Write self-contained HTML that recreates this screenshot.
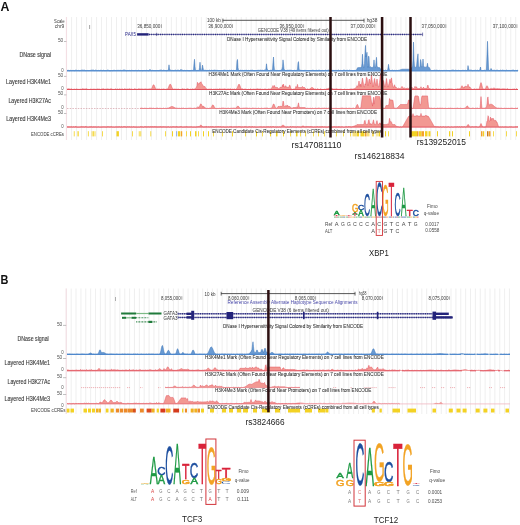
<!DOCTYPE html>
<html><head><meta charset="utf-8"><style>
html,body{margin:0;padding:0;background:#fff;}
svg{display:block;will-change:transform;}
text{font-family:"Liberation Sans", sans-serif;}
</style></head><body>
<svg width="520" height="525" viewBox="0 0 520 525">
<rect width="520" height="525" fill="#fff"/>
<text x="0.50" y="10.80" font-size="12.8" fill="#111" font-weight="bold" textLength="8.90" lengthAdjust="spacingAndGlyphs">A</text>
<line x1="66.60" y1="17.00" x2="66.60" y2="140.00" stroke="#ebebeb" stroke-width="0.8"/>
<line x1="71.59" y1="17.00" x2="71.59" y2="140.00" stroke="#ebebeb" stroke-width="0.8"/>
<line x1="76.58" y1="17.00" x2="76.58" y2="140.00" stroke="#ebebeb" stroke-width="0.8"/>
<line x1="81.57" y1="17.00" x2="81.57" y2="140.00" stroke="#ebebeb" stroke-width="0.8"/>
<line x1="86.56" y1="17.00" x2="86.56" y2="140.00" stroke="#ebebeb" stroke-width="0.8"/>
<line x1="91.55" y1="17.00" x2="91.55" y2="140.00" stroke="#ebebeb" stroke-width="0.8"/>
<line x1="96.54" y1="17.00" x2="96.54" y2="140.00" stroke="#ebebeb" stroke-width="0.8"/>
<line x1="101.53" y1="17.00" x2="101.53" y2="140.00" stroke="#ebebeb" stroke-width="0.8"/>
<line x1="106.52" y1="17.00" x2="106.52" y2="140.00" stroke="#ebebeb" stroke-width="0.8"/>
<line x1="111.51" y1="17.00" x2="111.51" y2="140.00" stroke="#ebebeb" stroke-width="0.8"/>
<line x1="116.50" y1="17.00" x2="116.50" y2="140.00" stroke="#ebebeb" stroke-width="0.8"/>
<line x1="121.49" y1="17.00" x2="121.49" y2="140.00" stroke="#ebebeb" stroke-width="0.8"/>
<line x1="126.48" y1="17.00" x2="126.48" y2="140.00" stroke="#ebebeb" stroke-width="0.8"/>
<line x1="131.47" y1="17.00" x2="131.47" y2="140.00" stroke="#ebebeb" stroke-width="0.8"/>
<line x1="136.46" y1="17.00" x2="136.46" y2="140.00" stroke="#ebebeb" stroke-width="0.8"/>
<line x1="141.45" y1="17.00" x2="141.45" y2="140.00" stroke="#ebebeb" stroke-width="0.8"/>
<line x1="146.44" y1="17.00" x2="146.44" y2="140.00" stroke="#ebebeb" stroke-width="0.8"/>
<line x1="151.43" y1="17.00" x2="151.43" y2="140.00" stroke="#ebebeb" stroke-width="0.8"/>
<line x1="156.42" y1="17.00" x2="156.42" y2="140.00" stroke="#ebebeb" stroke-width="0.8"/>
<line x1="161.41" y1="17.00" x2="161.41" y2="140.00" stroke="#ebebeb" stroke-width="0.8"/>
<line x1="166.40" y1="17.00" x2="166.40" y2="140.00" stroke="#ebebeb" stroke-width="0.8"/>
<line x1="171.39" y1="17.00" x2="171.39" y2="140.00" stroke="#ebebeb" stroke-width="0.8"/>
<line x1="176.38" y1="17.00" x2="176.38" y2="140.00" stroke="#ebebeb" stroke-width="0.8"/>
<line x1="181.37" y1="17.00" x2="181.37" y2="140.00" stroke="#ebebeb" stroke-width="0.8"/>
<line x1="186.36" y1="17.00" x2="186.36" y2="140.00" stroke="#ebebeb" stroke-width="0.8"/>
<line x1="191.35" y1="17.00" x2="191.35" y2="140.00" stroke="#ebebeb" stroke-width="0.8"/>
<line x1="196.34" y1="17.00" x2="196.34" y2="140.00" stroke="#ebebeb" stroke-width="0.8"/>
<line x1="201.33" y1="17.00" x2="201.33" y2="140.00" stroke="#ebebeb" stroke-width="0.8"/>
<line x1="206.32" y1="17.00" x2="206.32" y2="140.00" stroke="#ebebeb" stroke-width="0.8"/>
<line x1="211.31" y1="17.00" x2="211.31" y2="140.00" stroke="#ebebeb" stroke-width="0.8"/>
<line x1="216.30" y1="17.00" x2="216.30" y2="140.00" stroke="#ebebeb" stroke-width="0.8"/>
<line x1="221.29" y1="17.00" x2="221.29" y2="140.00" stroke="#ebebeb" stroke-width="0.8"/>
<line x1="226.28" y1="17.00" x2="226.28" y2="140.00" stroke="#ebebeb" stroke-width="0.8"/>
<line x1="231.27" y1="17.00" x2="231.27" y2="140.00" stroke="#ebebeb" stroke-width="0.8"/>
<line x1="236.26" y1="17.00" x2="236.26" y2="140.00" stroke="#ebebeb" stroke-width="0.8"/>
<line x1="241.25" y1="17.00" x2="241.25" y2="140.00" stroke="#ebebeb" stroke-width="0.8"/>
<line x1="246.24" y1="17.00" x2="246.24" y2="140.00" stroke="#ebebeb" stroke-width="0.8"/>
<line x1="251.23" y1="17.00" x2="251.23" y2="140.00" stroke="#ebebeb" stroke-width="0.8"/>
<line x1="256.22" y1="17.00" x2="256.22" y2="140.00" stroke="#ebebeb" stroke-width="0.8"/>
<line x1="261.21" y1="17.00" x2="261.21" y2="140.00" stroke="#ebebeb" stroke-width="0.8"/>
<line x1="266.20" y1="17.00" x2="266.20" y2="140.00" stroke="#ebebeb" stroke-width="0.8"/>
<line x1="271.19" y1="17.00" x2="271.19" y2="140.00" stroke="#ebebeb" stroke-width="0.8"/>
<line x1="276.18" y1="17.00" x2="276.18" y2="140.00" stroke="#ebebeb" stroke-width="0.8"/>
<line x1="281.17" y1="17.00" x2="281.17" y2="140.00" stroke="#ebebeb" stroke-width="0.8"/>
<line x1="286.16" y1="17.00" x2="286.16" y2="140.00" stroke="#ebebeb" stroke-width="0.8"/>
<line x1="291.15" y1="17.00" x2="291.15" y2="140.00" stroke="#ebebeb" stroke-width="0.8"/>
<line x1="296.14" y1="17.00" x2="296.14" y2="140.00" stroke="#ebebeb" stroke-width="0.8"/>
<line x1="301.13" y1="17.00" x2="301.13" y2="140.00" stroke="#ebebeb" stroke-width="0.8"/>
<line x1="306.12" y1="17.00" x2="306.12" y2="140.00" stroke="#ebebeb" stroke-width="0.8"/>
<line x1="311.11" y1="17.00" x2="311.11" y2="140.00" stroke="#ebebeb" stroke-width="0.8"/>
<line x1="316.10" y1="17.00" x2="316.10" y2="140.00" stroke="#ebebeb" stroke-width="0.8"/>
<line x1="321.09" y1="17.00" x2="321.09" y2="140.00" stroke="#ebebeb" stroke-width="0.8"/>
<line x1="326.08" y1="17.00" x2="326.08" y2="140.00" stroke="#ebebeb" stroke-width="0.8"/>
<line x1="331.07" y1="17.00" x2="331.07" y2="140.00" stroke="#ebebeb" stroke-width="0.8"/>
<line x1="336.06" y1="17.00" x2="336.06" y2="140.00" stroke="#ebebeb" stroke-width="0.8"/>
<line x1="341.05" y1="17.00" x2="341.05" y2="140.00" stroke="#ebebeb" stroke-width="0.8"/>
<line x1="346.04" y1="17.00" x2="346.04" y2="140.00" stroke="#ebebeb" stroke-width="0.8"/>
<line x1="351.03" y1="17.00" x2="351.03" y2="140.00" stroke="#ebebeb" stroke-width="0.8"/>
<line x1="356.02" y1="17.00" x2="356.02" y2="140.00" stroke="#ebebeb" stroke-width="0.8"/>
<line x1="361.01" y1="17.00" x2="361.01" y2="140.00" stroke="#ebebeb" stroke-width="0.8"/>
<line x1="366.00" y1="17.00" x2="366.00" y2="140.00" stroke="#ebebeb" stroke-width="0.8"/>
<line x1="370.99" y1="17.00" x2="370.99" y2="140.00" stroke="#ebebeb" stroke-width="0.8"/>
<line x1="375.98" y1="17.00" x2="375.98" y2="140.00" stroke="#ebebeb" stroke-width="0.8"/>
<line x1="380.97" y1="17.00" x2="380.97" y2="140.00" stroke="#ebebeb" stroke-width="0.8"/>
<line x1="385.96" y1="17.00" x2="385.96" y2="140.00" stroke="#ebebeb" stroke-width="0.8"/>
<line x1="390.95" y1="17.00" x2="390.95" y2="140.00" stroke="#ebebeb" stroke-width="0.8"/>
<line x1="395.94" y1="17.00" x2="395.94" y2="140.00" stroke="#ebebeb" stroke-width="0.8"/>
<line x1="400.93" y1="17.00" x2="400.93" y2="140.00" stroke="#ebebeb" stroke-width="0.8"/>
<line x1="405.92" y1="17.00" x2="405.92" y2="140.00" stroke="#ebebeb" stroke-width="0.8"/>
<line x1="410.91" y1="17.00" x2="410.91" y2="140.00" stroke="#ebebeb" stroke-width="0.8"/>
<line x1="415.90" y1="17.00" x2="415.90" y2="140.00" stroke="#ebebeb" stroke-width="0.8"/>
<line x1="420.89" y1="17.00" x2="420.89" y2="140.00" stroke="#ebebeb" stroke-width="0.8"/>
<line x1="425.88" y1="17.00" x2="425.88" y2="140.00" stroke="#ebebeb" stroke-width="0.8"/>
<line x1="430.87" y1="17.00" x2="430.87" y2="140.00" stroke="#ebebeb" stroke-width="0.8"/>
<line x1="435.86" y1="17.00" x2="435.86" y2="140.00" stroke="#ebebeb" stroke-width="0.8"/>
<line x1="440.85" y1="17.00" x2="440.85" y2="140.00" stroke="#ebebeb" stroke-width="0.8"/>
<line x1="445.84" y1="17.00" x2="445.84" y2="140.00" stroke="#ebebeb" stroke-width="0.8"/>
<line x1="450.83" y1="17.00" x2="450.83" y2="140.00" stroke="#ebebeb" stroke-width="0.8"/>
<line x1="455.82" y1="17.00" x2="455.82" y2="140.00" stroke="#ebebeb" stroke-width="0.8"/>
<line x1="460.81" y1="17.00" x2="460.81" y2="140.00" stroke="#ebebeb" stroke-width="0.8"/>
<line x1="465.80" y1="17.00" x2="465.80" y2="140.00" stroke="#ebebeb" stroke-width="0.8"/>
<line x1="470.79" y1="17.00" x2="470.79" y2="140.00" stroke="#ebebeb" stroke-width="0.8"/>
<line x1="475.78" y1="17.00" x2="475.78" y2="140.00" stroke="#ebebeb" stroke-width="0.8"/>
<line x1="480.77" y1="17.00" x2="480.77" y2="140.00" stroke="#ebebeb" stroke-width="0.8"/>
<line x1="485.76" y1="17.00" x2="485.76" y2="140.00" stroke="#ebebeb" stroke-width="0.8"/>
<line x1="490.75" y1="17.00" x2="490.75" y2="140.00" stroke="#ebebeb" stroke-width="0.8"/>
<line x1="495.74" y1="17.00" x2="495.74" y2="140.00" stroke="#ebebeb" stroke-width="0.8"/>
<line x1="500.73" y1="17.00" x2="500.73" y2="140.00" stroke="#ebebeb" stroke-width="0.8"/>
<line x1="505.72" y1="17.00" x2="505.72" y2="140.00" stroke="#ebebeb" stroke-width="0.8"/>
<line x1="510.71" y1="17.00" x2="510.71" y2="140.00" stroke="#ebebeb" stroke-width="0.8"/>
<line x1="515.70" y1="17.00" x2="515.70" y2="140.00" stroke="#ebebeb" stroke-width="0.8"/>
<line x1="66.40" y1="17.00" x2="66.40" y2="140.00" stroke="#f5d8de" stroke-width="0.8"/>
<text x="54.10" y="22.90" font-size="4.6" fill="#3a3a3a" textLength="10.50" lengthAdjust="spacingAndGlyphs">Scale</text>
<text x="54.80" y="28.30" font-size="4.6" fill="#3a3a3a" textLength="9.40" lengthAdjust="spacingAndGlyphs">chr9</text>
<text x="57.90" y="41.80" font-size="4.6" fill="#555555" textLength="5.40" lengthAdjust="spacingAndGlyphs">50</text>
<line x1="64.00" y1="41.50" x2="66.40" y2="41.50" stroke="#999" stroke-width="0.6"/>
<text x="19.50" y="56.90" font-size="6.7" fill="#3a3a3a" textLength="31.60" lengthAdjust="spacingAndGlyphs" stroke="#3a3a3a" stroke-width="0.12">DNase signal</text>
<text x="61.20" y="71.50" font-size="4.6" fill="#555555" textLength="2.40" lengthAdjust="spacingAndGlyphs">0</text>
<text x="57.90" y="76.70" font-size="4.6" fill="#555555" textLength="5.40" lengthAdjust="spacingAndGlyphs">50</text>
<line x1="64.00" y1="76.40" x2="66.40" y2="76.40" stroke="#999" stroke-width="0.6"/>
<text x="6.00" y="84.00" font-size="6.7" fill="#3a3a3a" textLength="45.00" lengthAdjust="spacingAndGlyphs" stroke="#3a3a3a" stroke-width="0.12">Layered H3K4Me1</text>
<text x="61.20" y="90.00" font-size="4.6" fill="#555555" textLength="2.40" lengthAdjust="spacingAndGlyphs">0</text>
<text x="57.90" y="95.20" font-size="4.6" fill="#555555" textLength="5.40" lengthAdjust="spacingAndGlyphs">50</text>
<line x1="64.00" y1="94.90" x2="66.40" y2="94.90" stroke="#999" stroke-width="0.6"/>
<text x="8.40" y="102.70" font-size="6.7" fill="#3a3a3a" textLength="42.60" lengthAdjust="spacingAndGlyphs" stroke="#3a3a3a" stroke-width="0.12">Layered H3K27Ac</text>
<text x="61.20" y="108.70" font-size="4.6" fill="#555555" textLength="2.40" lengthAdjust="spacingAndGlyphs">0</text>
<text x="57.90" y="113.80" font-size="4.6" fill="#555555" textLength="5.40" lengthAdjust="spacingAndGlyphs">50</text>
<line x1="64.00" y1="113.50" x2="66.40" y2="113.50" stroke="#999" stroke-width="0.6"/>
<text x="6.20" y="121.40" font-size="6.7" fill="#3a3a3a" textLength="44.80" lengthAdjust="spacingAndGlyphs" stroke="#3a3a3a" stroke-width="0.12">Layered H3K4Me3</text>
<text x="61.20" y="127.60" font-size="4.6" fill="#555555" textLength="2.40" lengthAdjust="spacingAndGlyphs">0</text>
<text x="31.00" y="136.40" font-size="4.6" fill="#3a3a3a" textLength="33.00" lengthAdjust="spacingAndGlyphs">ENCODE cCREs</text>
<text x="88.90" y="27.50" font-size="4.4" fill="#555" textLength="1.60" lengthAdjust="spacingAndGlyphs">|</text>
<text x="206.90" y="22.00" font-size="5.0" fill="#3a3a3a" textLength="13.90" lengthAdjust="spacingAndGlyphs">100 kb</text>
<line x1="222.70" y1="20.30" x2="364.20" y2="20.30" stroke="#444" stroke-width="0.9"/>
<line x1="222.90" y1="18.60" x2="222.90" y2="22.60" stroke="#444" stroke-width="0.8"/>
<line x1="364.00" y1="18.60" x2="364.00" y2="22.60" stroke="#444" stroke-width="0.8"/>
<text x="366.70" y="21.80" font-size="5.0" fill="#3a3a3a" textLength="10.70" lengthAdjust="spacingAndGlyphs">hg38</text>
<text x="137.20" y="28.10" font-size="5.2" fill="#3a3a3a" textLength="23.20" lengthAdjust="spacingAndGlyphs">36,850,000</text>
<line x1="161.40" y1="24.20" x2="161.40" y2="28.00" stroke="#555" stroke-width="0.5"/>
<text x="208.30" y="28.10" font-size="5.2" fill="#3a3a3a" textLength="23.20" lengthAdjust="spacingAndGlyphs">36,900,000</text>
<line x1="232.50" y1="24.20" x2="232.50" y2="28.00" stroke="#555" stroke-width="0.5"/>
<text x="279.40" y="28.10" font-size="5.2" fill="#3a3a3a" textLength="23.20" lengthAdjust="spacingAndGlyphs">36,950,000</text>
<line x1="303.60" y1="24.20" x2="303.60" y2="28.00" stroke="#555" stroke-width="0.5"/>
<text x="350.50" y="28.10" font-size="5.2" fill="#3a3a3a" textLength="23.20" lengthAdjust="spacingAndGlyphs">37,000,000</text>
<line x1="374.70" y1="24.20" x2="374.70" y2="28.00" stroke="#555" stroke-width="0.5"/>
<text x="421.60" y="28.10" font-size="5.2" fill="#3a3a3a" textLength="23.20" lengthAdjust="spacingAndGlyphs">37,050,000</text>
<line x1="445.80" y1="24.20" x2="445.80" y2="28.00" stroke="#555" stroke-width="0.5"/>
<text x="492.70" y="28.10" font-size="5.2" fill="#3a3a3a" textLength="23.20" lengthAdjust="spacingAndGlyphs">37,100,000</text>
<line x1="516.90" y1="24.20" x2="516.90" y2="28.00" stroke="#555" stroke-width="0.5"/>
<text x="257.80" y="32.20" font-size="4.8" fill="#3a3a3a" textLength="70.90" lengthAdjust="spacingAndGlyphs">GENCODE V38 (49 items filtered out)</text>
<text x="125.00" y="36.00" font-size="4.6" fill="#2a2a8a" textLength="11.00" lengthAdjust="spacingAndGlyphs">PAX5</text>
<rect x="137.10" y="33.20" width="11.50" height="2.40" fill="#23237a"/>
<line x1="148.60" y1="34.40" x2="422.50" y2="34.40" stroke="#23237a" stroke-width="0.6"/>
<line x1="149" y1="34.4" x2="422" y2="34.4" stroke="#23237a" stroke-width="1.5" stroke-dasharray="0.9 1.3"/>
<line x1="422.60" y1="32.60" x2="422.60" y2="36.20" stroke="#23237a" stroke-width="0.6"/>
<line x1="156.70" y1="32.80" x2="156.70" y2="36.00" stroke="#23237a" stroke-width="0.6"/>
<text x="227.00" y="41.30" font-size="4.9" fill="#303030" textLength="140.20" lengthAdjust="spacingAndGlyphs" stroke="#303030" stroke-width="0.06">DNase I Hypersensitivity Signal Colored by Similarity from ENCODE</text>
<path d="M67.0,70.8L67.0,70.61L67.5,70.36L68.0,70.50L68.5,70.32L69.0,70.30L69.5,70.75L70.0,70.79L70.5,70.13L71.0,70.59L71.5,70.61L72.0,70.00L72.5,70.42L73.0,70.13L73.5,70.42L74.0,70.29L74.5,70.68L75.0,70.29L75.5,70.11L76.0,70.38L76.5,70.21L77.0,70.26L77.5,70.75L78.0,70.19L78.5,70.33L79.0,70.56L79.5,70.78L80.0,70.11L80.5,70.42L81.0,70.22L81.5,70.10L82.0,70.23L82.5,70.06L83.0,70.48L83.5,70.16L84.0,70.44L84.5,70.05L85.0,70.10L85.5,70.72L86.0,70.69L86.5,70.63L87.0,70.03L87.5,70.45L88.0,70.30L88.5,70.56L89.0,70.39L89.5,70.49L90.0,70.52L90.5,70.33L91.0,70.33L91.5,70.08L92.0,70.25L92.5,70.06L93.0,70.11L93.5,70.01L94.0,70.26L94.5,70.67L95.0,70.11L95.5,70.03L96.0,70.08L96.5,70.34L97.0,70.23L97.5,70.63L98.0,70.13L98.5,70.34L99.0,70.57L99.5,70.75L100.0,70.12L100.5,70.01L101.0,70.73L101.5,70.16L102.0,70.47L102.5,70.68L103.0,70.56L103.5,70.18L104.0,70.10L104.5,70.76L105.0,70.31L105.5,70.76L106.0,70.23L106.5,70.54L107.0,70.10L107.5,70.02L108.0,70.40L108.5,70.00L109.0,70.55L109.5,70.74L110.0,70.32L110.5,70.77L111.0,70.64L111.5,70.47L112.0,70.31L112.5,70.68L113.0,70.77L113.5,70.11L114.0,70.55L114.5,70.03L115.0,70.08L115.5,70.50L116.0,70.43L116.5,70.38L117.0,70.28L117.5,70.32L118.0,70.35L118.5,70.30L119.0,70.05L119.5,70.39L120.0,70.46L120.5,70.22L121.0,70.61L121.5,70.56L122.0,70.02L122.5,70.38L123.0,70.36L123.5,70.35L124.0,69.60L124.5,70.34L125.0,70.78L125.5,70.31L126.0,70.29L126.5,70.75L127.0,70.30L127.5,70.43L128.0,70.26L128.5,70.52L129.0,70.23L129.5,70.21L130.0,70.78L130.5,70.75L131.0,70.26L131.5,70.03L132.0,70.60L132.5,70.43L133.0,70.33L133.5,70.54L134.0,70.51L134.5,70.55L135.0,70.50L135.5,70.32L136.0,70.56L136.5,70.50L137.0,70.18L137.5,70.78L138.0,70.34L138.5,70.21L139.0,70.55L139.5,70.62L140.0,70.16L140.5,70.61L141.0,70.65L141.5,70.45L142.0,70.24L142.5,70.72L143.0,70.54L143.5,70.53L144.0,70.13L144.5,70.45L145.0,70.12L145.5,70.66L146.0,70.53L146.5,70.28L147.0,70.09L147.5,70.44L148.0,70.62L148.5,70.70L149.0,70.38L149.5,70.24L150.0,69.30L150.5,70.13L151.0,70.65L151.5,70.58L152.0,70.15L152.5,70.29L153.0,70.15L153.5,70.52L154.0,70.70L154.5,70.57L155.0,70.16L155.5,70.58L156.0,70.52L156.5,70.47L157.0,70.46L157.5,70.47L158.0,70.06L158.5,70.68L159.0,70.80L159.5,70.05L160.0,70.10L160.5,70.01L161.0,70.45L161.5,70.04L162.0,70.06L162.5,70.62L163.0,70.20L163.5,70.13L164.0,70.27L164.5,70.38L165.0,70.57L165.5,70.53L166.0,70.62L166.5,70.75L167.0,70.33L167.5,70.57L168.0,70.15L168.5,69.09L169.0,64.80L169.5,69.09L170.0,70.06L170.5,70.08L171.0,70.08L171.5,70.34L172.0,70.79L172.5,70.20L173.0,70.66L173.5,70.56L174.0,70.27L174.5,70.38L175.0,70.47L175.5,70.05L176.0,70.31L176.5,70.53L177.0,70.60L177.5,70.11L178.0,70.42L178.5,70.17L179.0,70.52L179.5,70.64L180.0,70.37L180.5,70.15L181.0,69.30L181.5,70.17L182.0,70.06L182.5,70.16L183.0,70.14L183.5,70.79L184.0,70.30L184.5,70.11L185.0,70.76L185.5,70.58L186.0,70.59L186.5,70.38L187.0,70.46L187.5,70.42L188.0,70.18L188.5,70.80L189.0,70.76L189.5,70.70L190.0,70.70L190.5,70.75L191.0,70.02L191.5,70.12L192.0,70.73L192.5,70.40L193.0,70.55L193.5,70.55L194.0,63.58L194.5,59.24L195.0,66.47L195.5,70.51L196.0,70.65L196.5,70.54L197.0,70.70L197.5,70.36L198.0,70.23L198.5,70.50L199.0,70.74L199.5,67.58L200.0,62.20L200.5,67.58L201.0,70.17L201.5,70.50L202.0,69.17L202.5,65.11L203.0,67.55L203.5,70.50L204.0,70.40L204.5,70.24L205.0,70.46L205.5,70.24L206.0,70.43L206.5,70.60L207.0,70.37L207.5,70.24L208.0,70.74L208.5,70.46L209.0,70.46L209.5,70.10L210.0,70.05L210.5,70.50L211.0,70.08L211.5,70.17L212.0,70.59L212.5,70.43L213.0,70.70L213.5,70.15L214.0,70.27L214.5,70.09L215.0,70.17L215.5,70.27L216.0,70.21L216.5,70.35L217.0,70.72L217.5,70.33L218.0,70.80L218.5,70.69L219.0,70.18L219.5,70.76L220.0,70.73L220.5,70.72L221.0,70.10L221.5,70.66L222.0,70.78L222.5,70.13L223.0,70.70L223.5,70.12L224.0,70.26L224.5,70.13L225.0,70.04L225.5,70.34L226.0,70.16L226.5,70.77L227.0,70.19L227.5,70.39L228.0,70.23L228.5,70.71L229.0,70.20L229.5,70.05L230.0,70.75L230.5,70.54L231.0,70.35L231.5,70.14L232.0,70.61L232.5,70.66L233.0,70.60L233.5,70.31L234.0,70.20L234.5,70.49L235.0,70.51L235.5,70.48L236.0,70.52L236.5,69.18L237.0,61.07L237.5,59.44L238.0,67.56L238.5,70.47L239.0,70.20L239.5,70.67L240.0,70.25L240.5,70.20L241.0,70.26L241.5,70.39L242.0,70.41L242.5,70.29L243.0,70.08L243.5,70.68L244.0,70.72L244.5,70.20L245.0,70.07L245.5,70.39L246.0,70.45L246.5,70.22L247.0,70.65L247.5,70.59L248.0,70.64L248.5,70.33L249.0,70.55L249.5,70.61L250.0,70.25L250.5,70.04L251.0,70.56L251.5,70.24L252.0,70.47L252.5,70.12L253.0,70.33L253.5,70.59L254.0,70.63L254.5,70.78L255.0,70.42L255.5,70.49L256.0,70.66L256.5,70.51L257.0,70.54L257.5,70.18L258.0,70.69L258.5,70.01L259.0,70.42L259.5,70.32L260.0,70.43L260.5,70.13L261.0,70.14L261.5,70.35L262.0,70.41L262.5,70.22L263.0,70.11L263.5,70.48L264.0,70.21L264.5,70.03L265.0,70.43L265.5,70.62L266.0,68.17L266.5,63.80L267.0,68.17L267.5,70.03L268.0,70.12L268.5,70.61L269.0,70.65L269.5,70.59L270.0,70.65L270.5,70.24L271.0,70.11L271.5,70.08L272.0,70.60L272.5,70.11L273.0,62.19L273.5,57.02L274.0,65.63L274.5,70.73L275.0,70.73L275.5,70.13L276.0,70.57L276.5,70.51L277.0,70.34L277.5,70.26L278.0,70.79L278.5,70.53L279.0,70.45L279.5,70.41L280.0,70.63L280.5,70.33L281.0,70.04L281.5,69.92L282.0,69.05L282.5,66.70L283.0,59.87L283.5,63.97L284.0,69.05L284.5,69.92L285.0,70.07L285.5,70.72L286.0,70.05L286.5,70.50L287.0,70.18L287.5,70.19L288.0,70.56L288.5,70.26L289.0,70.28L289.5,70.16L290.0,70.59L290.5,70.20L291.0,70.03L291.5,70.26L292.0,70.37L292.5,70.71L293.0,70.40L293.5,70.52L294.0,70.23L294.5,70.26L295.0,70.35L295.5,70.65L296.0,70.28L296.5,70.30L297.0,70.66L297.5,69.49L298.0,62.93L298.5,61.62L299.0,68.18L299.5,70.69L300.0,70.53L300.5,70.22L301.0,70.32L301.5,70.36L302.0,70.28L302.5,70.43L303.0,70.55L303.5,70.66L304.0,70.75L304.5,70.23L305.0,70.20L305.5,70.37L306.0,70.21L306.5,70.51L307.0,70.59L307.5,70.49L308.0,70.10L308.5,70.77L309.0,70.40L309.5,70.60L310.0,70.18L310.5,70.52L311.0,70.53L311.5,70.48L312.0,70.37L312.5,70.18L313.0,70.52L313.5,70.12L314.0,70.71L314.5,70.58L315.0,70.72L315.5,70.71L316.0,70.18L316.5,70.22L317.0,70.65L317.5,70.65L318.0,70.47L318.5,70.21L319.0,70.15L319.5,70.20L320.0,70.33L320.5,70.68L321.0,70.48L321.5,70.65L322.0,70.38L322.5,70.35L323.0,70.64L323.5,70.60L324.0,70.17L324.5,70.78L325.0,70.16L325.5,70.09L326.0,70.04L326.5,70.49L327.0,70.36L327.5,70.33L328.0,70.29L328.5,70.02L329.0,70.25L329.5,70.56L330.0,70.11L330.5,70.41L331.0,70.32L331.5,70.22L332.0,70.80L332.5,70.18L333.0,70.27L333.5,70.41L334.0,70.38L334.5,70.43L335.0,70.65L335.5,70.38L336.0,70.77L336.5,70.40L337.0,70.28L337.5,70.44L338.0,70.35L338.5,70.03L339.0,70.09L339.5,70.69L340.0,70.17L340.5,70.30L341.0,70.76L341.5,70.51L342.0,70.61L342.5,70.74L343.0,70.37L343.5,70.06L344.0,70.54L344.5,70.10L345.0,70.24L345.5,70.69L346.0,70.11L346.5,70.32L347.0,70.06L347.5,70.23L348.0,70.21L348.5,70.53L349.0,70.15L349.5,70.05L350.0,70.11L350.5,70.45L351.0,70.19L351.5,70.41L352.0,70.71L352.5,70.77L353.0,70.74L353.5,70.64L354.0,70.67L354.5,70.40L355.0,70.24L355.5,70.37L356.0,70.46L356.5,70.10L357.0,68.93L357.5,67.77L358.0,67.80L358.5,67.60L359.0,67.60L359.5,67.60L360.0,67.60L360.5,67.60L361.0,67.60L361.5,67.60L362.0,63.42L362.5,54.20L363.0,63.42L363.5,67.60L364.0,67.60L364.5,63.87L365.0,52.33L365.5,45.41L366.0,56.95L366.5,54.93L367.0,52.29L367.5,65.51L368.0,67.47L368.5,56.36L369.0,56.36L369.5,67.47L370.0,67.60L370.5,66.60L371.0,67.30L371.5,67.60L372.0,67.60L372.5,67.60L373.0,67.60L373.5,65.96L374.0,59.90L374.5,65.96L375.0,67.60L375.5,67.60L376.0,62.36L376.5,57.29L377.0,65.73L377.5,67.60L378.0,67.60L378.5,67.60L379.0,67.35L379.5,67.60L380.0,68.24L380.5,68.88L381.0,69.52L381.5,70.16L382.0,70.60L382.5,70.59L383.0,70.15L383.5,70.30L384.0,70.52L384.5,70.73L385.0,70.25L385.5,70.02L386.0,70.33L386.5,70.80L387.0,70.78L387.5,70.73L388.0,67.91L388.5,64.30L389.0,67.91L389.5,70.28L390.0,70.08L390.5,70.64L391.0,70.02L391.5,70.42L392.0,70.16L392.5,70.07L393.0,70.05L393.5,70.77L394.0,70.56L394.5,70.31L395.0,70.04L395.5,70.73L396.0,70.57L396.5,70.12L397.0,70.71L397.5,70.49L398.0,70.53L398.5,70.26L399.0,70.06L399.5,70.09L400.0,69.91L400.5,69.73L401.0,69.56L401.5,69.38L402.0,69.20L402.5,69.20L403.0,69.20L403.5,69.20L404.0,69.20L404.5,69.20L405.0,69.20L405.5,69.20L406.0,69.20L406.5,69.20L407.0,69.20L407.5,69.20L408.0,69.20L408.5,69.20L409.0,69.20L409.5,69.38L410.0,69.56L410.5,69.73L411.0,68.88L411.5,67.68L412.0,67.20L412.5,67.20L413.0,60.04L413.5,42.10L414.0,60.04L414.5,67.20L415.0,67.20L415.5,67.20L416.0,67.20L416.5,67.20L417.0,61.49L417.5,57.20L418.0,53.80L418.5,67.20L419.0,67.20L419.5,67.20L420.0,67.20L420.5,59.55L421.0,61.43L421.5,67.20L422.0,67.20L422.5,65.56L423.0,59.00L423.5,65.56L424.0,67.20L424.5,67.20L425.0,67.20L425.5,67.20L426.0,67.20L426.5,67.20L427.0,66.08L427.5,63.24L428.0,67.20L428.5,67.20L429.0,67.20L429.5,67.68L430.0,68.88L430.5,70.08L431.0,70.78L431.5,70.03L432.0,70.64L432.5,70.09L433.0,70.73L433.5,70.43L434.0,70.62L434.5,70.14L435.0,70.31L435.5,70.29L436.0,70.19L436.5,70.10L437.0,70.52L437.5,70.32L438.0,70.44L438.5,70.71L439.0,70.13L439.5,70.32L440.0,70.15L440.5,70.64L441.0,70.37L441.5,70.43L442.0,70.22L442.5,70.74L443.0,70.52L443.5,70.41L444.0,70.74L444.5,70.36L445.0,70.21L445.5,70.46L446.0,70.28L446.5,70.32L447.0,70.63L447.5,70.52L448.0,70.00L448.5,70.53L449.0,70.46L449.5,70.73L450.0,70.63L450.5,70.67L451.0,70.06L451.5,70.22L452.0,70.10L452.5,70.01L453.0,70.31L453.5,70.05L454.0,70.37L454.5,70.47L455.0,70.04L455.5,70.08L456.0,70.04L456.5,70.41L457.0,70.18L457.5,70.47L458.0,70.00L458.5,70.06L459.0,70.57L459.5,70.05L460.0,70.65L460.5,70.72L461.0,70.22L461.5,70.56L462.0,70.38L462.5,70.29L463.0,70.77L463.5,70.20L464.0,70.58L464.5,70.45L465.0,70.52L465.5,70.21L466.0,70.20L466.5,70.57L467.0,70.72L467.5,69.93L468.0,65.57L468.5,68.19L469.0,70.68L469.5,70.19L470.0,70.24L470.5,70.02L471.0,70.02L471.5,70.10L472.0,70.50L472.5,70.67L473.0,70.55L473.5,70.43L474.0,70.38L474.5,70.37L475.0,70.51L475.5,70.12L476.0,70.57L476.5,70.43L477.0,70.09L477.5,70.15L478.0,70.56L478.5,70.61L479.0,70.15L479.5,70.79L480.0,68.91L480.5,67.03L481.0,70.17L481.5,70.67L482.0,70.76L482.5,70.64L483.0,70.18L483.5,70.43L484.0,70.02L484.5,70.17L485.0,70.02L485.5,70.77L486.0,70.65L486.5,68.12L487.0,54.71L487.5,41.30L488.0,54.71L488.5,68.12L489.0,70.72L489.5,70.55L490.0,70.60L490.5,70.16L491.0,68.47L491.5,69.05L492.0,70.76L492.5,70.46L493.0,70.30L493.5,70.26L494.0,70.07L494.5,70.15L495.0,70.60L495.5,70.69L496.0,70.19L496.5,70.17L497.0,70.39L497.5,70.14L498.0,70.36L498.5,70.58L499.0,70.67L499.5,70.79L500.0,70.29L500.5,70.08L501.0,70.08L501.5,70.43L502.0,70.27L502.5,70.06L503.0,70.15L503.5,70.32L504.0,70.47L504.5,70.39L505.0,70.66L505.5,70.65L506.0,70.25L506.5,70.01L507.0,70.36L507.5,70.47L508.0,70.52L508.5,70.44L509.0,70.16L509.5,70.44L510.0,70.03L510.5,70.68L511.0,70.55L511.5,70.38L512.0,70.47L512.5,70.12L513.0,70.14L513.5,70.05L514.0,70.31L514.5,70.78L515.0,70.34L515.5,70.36L516.0,70.41L516.5,70.58L517.0,70.23L517.5,70.07L518.0,70.72L518.0,70.8Z" fill="#6a9bd3" stroke="none"/>
<path d="M67.0,70.61L67.5,70.36L68.0,70.50L68.5,70.32L69.0,70.30L69.5,70.75L70.0,70.79L70.5,70.13L71.0,70.59L71.5,70.61L72.0,70.00L72.5,70.42L73.0,70.13L73.5,70.42L74.0,70.29L74.5,70.68L75.0,70.29L75.5,70.11L76.0,70.38L76.5,70.21L77.0,70.26L77.5,70.75L78.0,70.19L78.5,70.33L79.0,70.56L79.5,70.78L80.0,70.11L80.5,70.42L81.0,70.22L81.5,70.10L82.0,70.23L82.5,70.06L83.0,70.48L83.5,70.16L84.0,70.44L84.5,70.05L85.0,70.10L85.5,70.72L86.0,70.69L86.5,70.63L87.0,70.03L87.5,70.45L88.0,70.30L88.5,70.56L89.0,70.39L89.5,70.49L90.0,70.52L90.5,70.33L91.0,70.33L91.5,70.08L92.0,70.25L92.5,70.06L93.0,70.11L93.5,70.01L94.0,70.26L94.5,70.67L95.0,70.11L95.5,70.03L96.0,70.08L96.5,70.34L97.0,70.23L97.5,70.63L98.0,70.13L98.5,70.34L99.0,70.57L99.5,70.75L100.0,70.12L100.5,70.01L101.0,70.73L101.5,70.16L102.0,70.47L102.5,70.68L103.0,70.56L103.5,70.18L104.0,70.10L104.5,70.76L105.0,70.31L105.5,70.76L106.0,70.23L106.5,70.54L107.0,70.10L107.5,70.02L108.0,70.40L108.5,70.00L109.0,70.55L109.5,70.74L110.0,70.32L110.5,70.77L111.0,70.64L111.5,70.47L112.0,70.31L112.5,70.68L113.0,70.77L113.5,70.11L114.0,70.55L114.5,70.03L115.0,70.08L115.5,70.50L116.0,70.43L116.5,70.38L117.0,70.28L117.5,70.32L118.0,70.35L118.5,70.30L119.0,70.05L119.5,70.39L120.0,70.46L120.5,70.22L121.0,70.61L121.5,70.56L122.0,70.02L122.5,70.38L123.0,70.36L123.5,70.35L124.0,69.60L124.5,70.34L125.0,70.78L125.5,70.31L126.0,70.29L126.5,70.75L127.0,70.30L127.5,70.43L128.0,70.26L128.5,70.52L129.0,70.23L129.5,70.21L130.0,70.78L130.5,70.75L131.0,70.26L131.5,70.03L132.0,70.60L132.5,70.43L133.0,70.33L133.5,70.54L134.0,70.51L134.5,70.55L135.0,70.50L135.5,70.32L136.0,70.56L136.5,70.50L137.0,70.18L137.5,70.78L138.0,70.34L138.5,70.21L139.0,70.55L139.5,70.62L140.0,70.16L140.5,70.61L141.0,70.65L141.5,70.45L142.0,70.24L142.5,70.72L143.0,70.54L143.5,70.53L144.0,70.13L144.5,70.45L145.0,70.12L145.5,70.66L146.0,70.53L146.5,70.28L147.0,70.09L147.5,70.44L148.0,70.62L148.5,70.70L149.0,70.38L149.5,70.24L150.0,69.30L150.5,70.13L151.0,70.65L151.5,70.58L152.0,70.15L152.5,70.29L153.0,70.15L153.5,70.52L154.0,70.70L154.5,70.57L155.0,70.16L155.5,70.58L156.0,70.52L156.5,70.47L157.0,70.46L157.5,70.47L158.0,70.06L158.5,70.68L159.0,70.80L159.5,70.05L160.0,70.10L160.5,70.01L161.0,70.45L161.5,70.04L162.0,70.06L162.5,70.62L163.0,70.20L163.5,70.13L164.0,70.27L164.5,70.38L165.0,70.57L165.5,70.53L166.0,70.62L166.5,70.75L167.0,70.33L167.5,70.57L168.0,70.15L168.5,69.09L169.0,64.80L169.5,69.09L170.0,70.06L170.5,70.08L171.0,70.08L171.5,70.34L172.0,70.79L172.5,70.20L173.0,70.66L173.5,70.56L174.0,70.27L174.5,70.38L175.0,70.47L175.5,70.05L176.0,70.31L176.5,70.53L177.0,70.60L177.5,70.11L178.0,70.42L178.5,70.17L179.0,70.52L179.5,70.64L180.0,70.37L180.5,70.15L181.0,69.30L181.5,70.17L182.0,70.06L182.5,70.16L183.0,70.14L183.5,70.79L184.0,70.30L184.5,70.11L185.0,70.76L185.5,70.58L186.0,70.59L186.5,70.38L187.0,70.46L187.5,70.42L188.0,70.18L188.5,70.80L189.0,70.76L189.5,70.70L190.0,70.70L190.5,70.75L191.0,70.02L191.5,70.12L192.0,70.73L192.5,70.40L193.0,70.55L193.5,70.55L194.0,63.58L194.5,59.24L195.0,66.47L195.5,70.51L196.0,70.65L196.5,70.54L197.0,70.70L197.5,70.36L198.0,70.23L198.5,70.50L199.0,70.74L199.5,67.58L200.0,62.20L200.5,67.58L201.0,70.17L201.5,70.50L202.0,69.17L202.5,65.11L203.0,67.55L203.5,70.50L204.0,70.40L204.5,70.24L205.0,70.46L205.5,70.24L206.0,70.43L206.5,70.60L207.0,70.37L207.5,70.24L208.0,70.74L208.5,70.46L209.0,70.46L209.5,70.10L210.0,70.05L210.5,70.50L211.0,70.08L211.5,70.17L212.0,70.59L212.5,70.43L213.0,70.70L213.5,70.15L214.0,70.27L214.5,70.09L215.0,70.17L215.5,70.27L216.0,70.21L216.5,70.35L217.0,70.72L217.5,70.33L218.0,70.80L218.5,70.69L219.0,70.18L219.5,70.76L220.0,70.73L220.5,70.72L221.0,70.10L221.5,70.66L222.0,70.78L222.5,70.13L223.0,70.70L223.5,70.12L224.0,70.26L224.5,70.13L225.0,70.04L225.5,70.34L226.0,70.16L226.5,70.77L227.0,70.19L227.5,70.39L228.0,70.23L228.5,70.71L229.0,70.20L229.5,70.05L230.0,70.75L230.5,70.54L231.0,70.35L231.5,70.14L232.0,70.61L232.5,70.66L233.0,70.60L233.5,70.31L234.0,70.20L234.5,70.49L235.0,70.51L235.5,70.48L236.0,70.52L236.5,69.18L237.0,61.07L237.5,59.44L238.0,67.56L238.5,70.47L239.0,70.20L239.5,70.67L240.0,70.25L240.5,70.20L241.0,70.26L241.5,70.39L242.0,70.41L242.5,70.29L243.0,70.08L243.5,70.68L244.0,70.72L244.5,70.20L245.0,70.07L245.5,70.39L246.0,70.45L246.5,70.22L247.0,70.65L247.5,70.59L248.0,70.64L248.5,70.33L249.0,70.55L249.5,70.61L250.0,70.25L250.5,70.04L251.0,70.56L251.5,70.24L252.0,70.47L252.5,70.12L253.0,70.33L253.5,70.59L254.0,70.63L254.5,70.78L255.0,70.42L255.5,70.49L256.0,70.66L256.5,70.51L257.0,70.54L257.5,70.18L258.0,70.69L258.5,70.01L259.0,70.42L259.5,70.32L260.0,70.43L260.5,70.13L261.0,70.14L261.5,70.35L262.0,70.41L262.5,70.22L263.0,70.11L263.5,70.48L264.0,70.21L264.5,70.03L265.0,70.43L265.5,70.62L266.0,68.17L266.5,63.80L267.0,68.17L267.5,70.03L268.0,70.12L268.5,70.61L269.0,70.65L269.5,70.59L270.0,70.65L270.5,70.24L271.0,70.11L271.5,70.08L272.0,70.60L272.5,70.11L273.0,62.19L273.5,57.02L274.0,65.63L274.5,70.73L275.0,70.73L275.5,70.13L276.0,70.57L276.5,70.51L277.0,70.34L277.5,70.26L278.0,70.79L278.5,70.53L279.0,70.45L279.5,70.41L280.0,70.63L280.5,70.33L281.0,70.04L281.5,69.92L282.0,69.05L282.5,66.70L283.0,59.87L283.5,63.97L284.0,69.05L284.5,69.92L285.0,70.07L285.5,70.72L286.0,70.05L286.5,70.50L287.0,70.18L287.5,70.19L288.0,70.56L288.5,70.26L289.0,70.28L289.5,70.16L290.0,70.59L290.5,70.20L291.0,70.03L291.5,70.26L292.0,70.37L292.5,70.71L293.0,70.40L293.5,70.52L294.0,70.23L294.5,70.26L295.0,70.35L295.5,70.65L296.0,70.28L296.5,70.30L297.0,70.66L297.5,69.49L298.0,62.93L298.5,61.62L299.0,68.18L299.5,70.69L300.0,70.53L300.5,70.22L301.0,70.32L301.5,70.36L302.0,70.28L302.5,70.43L303.0,70.55L303.5,70.66L304.0,70.75L304.5,70.23L305.0,70.20L305.5,70.37L306.0,70.21L306.5,70.51L307.0,70.59L307.5,70.49L308.0,70.10L308.5,70.77L309.0,70.40L309.5,70.60L310.0,70.18L310.5,70.52L311.0,70.53L311.5,70.48L312.0,70.37L312.5,70.18L313.0,70.52L313.5,70.12L314.0,70.71L314.5,70.58L315.0,70.72L315.5,70.71L316.0,70.18L316.5,70.22L317.0,70.65L317.5,70.65L318.0,70.47L318.5,70.21L319.0,70.15L319.5,70.20L320.0,70.33L320.5,70.68L321.0,70.48L321.5,70.65L322.0,70.38L322.5,70.35L323.0,70.64L323.5,70.60L324.0,70.17L324.5,70.78L325.0,70.16L325.5,70.09L326.0,70.04L326.5,70.49L327.0,70.36L327.5,70.33L328.0,70.29L328.5,70.02L329.0,70.25L329.5,70.56L330.0,70.11L330.5,70.41L331.0,70.32L331.5,70.22L332.0,70.80L332.5,70.18L333.0,70.27L333.5,70.41L334.0,70.38L334.5,70.43L335.0,70.65L335.5,70.38L336.0,70.77L336.5,70.40L337.0,70.28L337.5,70.44L338.0,70.35L338.5,70.03L339.0,70.09L339.5,70.69L340.0,70.17L340.5,70.30L341.0,70.76L341.5,70.51L342.0,70.61L342.5,70.74L343.0,70.37L343.5,70.06L344.0,70.54L344.5,70.10L345.0,70.24L345.5,70.69L346.0,70.11L346.5,70.32L347.0,70.06L347.5,70.23L348.0,70.21L348.5,70.53L349.0,70.15L349.5,70.05L350.0,70.11L350.5,70.45L351.0,70.19L351.5,70.41L352.0,70.71L352.5,70.77L353.0,70.74L353.5,70.64L354.0,70.67L354.5,70.40L355.0,70.24L355.5,70.37L356.0,70.46L356.5,70.10L357.0,68.93L357.5,67.77L358.0,67.80L358.5,67.60L359.0,67.60L359.5,67.60L360.0,67.60L360.5,67.60L361.0,67.60L361.5,67.60L362.0,63.42L362.5,54.20L363.0,63.42L363.5,67.60L364.0,67.60L364.5,63.87L365.0,52.33L365.5,45.41L366.0,56.95L366.5,54.93L367.0,52.29L367.5,65.51L368.0,67.47L368.5,56.36L369.0,56.36L369.5,67.47L370.0,67.60L370.5,66.60L371.0,67.30L371.5,67.60L372.0,67.60L372.5,67.60L373.0,67.60L373.5,65.96L374.0,59.90L374.5,65.96L375.0,67.60L375.5,67.60L376.0,62.36L376.5,57.29L377.0,65.73L377.5,67.60L378.0,67.60L378.5,67.60L379.0,67.35L379.5,67.60L380.0,68.24L380.5,68.88L381.0,69.52L381.5,70.16L382.0,70.60L382.5,70.59L383.0,70.15L383.5,70.30L384.0,70.52L384.5,70.73L385.0,70.25L385.5,70.02L386.0,70.33L386.5,70.80L387.0,70.78L387.5,70.73L388.0,67.91L388.5,64.30L389.0,67.91L389.5,70.28L390.0,70.08L390.5,70.64L391.0,70.02L391.5,70.42L392.0,70.16L392.5,70.07L393.0,70.05L393.5,70.77L394.0,70.56L394.5,70.31L395.0,70.04L395.5,70.73L396.0,70.57L396.5,70.12L397.0,70.71L397.5,70.49L398.0,70.53L398.5,70.26L399.0,70.06L399.5,70.09L400.0,69.91L400.5,69.73L401.0,69.56L401.5,69.38L402.0,69.20L402.5,69.20L403.0,69.20L403.5,69.20L404.0,69.20L404.5,69.20L405.0,69.20L405.5,69.20L406.0,69.20L406.5,69.20L407.0,69.20L407.5,69.20L408.0,69.20L408.5,69.20L409.0,69.20L409.5,69.38L410.0,69.56L410.5,69.73L411.0,68.88L411.5,67.68L412.0,67.20L412.5,67.20L413.0,60.04L413.5,42.10L414.0,60.04L414.5,67.20L415.0,67.20L415.5,67.20L416.0,67.20L416.5,67.20L417.0,61.49L417.5,57.20L418.0,53.80L418.5,67.20L419.0,67.20L419.5,67.20L420.0,67.20L420.5,59.55L421.0,61.43L421.5,67.20L422.0,67.20L422.5,65.56L423.0,59.00L423.5,65.56L424.0,67.20L424.5,67.20L425.0,67.20L425.5,67.20L426.0,67.20L426.5,67.20L427.0,66.08L427.5,63.24L428.0,67.20L428.5,67.20L429.0,67.20L429.5,67.68L430.0,68.88L430.5,70.08L431.0,70.78L431.5,70.03L432.0,70.64L432.5,70.09L433.0,70.73L433.5,70.43L434.0,70.62L434.5,70.14L435.0,70.31L435.5,70.29L436.0,70.19L436.5,70.10L437.0,70.52L437.5,70.32L438.0,70.44L438.5,70.71L439.0,70.13L439.5,70.32L440.0,70.15L440.5,70.64L441.0,70.37L441.5,70.43L442.0,70.22L442.5,70.74L443.0,70.52L443.5,70.41L444.0,70.74L444.5,70.36L445.0,70.21L445.5,70.46L446.0,70.28L446.5,70.32L447.0,70.63L447.5,70.52L448.0,70.00L448.5,70.53L449.0,70.46L449.5,70.73L450.0,70.63L450.5,70.67L451.0,70.06L451.5,70.22L452.0,70.10L452.5,70.01L453.0,70.31L453.5,70.05L454.0,70.37L454.5,70.47L455.0,70.04L455.5,70.08L456.0,70.04L456.5,70.41L457.0,70.18L457.5,70.47L458.0,70.00L458.5,70.06L459.0,70.57L459.5,70.05L460.0,70.65L460.5,70.72L461.0,70.22L461.5,70.56L462.0,70.38L462.5,70.29L463.0,70.77L463.5,70.20L464.0,70.58L464.5,70.45L465.0,70.52L465.5,70.21L466.0,70.20L466.5,70.57L467.0,70.72L467.5,69.93L468.0,65.57L468.5,68.19L469.0,70.68L469.5,70.19L470.0,70.24L470.5,70.02L471.0,70.02L471.5,70.10L472.0,70.50L472.5,70.67L473.0,70.55L473.5,70.43L474.0,70.38L474.5,70.37L475.0,70.51L475.5,70.12L476.0,70.57L476.5,70.43L477.0,70.09L477.5,70.15L478.0,70.56L478.5,70.61L479.0,70.15L479.5,70.79L480.0,68.91L480.5,67.03L481.0,70.17L481.5,70.67L482.0,70.76L482.5,70.64L483.0,70.18L483.5,70.43L484.0,70.02L484.5,70.17L485.0,70.02L485.5,70.77L486.0,70.65L486.5,68.12L487.0,54.71L487.5,41.30L488.0,54.71L488.5,68.12L489.0,70.72L489.5,70.55L490.0,70.60L490.5,70.16L491.0,68.47L491.5,69.05L492.0,70.76L492.5,70.46L493.0,70.30L493.5,70.26L494.0,70.07L494.5,70.15L495.0,70.60L495.5,70.69L496.0,70.19L496.5,70.17L497.0,70.39L497.5,70.14L498.0,70.36L498.5,70.58L499.0,70.67L499.5,70.79L500.0,70.29L500.5,70.08L501.0,70.08L501.5,70.43L502.0,70.27L502.5,70.06L503.0,70.15L503.5,70.32L504.0,70.47L504.5,70.39L505.0,70.66L505.5,70.65L506.0,70.25L506.5,70.01L507.0,70.36L507.5,70.47L508.0,70.52L508.5,70.44L509.0,70.16L509.5,70.44L510.0,70.03L510.5,70.68L511.0,70.55L511.5,70.38L512.0,70.47L512.5,70.12L513.0,70.14L513.5,70.05L514.0,70.31L514.5,70.78L515.0,70.34L515.5,70.36L516.0,70.41L516.5,70.58L517.0,70.23L517.5,70.07L518.0,70.72" fill="none" stroke="#3670b4" stroke-width="0.5"/>
<line x1="67.00" y1="70.80" x2="518.00" y2="70.80" stroke="#5a90d0" stroke-width="1.4"/>
<path d="M67.0,89.5L67.0,89.00L67.5,88.91L68.0,88.86L68.5,88.75L69.0,88.91L69.5,88.76L70.0,89.48L70.5,89.13L71.0,88.75L71.5,88.98L72.0,88.78L72.5,89.41L73.0,89.12L73.5,89.30L74.0,89.06L74.5,89.04L75.0,89.49L75.5,89.33L76.0,89.28L76.5,88.77L77.0,88.89L77.5,89.37L78.0,88.86L78.5,89.39L79.0,89.01L79.5,89.40L80.0,89.50L80.5,88.80L81.0,89.33L81.5,89.33L82.0,88.71L82.5,88.80L83.0,89.27L83.5,88.73L84.0,89.07L84.5,88.96L85.0,89.34L85.5,88.75L86.0,88.95L86.5,88.73L87.0,88.79L87.5,89.26L88.0,89.21L88.5,89.37L89.0,89.38L89.5,89.45L90.0,89.26L90.5,89.02L91.0,89.50L91.5,88.96L92.0,89.23L92.5,89.25L93.0,88.85L93.5,89.12L94.0,89.25L94.5,89.12L95.0,88.94L95.5,89.45L96.0,88.72L96.5,89.48L97.0,88.90L97.5,88.82L98.0,89.49L98.5,88.87L99.0,89.21L99.5,89.04L100.0,89.49L100.5,89.46L101.0,89.36L101.5,88.74L102.0,89.34L102.5,88.90L103.0,88.76L103.5,88.75L104.0,89.22L104.5,89.22L105.0,89.08L105.5,88.88L106.0,89.41L106.5,88.90L107.0,88.86L107.5,88.81L108.0,89.47L108.5,88.74L109.0,89.43L109.5,89.23L110.0,89.01L110.5,88.77L111.0,89.23L111.5,88.76L112.0,89.06L112.5,89.25L113.0,89.25L113.5,89.36L114.0,89.44L114.5,89.38L115.0,88.95L115.5,88.70L116.0,89.37L116.5,89.46L117.0,88.71L117.5,89.07L118.0,89.18L118.5,89.31L119.0,89.02L119.5,88.84L120.0,89.14L120.5,89.16L121.0,89.46L121.5,88.77L122.0,89.47L122.5,89.11L123.0,88.83L123.5,89.40L124.0,88.91L124.5,88.74L125.0,89.00L125.5,88.87L126.0,89.41L126.5,89.15L127.0,89.38L127.5,88.82L128.0,89.26L128.5,89.14L129.0,88.70L129.5,88.82L130.0,88.72L130.5,89.14L131.0,89.11L131.5,88.92L132.0,89.12L132.5,89.27L133.0,89.18L133.5,89.38L134.0,89.20L134.5,88.71L135.0,88.73L135.5,89.00L136.0,89.10L136.5,89.23L137.0,89.43L137.5,89.28L138.0,88.87L138.5,88.81L139.0,89.21L139.5,88.87L140.0,88.88L140.5,88.94L141.0,88.97L141.5,88.89L142.0,89.21L142.5,88.94L143.0,89.28L143.5,89.11L144.0,88.88L144.5,88.95L145.0,89.26L145.5,88.74L146.0,88.98L146.5,89.04L147.0,89.49L147.5,89.06L148.0,89.30L148.5,88.96L149.0,89.13L149.5,88.85L150.0,88.98L150.5,88.86L151.0,89.16L151.5,88.64L152.0,87.73L152.5,86.51L153.0,85.33L153.5,84.72L154.0,84.99L154.5,86.00L155.0,87.27L155.5,88.33L156.0,88.99L156.5,89.08L157.0,89.37L157.5,88.83L158.0,88.75L158.5,89.12L159.0,88.95L159.5,88.92L160.0,88.92L160.5,89.36L161.0,88.88L161.5,89.04L162.0,88.97L162.5,89.16L163.0,89.00L163.5,88.88L164.0,88.99L164.5,88.92L165.0,89.48L165.5,89.37L166.0,89.15L166.5,88.98L167.0,89.27L167.5,88.93L168.0,88.29L168.5,87.29L169.0,86.04L169.5,84.86L170.0,84.17L170.5,84.25L171.0,85.07L171.5,86.29L172.0,87.51L172.5,88.44L173.0,89.02L173.5,89.20L174.0,89.01L174.5,89.03L175.0,89.31L175.5,88.78L176.0,89.50L176.5,89.18L177.0,89.28L177.5,89.17L178.0,89.41L178.5,88.83L179.0,89.20L179.5,89.47L180.0,89.01L180.5,89.42L181.0,89.06L181.5,89.23L182.0,89.04L182.5,88.73L183.0,88.85L183.5,89.16L184.0,88.85L184.5,88.99L185.0,89.20L185.5,89.39L186.0,89.02L186.5,89.05L187.0,88.73L187.5,88.73L188.0,89.01L188.5,89.22L189.0,88.79L189.5,89.50L190.0,89.41L190.5,89.05L191.0,89.01L191.5,89.39L192.0,89.00L192.5,88.79L193.0,89.20L193.5,89.15L194.0,89.17L194.5,88.98L195.0,88.70L195.5,88.32L196.0,87.82L196.5,87.20L197.0,85.58L197.5,82.24L198.0,84.36L198.5,84.05L199.0,83.36L199.5,82.84L200.0,82.55L200.5,82.52L201.0,81.71L201.5,83.24L202.0,83.90L202.5,84.68L203.0,85.51L203.5,86.32L204.0,86.50L204.5,86.50L205.0,86.50L205.5,87.75L206.0,88.93L206.5,88.75L207.0,88.87L207.5,89.30L208.0,89.29L208.5,89.38L209.0,88.71L209.5,89.27L210.0,89.01L210.5,89.12L211.0,88.98L211.5,89.02L212.0,88.91L212.5,89.41L213.0,88.89L213.5,89.26L214.0,89.07L214.5,89.23L215.0,89.26L215.5,89.08L216.0,89.13L216.5,89.21L217.0,88.90L217.5,89.03L218.0,89.47L218.5,89.30L219.0,89.14L219.5,88.77L220.0,88.79L220.5,89.06L221.0,89.49L221.5,88.88L222.0,89.16L222.5,89.04L223.0,88.93L223.5,88.99L224.0,89.11L224.5,88.77L225.0,89.19L225.5,89.19L226.0,88.82L226.5,89.34L227.0,89.26L227.5,88.84L228.0,89.45L228.5,88.83L229.0,88.94L229.5,89.15L230.0,89.27L230.5,88.88L231.0,88.77L231.5,89.39L232.0,89.12L232.5,89.06L233.0,89.10L233.5,89.24L234.0,89.38L234.5,89.03L235.0,88.85L235.5,89.45L236.0,89.32L236.5,88.84L237.0,88.37L237.5,87.26L238.0,85.85L238.5,84.60L239.0,84.10L239.5,84.60L240.0,85.85L240.5,87.26L241.0,88.37L241.5,89.03L242.0,88.98L242.5,88.74L243.0,88.93L243.5,89.39L244.0,89.27L244.5,88.77L245.0,89.38L245.5,89.01L246.0,89.17L246.5,89.37L247.0,89.00L247.5,89.47L248.0,89.41L248.5,89.20L249.0,89.44L249.5,89.45L250.0,89.04L250.5,88.91L251.0,88.80L251.5,89.39L252.0,89.15L252.5,89.25L253.0,89.02L253.5,89.11L254.0,88.75L254.5,89.20L255.0,89.46L255.5,88.94L256.0,89.38L256.5,88.99L257.0,89.10L257.5,88.77L258.0,89.06L258.5,89.00L259.0,89.29L259.5,89.06L260.0,89.30L260.5,88.90L261.0,89.09L261.5,89.39L262.0,89.31L262.5,89.20L263.0,88.91L263.5,89.36L264.0,88.93L264.5,88.98L265.0,89.43L265.5,88.97L266.0,89.43L266.5,89.40L267.0,89.02L267.5,89.31L268.0,88.80L268.5,89.12L269.0,89.24L269.5,88.86L270.0,89.48L270.5,88.92L271.0,89.00L271.5,88.17L272.0,87.50L272.5,86.83L273.0,85.51L273.5,87.28L274.0,87.23L274.5,85.43L275.0,87.12L275.5,87.50L276.0,87.50L276.5,87.50L277.0,87.50L277.5,87.50L278.0,88.00L278.5,88.83L279.0,89.13L279.5,88.22L280.0,87.30L280.5,87.30L281.0,87.22L281.5,87.30L282.0,87.30L282.5,84.72L283.0,86.80L283.5,84.10L284.0,86.80L284.5,86.78L285.0,87.30L285.5,85.78L286.0,86.25L286.5,87.30L287.0,87.30L287.5,87.30L288.0,87.30L288.5,87.30L289.0,87.30L289.5,85.21L290.0,85.31L290.5,87.48L291.0,88.40L291.5,89.32L292.0,89.38L292.5,89.37L293.0,89.20L293.5,89.19L294.0,88.80L294.5,89.33L295.0,88.50L295.5,87.67L296.0,86.43L296.5,87.50L297.0,87.50L297.5,84.39L298.0,87.50L298.5,87.50L299.0,87.38L299.5,87.50L300.0,87.47L300.5,87.50L301.0,87.50L301.5,87.50L302.0,87.50L302.5,86.39L303.0,87.50L303.5,87.50L304.0,87.50L304.5,87.50L305.0,87.83L305.5,88.67L306.0,89.32L306.5,89.44L307.0,89.18L307.5,88.72L308.0,89.21L308.5,89.25L309.0,89.13L309.5,89.08L310.0,88.76L310.5,88.36L311.0,87.94L311.5,87.62L312.0,87.50L312.5,87.62L313.0,87.94L313.5,88.36L314.0,88.72L314.5,89.08L315.0,89.29L315.5,88.88L316.0,89.17L316.5,89.46L317.0,89.06L317.5,88.71L318.0,89.08L318.5,89.22L319.0,89.42L319.5,89.44L320.0,88.78L320.5,89.11L321.0,88.75L321.5,89.46L322.0,89.31L322.5,89.46L323.0,89.18L323.5,89.45L324.0,89.30L324.5,89.17L325.0,89.26L325.5,89.34L326.0,89.25L326.5,88.72L327.0,88.95L327.5,88.75L328.0,88.54L328.5,88.33L329.0,88.16L329.5,88.04L330.0,88.00L330.5,88.04L331.0,88.16L331.5,88.33L332.0,88.54L332.5,88.75L333.0,88.95L333.5,89.07L334.0,89.11L334.5,89.04L335.0,89.20L335.5,89.00L336.0,88.92L336.5,88.77L337.0,89.25L337.5,89.14L338.0,88.84L338.5,89.32L339.0,89.41L339.5,89.25L340.0,89.43L340.5,88.88L341.0,88.84L341.5,89.25L342.0,89.40L342.5,89.43L343.0,89.30L343.5,89.43L344.0,89.16L344.5,89.04L345.0,89.30L345.5,89.45L346.0,88.94L346.5,89.46L347.0,89.34L347.5,89.27L348.0,89.20L348.5,89.42L349.0,89.16L349.5,89.25L350.0,88.90L350.5,89.06L351.0,88.78L351.5,88.98L352.0,88.89L352.5,89.04L353.0,89.15L353.5,88.85L354.0,88.88L354.5,88.56L355.0,88.25L355.5,87.94L356.0,87.62L356.5,87.31L357.0,85.65L357.5,86.79L358.0,86.31L358.5,83.66L359.0,81.00L359.5,83.66L360.0,86.31L360.5,83.95L361.0,86.74L361.5,84.43L362.0,81.27L362.5,78.10L363.0,81.27L363.5,84.43L364.0,87.00L364.5,87.00L365.0,83.81L365.5,84.93L366.0,81.13L366.5,77.32L367.0,78.08L367.5,81.89L368.0,85.69L368.5,83.50L369.0,79.75L369.5,79.00L370.0,82.75L370.5,83.96L371.0,79.53L371.5,75.00L372.0,79.53L372.5,84.06L373.0,87.00L373.5,84.61L374.0,81.56L374.5,78.50L375.0,81.56L375.5,84.61L376.0,85.56L376.5,82.28L377.0,79.00L377.5,82.28L378.0,85.20L378.5,87.00L379.0,86.93L379.5,82.66L380.0,78.38L380.5,74.10L381.0,78.38L381.5,82.66L382.0,86.93L382.5,86.12L383.0,83.31L383.5,80.50L384.0,83.31L384.5,86.12L385.0,87.00L385.5,85.38L386.0,81.94L386.5,78.50L387.0,81.94L387.5,85.38L388.0,87.00L388.5,85.47L389.0,83.71L389.5,81.25L390.0,79.19L390.5,82.63L391.0,80.57L391.5,77.89L392.0,82.36L392.5,84.33L393.0,86.78L393.5,87.00L394.0,87.00L394.5,84.75L395.0,86.82L395.5,87.00L396.0,87.00L396.5,87.94L397.0,88.25L397.5,88.50L398.0,88.50L398.5,88.10L399.0,88.45L399.5,88.50L400.0,88.50L400.5,88.20L401.0,88.48L401.5,88.02L402.0,86.37L402.5,87.47L403.0,88.50L403.5,88.50L404.0,87.57L404.5,88.14L405.0,88.50L405.5,87.98L406.0,88.50L406.5,88.50L407.0,87.92L407.5,88.26L408.0,88.50L408.5,88.50L409.0,87.93L409.5,87.61L410.0,88.50L410.5,88.50L411.0,88.16L411.5,86.98L412.0,87.62L412.5,88.01L413.0,88.20L413.5,88.50L414.0,88.50L414.5,87.91L415.0,86.33L415.5,87.70L416.0,88.31L416.5,86.74L417.0,87.82L417.5,88.50L418.0,88.50L418.5,88.50L419.0,88.50L419.5,88.50L420.0,88.50L420.5,88.01L421.0,86.73L421.5,88.39L422.0,88.31L422.5,88.50L423.0,88.50L423.5,87.04L424.0,88.31L424.5,88.50L425.0,88.50L425.5,88.50L426.0,88.08L426.5,88.50L427.0,88.03L427.5,85.57L428.0,85.08L428.5,87.54L429.0,88.50L429.5,88.41L430.0,88.50L430.5,88.92L431.0,89.26L431.5,89.29L432.0,89.00L432.5,88.78L433.0,89.37L433.5,88.99L434.0,88.89L434.5,89.32L435.0,89.45L435.5,89.05L436.0,88.84L436.5,88.80L437.0,88.92L437.5,89.17L438.0,89.16L438.5,89.08L439.0,88.78L439.5,89.26L440.0,89.28L440.5,89.02L441.0,88.73L441.5,89.35L442.0,89.48L442.5,89.41L443.0,89.05L443.5,89.02L444.0,89.35L444.5,89.35L445.0,89.02L445.5,88.98L446.0,88.95L446.5,88.92L447.0,89.45L447.5,89.11L448.0,88.83L448.5,88.73L449.0,89.25L449.5,88.82L450.0,88.98L450.5,88.76L451.0,89.32L451.5,88.94L452.0,88.83L452.5,89.12L453.0,89.42L453.5,89.35L454.0,89.37L454.5,89.43L455.0,89.38L455.5,89.01L456.0,89.42L456.5,88.89L457.0,88.91L457.5,88.85L458.0,88.86L458.5,88.93L459.0,88.76L459.5,88.73L460.0,89.00L460.5,88.70L461.0,87.60L461.5,86.31L462.0,85.70L462.5,86.31L463.0,87.60L463.5,88.04L464.0,87.00L464.5,87.00L465.0,86.52L465.5,85.91L466.0,87.00L466.5,86.48L467.0,87.00L467.5,86.52L468.0,84.26L468.5,86.23L469.0,87.00L469.5,87.00L470.0,87.00L470.5,88.04L471.0,88.89L471.5,88.92L472.0,89.26L472.5,89.41L473.0,89.12L473.5,89.22L474.0,88.91L474.5,88.77L475.0,89.19L475.5,89.27L476.0,89.10L476.5,88.94L477.0,88.87L477.5,89.04L478.0,89.26L478.5,89.23L479.0,88.82L479.5,87.68L480.0,85.68L480.5,83.55L481.0,82.60L481.5,83.55L482.0,85.68L482.5,87.68L483.0,88.85L483.5,89.12L484.0,88.71L484.5,89.07L485.0,89.14L485.5,88.50L486.0,87.40L486.5,86.22L487.0,85.70L487.5,86.22L488.0,87.40L488.5,88.50L489.0,89.14L489.5,89.03L490.0,88.70L490.5,88.70L491.0,88.70L491.5,88.16L492.0,88.62L492.5,88.70L493.0,88.70L493.5,88.33L494.0,87.71L494.5,88.61L495.0,88.54L495.5,88.70L496.0,88.70L496.5,88.70L497.0,88.70L497.5,88.55L498.0,88.70L498.5,88.70L499.0,88.64L499.5,88.70L500.0,88.70L500.5,89.03L501.0,89.37L501.5,88.88L502.0,89.17L502.5,88.80L503.0,88.84L503.5,88.77L504.0,89.20L504.5,88.70L505.0,88.90L505.5,88.79L506.0,89.38L506.5,88.88L507.0,89.16L507.5,88.72L508.0,88.70L508.5,89.33L509.0,89.16L509.5,89.28L510.0,89.12L510.5,89.27L511.0,88.97L511.5,89.40L512.0,89.36L512.5,89.13L513.0,89.44L513.5,89.20L514.0,88.78L514.5,88.79L515.0,89.34L515.5,89.49L516.0,88.84L516.5,88.73L517.0,89.02L517.5,89.39L518.0,89.31L518.0,89.5Z" fill="#f29892" stroke="none"/>
<path d="M67.0,89.00L67.5,88.91L68.0,88.86L68.5,88.75L69.0,88.91L69.5,88.76L70.0,89.48L70.5,89.13L71.0,88.75L71.5,88.98L72.0,88.78L72.5,89.41L73.0,89.12L73.5,89.30L74.0,89.06L74.5,89.04L75.0,89.49L75.5,89.33L76.0,89.28L76.5,88.77L77.0,88.89L77.5,89.37L78.0,88.86L78.5,89.39L79.0,89.01L79.5,89.40L80.0,89.50L80.5,88.80L81.0,89.33L81.5,89.33L82.0,88.71L82.5,88.80L83.0,89.27L83.5,88.73L84.0,89.07L84.5,88.96L85.0,89.34L85.5,88.75L86.0,88.95L86.5,88.73L87.0,88.79L87.5,89.26L88.0,89.21L88.5,89.37L89.0,89.38L89.5,89.45L90.0,89.26L90.5,89.02L91.0,89.50L91.5,88.96L92.0,89.23L92.5,89.25L93.0,88.85L93.5,89.12L94.0,89.25L94.5,89.12L95.0,88.94L95.5,89.45L96.0,88.72L96.5,89.48L97.0,88.90L97.5,88.82L98.0,89.49L98.5,88.87L99.0,89.21L99.5,89.04L100.0,89.49L100.5,89.46L101.0,89.36L101.5,88.74L102.0,89.34L102.5,88.90L103.0,88.76L103.5,88.75L104.0,89.22L104.5,89.22L105.0,89.08L105.5,88.88L106.0,89.41L106.5,88.90L107.0,88.86L107.5,88.81L108.0,89.47L108.5,88.74L109.0,89.43L109.5,89.23L110.0,89.01L110.5,88.77L111.0,89.23L111.5,88.76L112.0,89.06L112.5,89.25L113.0,89.25L113.5,89.36L114.0,89.44L114.5,89.38L115.0,88.95L115.5,88.70L116.0,89.37L116.5,89.46L117.0,88.71L117.5,89.07L118.0,89.18L118.5,89.31L119.0,89.02L119.5,88.84L120.0,89.14L120.5,89.16L121.0,89.46L121.5,88.77L122.0,89.47L122.5,89.11L123.0,88.83L123.5,89.40L124.0,88.91L124.5,88.74L125.0,89.00L125.5,88.87L126.0,89.41L126.5,89.15L127.0,89.38L127.5,88.82L128.0,89.26L128.5,89.14L129.0,88.70L129.5,88.82L130.0,88.72L130.5,89.14L131.0,89.11L131.5,88.92L132.0,89.12L132.5,89.27L133.0,89.18L133.5,89.38L134.0,89.20L134.5,88.71L135.0,88.73L135.5,89.00L136.0,89.10L136.5,89.23L137.0,89.43L137.5,89.28L138.0,88.87L138.5,88.81L139.0,89.21L139.5,88.87L140.0,88.88L140.5,88.94L141.0,88.97L141.5,88.89L142.0,89.21L142.5,88.94L143.0,89.28L143.5,89.11L144.0,88.88L144.5,88.95L145.0,89.26L145.5,88.74L146.0,88.98L146.5,89.04L147.0,89.49L147.5,89.06L148.0,89.30L148.5,88.96L149.0,89.13L149.5,88.85L150.0,88.98L150.5,88.86L151.0,89.16L151.5,88.64L152.0,87.73L152.5,86.51L153.0,85.33L153.5,84.72L154.0,84.99L154.5,86.00L155.0,87.27L155.5,88.33L156.0,88.99L156.5,89.08L157.0,89.37L157.5,88.83L158.0,88.75L158.5,89.12L159.0,88.95L159.5,88.92L160.0,88.92L160.5,89.36L161.0,88.88L161.5,89.04L162.0,88.97L162.5,89.16L163.0,89.00L163.5,88.88L164.0,88.99L164.5,88.92L165.0,89.48L165.5,89.37L166.0,89.15L166.5,88.98L167.0,89.27L167.5,88.93L168.0,88.29L168.5,87.29L169.0,86.04L169.5,84.86L170.0,84.17L170.5,84.25L171.0,85.07L171.5,86.29L172.0,87.51L172.5,88.44L173.0,89.02L173.5,89.20L174.0,89.01L174.5,89.03L175.0,89.31L175.5,88.78L176.0,89.50L176.5,89.18L177.0,89.28L177.5,89.17L178.0,89.41L178.5,88.83L179.0,89.20L179.5,89.47L180.0,89.01L180.5,89.42L181.0,89.06L181.5,89.23L182.0,89.04L182.5,88.73L183.0,88.85L183.5,89.16L184.0,88.85L184.5,88.99L185.0,89.20L185.5,89.39L186.0,89.02L186.5,89.05L187.0,88.73L187.5,88.73L188.0,89.01L188.5,89.22L189.0,88.79L189.5,89.50L190.0,89.41L190.5,89.05L191.0,89.01L191.5,89.39L192.0,89.00L192.5,88.79L193.0,89.20L193.5,89.15L194.0,89.17L194.5,88.98L195.0,88.70L195.5,88.32L196.0,87.82L196.5,87.20L197.0,85.58L197.5,82.24L198.0,84.36L198.5,84.05L199.0,83.36L199.5,82.84L200.0,82.55L200.5,82.52L201.0,81.71L201.5,83.24L202.0,83.90L202.5,84.68L203.0,85.51L203.5,86.32L204.0,86.50L204.5,86.50L205.0,86.50L205.5,87.75L206.0,88.93L206.5,88.75L207.0,88.87L207.5,89.30L208.0,89.29L208.5,89.38L209.0,88.71L209.5,89.27L210.0,89.01L210.5,89.12L211.0,88.98L211.5,89.02L212.0,88.91L212.5,89.41L213.0,88.89L213.5,89.26L214.0,89.07L214.5,89.23L215.0,89.26L215.5,89.08L216.0,89.13L216.5,89.21L217.0,88.90L217.5,89.03L218.0,89.47L218.5,89.30L219.0,89.14L219.5,88.77L220.0,88.79L220.5,89.06L221.0,89.49L221.5,88.88L222.0,89.16L222.5,89.04L223.0,88.93L223.5,88.99L224.0,89.11L224.5,88.77L225.0,89.19L225.5,89.19L226.0,88.82L226.5,89.34L227.0,89.26L227.5,88.84L228.0,89.45L228.5,88.83L229.0,88.94L229.5,89.15L230.0,89.27L230.5,88.88L231.0,88.77L231.5,89.39L232.0,89.12L232.5,89.06L233.0,89.10L233.5,89.24L234.0,89.38L234.5,89.03L235.0,88.85L235.5,89.45L236.0,89.32L236.5,88.84L237.0,88.37L237.5,87.26L238.0,85.85L238.5,84.60L239.0,84.10L239.5,84.60L240.0,85.85L240.5,87.26L241.0,88.37L241.5,89.03L242.0,88.98L242.5,88.74L243.0,88.93L243.5,89.39L244.0,89.27L244.5,88.77L245.0,89.38L245.5,89.01L246.0,89.17L246.5,89.37L247.0,89.00L247.5,89.47L248.0,89.41L248.5,89.20L249.0,89.44L249.5,89.45L250.0,89.04L250.5,88.91L251.0,88.80L251.5,89.39L252.0,89.15L252.5,89.25L253.0,89.02L253.5,89.11L254.0,88.75L254.5,89.20L255.0,89.46L255.5,88.94L256.0,89.38L256.5,88.99L257.0,89.10L257.5,88.77L258.0,89.06L258.5,89.00L259.0,89.29L259.5,89.06L260.0,89.30L260.5,88.90L261.0,89.09L261.5,89.39L262.0,89.31L262.5,89.20L263.0,88.91L263.5,89.36L264.0,88.93L264.5,88.98L265.0,89.43L265.5,88.97L266.0,89.43L266.5,89.40L267.0,89.02L267.5,89.31L268.0,88.80L268.5,89.12L269.0,89.24L269.5,88.86L270.0,89.48L270.5,88.92L271.0,89.00L271.5,88.17L272.0,87.50L272.5,86.83L273.0,85.51L273.5,87.28L274.0,87.23L274.5,85.43L275.0,87.12L275.5,87.50L276.0,87.50L276.5,87.50L277.0,87.50L277.5,87.50L278.0,88.00L278.5,88.83L279.0,89.13L279.5,88.22L280.0,87.30L280.5,87.30L281.0,87.22L281.5,87.30L282.0,87.30L282.5,84.72L283.0,86.80L283.5,84.10L284.0,86.80L284.5,86.78L285.0,87.30L285.5,85.78L286.0,86.25L286.5,87.30L287.0,87.30L287.5,87.30L288.0,87.30L288.5,87.30L289.0,87.30L289.5,85.21L290.0,85.31L290.5,87.48L291.0,88.40L291.5,89.32L292.0,89.38L292.5,89.37L293.0,89.20L293.5,89.19L294.0,88.80L294.5,89.33L295.0,88.50L295.5,87.67L296.0,86.43L296.5,87.50L297.0,87.50L297.5,84.39L298.0,87.50L298.5,87.50L299.0,87.38L299.5,87.50L300.0,87.47L300.5,87.50L301.0,87.50L301.5,87.50L302.0,87.50L302.5,86.39L303.0,87.50L303.5,87.50L304.0,87.50L304.5,87.50L305.0,87.83L305.5,88.67L306.0,89.32L306.5,89.44L307.0,89.18L307.5,88.72L308.0,89.21L308.5,89.25L309.0,89.13L309.5,89.08L310.0,88.76L310.5,88.36L311.0,87.94L311.5,87.62L312.0,87.50L312.5,87.62L313.0,87.94L313.5,88.36L314.0,88.72L314.5,89.08L315.0,89.29L315.5,88.88L316.0,89.17L316.5,89.46L317.0,89.06L317.5,88.71L318.0,89.08L318.5,89.22L319.0,89.42L319.5,89.44L320.0,88.78L320.5,89.11L321.0,88.75L321.5,89.46L322.0,89.31L322.5,89.46L323.0,89.18L323.5,89.45L324.0,89.30L324.5,89.17L325.0,89.26L325.5,89.34L326.0,89.25L326.5,88.72L327.0,88.95L327.5,88.75L328.0,88.54L328.5,88.33L329.0,88.16L329.5,88.04L330.0,88.00L330.5,88.04L331.0,88.16L331.5,88.33L332.0,88.54L332.5,88.75L333.0,88.95L333.5,89.07L334.0,89.11L334.5,89.04L335.0,89.20L335.5,89.00L336.0,88.92L336.5,88.77L337.0,89.25L337.5,89.14L338.0,88.84L338.5,89.32L339.0,89.41L339.5,89.25L340.0,89.43L340.5,88.88L341.0,88.84L341.5,89.25L342.0,89.40L342.5,89.43L343.0,89.30L343.5,89.43L344.0,89.16L344.5,89.04L345.0,89.30L345.5,89.45L346.0,88.94L346.5,89.46L347.0,89.34L347.5,89.27L348.0,89.20L348.5,89.42L349.0,89.16L349.5,89.25L350.0,88.90L350.5,89.06L351.0,88.78L351.5,88.98L352.0,88.89L352.5,89.04L353.0,89.15L353.5,88.85L354.0,88.88L354.5,88.56L355.0,88.25L355.5,87.94L356.0,87.62L356.5,87.31L357.0,85.65L357.5,86.79L358.0,86.31L358.5,83.66L359.0,81.00L359.5,83.66L360.0,86.31L360.5,83.95L361.0,86.74L361.5,84.43L362.0,81.27L362.5,78.10L363.0,81.27L363.5,84.43L364.0,87.00L364.5,87.00L365.0,83.81L365.5,84.93L366.0,81.13L366.5,77.32L367.0,78.08L367.5,81.89L368.0,85.69L368.5,83.50L369.0,79.75L369.5,79.00L370.0,82.75L370.5,83.96L371.0,79.53L371.5,75.00L372.0,79.53L372.5,84.06L373.0,87.00L373.5,84.61L374.0,81.56L374.5,78.50L375.0,81.56L375.5,84.61L376.0,85.56L376.5,82.28L377.0,79.00L377.5,82.28L378.0,85.20L378.5,87.00L379.0,86.93L379.5,82.66L380.0,78.38L380.5,74.10L381.0,78.38L381.5,82.66L382.0,86.93L382.5,86.12L383.0,83.31L383.5,80.50L384.0,83.31L384.5,86.12L385.0,87.00L385.5,85.38L386.0,81.94L386.5,78.50L387.0,81.94L387.5,85.38L388.0,87.00L388.5,85.47L389.0,83.71L389.5,81.25L390.0,79.19L390.5,82.63L391.0,80.57L391.5,77.89L392.0,82.36L392.5,84.33L393.0,86.78L393.5,87.00L394.0,87.00L394.5,84.75L395.0,86.82L395.5,87.00L396.0,87.00L396.5,87.94L397.0,88.25L397.5,88.50L398.0,88.50L398.5,88.10L399.0,88.45L399.5,88.50L400.0,88.50L400.5,88.20L401.0,88.48L401.5,88.02L402.0,86.37L402.5,87.47L403.0,88.50L403.5,88.50L404.0,87.57L404.5,88.14L405.0,88.50L405.5,87.98L406.0,88.50L406.5,88.50L407.0,87.92L407.5,88.26L408.0,88.50L408.5,88.50L409.0,87.93L409.5,87.61L410.0,88.50L410.5,88.50L411.0,88.16L411.5,86.98L412.0,87.62L412.5,88.01L413.0,88.20L413.5,88.50L414.0,88.50L414.5,87.91L415.0,86.33L415.5,87.70L416.0,88.31L416.5,86.74L417.0,87.82L417.5,88.50L418.0,88.50L418.5,88.50L419.0,88.50L419.5,88.50L420.0,88.50L420.5,88.01L421.0,86.73L421.5,88.39L422.0,88.31L422.5,88.50L423.0,88.50L423.5,87.04L424.0,88.31L424.5,88.50L425.0,88.50L425.5,88.50L426.0,88.08L426.5,88.50L427.0,88.03L427.5,85.57L428.0,85.08L428.5,87.54L429.0,88.50L429.5,88.41L430.0,88.50L430.5,88.92L431.0,89.26L431.5,89.29L432.0,89.00L432.5,88.78L433.0,89.37L433.5,88.99L434.0,88.89L434.5,89.32L435.0,89.45L435.5,89.05L436.0,88.84L436.5,88.80L437.0,88.92L437.5,89.17L438.0,89.16L438.5,89.08L439.0,88.78L439.5,89.26L440.0,89.28L440.5,89.02L441.0,88.73L441.5,89.35L442.0,89.48L442.5,89.41L443.0,89.05L443.5,89.02L444.0,89.35L444.5,89.35L445.0,89.02L445.5,88.98L446.0,88.95L446.5,88.92L447.0,89.45L447.5,89.11L448.0,88.83L448.5,88.73L449.0,89.25L449.5,88.82L450.0,88.98L450.5,88.76L451.0,89.32L451.5,88.94L452.0,88.83L452.5,89.12L453.0,89.42L453.5,89.35L454.0,89.37L454.5,89.43L455.0,89.38L455.5,89.01L456.0,89.42L456.5,88.89L457.0,88.91L457.5,88.85L458.0,88.86L458.5,88.93L459.0,88.76L459.5,88.73L460.0,89.00L460.5,88.70L461.0,87.60L461.5,86.31L462.0,85.70L462.5,86.31L463.0,87.60L463.5,88.04L464.0,87.00L464.5,87.00L465.0,86.52L465.5,85.91L466.0,87.00L466.5,86.48L467.0,87.00L467.5,86.52L468.0,84.26L468.5,86.23L469.0,87.00L469.5,87.00L470.0,87.00L470.5,88.04L471.0,88.89L471.5,88.92L472.0,89.26L472.5,89.41L473.0,89.12L473.5,89.22L474.0,88.91L474.5,88.77L475.0,89.19L475.5,89.27L476.0,89.10L476.5,88.94L477.0,88.87L477.5,89.04L478.0,89.26L478.5,89.23L479.0,88.82L479.5,87.68L480.0,85.68L480.5,83.55L481.0,82.60L481.5,83.55L482.0,85.68L482.5,87.68L483.0,88.85L483.5,89.12L484.0,88.71L484.5,89.07L485.0,89.14L485.5,88.50L486.0,87.40L486.5,86.22L487.0,85.70L487.5,86.22L488.0,87.40L488.5,88.50L489.0,89.14L489.5,89.03L490.0,88.70L490.5,88.70L491.0,88.70L491.5,88.16L492.0,88.62L492.5,88.70L493.0,88.70L493.5,88.33L494.0,87.71L494.5,88.61L495.0,88.54L495.5,88.70L496.0,88.70L496.5,88.70L497.0,88.70L497.5,88.55L498.0,88.70L498.5,88.70L499.0,88.64L499.5,88.70L500.0,88.70L500.5,89.03L501.0,89.37L501.5,88.88L502.0,89.17L502.5,88.80L503.0,88.84L503.5,88.77L504.0,89.20L504.5,88.70L505.0,88.90L505.5,88.79L506.0,89.38L506.5,88.88L507.0,89.16L507.5,88.72L508.0,88.70L508.5,89.33L509.0,89.16L509.5,89.28L510.0,89.12L510.5,89.27L511.0,88.97L511.5,89.40L512.0,89.36L512.5,89.13L513.0,89.44L513.5,89.20L514.0,88.78L514.5,88.79L515.0,89.34L515.5,89.49L516.0,88.84L516.5,88.73L517.0,89.02L517.5,89.39L518.0,89.31" fill="none" stroke="#e2535e" stroke-width="0.5"/>
<line x1="67.00" y1="89.50" x2="518.00" y2="89.50" stroke="#e2535e" stroke-width="1.0"/>
<path d="M140.0,108.5L140.0,108.27L140.5,108.31L141.0,108.43L141.5,108.07L142.0,108.50L142.5,108.25L143.0,108.05L143.5,108.46L144.0,108.22L144.5,108.19L145.0,108.48L145.5,108.31L146.0,108.15L146.5,108.27L147.0,108.14L147.5,108.42L148.0,108.38L148.5,108.44L149.0,108.25L149.5,108.04L150.0,108.20L150.5,108.11L151.0,108.31L151.5,108.13L152.0,108.45L152.5,108.35L153.0,108.16L153.5,108.14L154.0,108.29L154.5,108.46L155.0,108.37L155.5,108.40L156.0,108.36L156.5,108.10L157.0,108.40L157.5,108.06L158.0,108.06L158.5,108.47L159.0,108.31L159.5,108.25L160.0,108.49L160.5,108.29L161.0,108.05L161.5,108.44L162.0,108.20L162.5,108.44L163.0,108.21L163.5,108.05L164.0,108.40L164.5,108.50L165.0,108.46L165.5,108.23L166.0,108.46L166.5,108.43L167.0,108.25L167.5,108.04L168.0,108.16L168.5,107.99L169.0,107.76L169.5,107.50L170.0,107.22L170.5,106.94L171.0,106.71L171.5,106.55L172.0,106.50L172.5,106.55L173.0,106.71L173.5,106.94L174.0,107.22L174.5,107.50L175.0,107.76L175.5,107.99L176.0,108.15L176.5,108.02L177.0,108.38L177.5,108.19L178.0,108.46L178.5,108.32L179.0,108.16L179.5,108.20L180.0,108.11L180.5,108.46L181.0,108.33L181.5,108.07L182.0,108.21L182.5,108.27L183.0,108.30L183.5,108.01L184.0,108.21L184.5,108.49L185.0,108.10L185.5,108.34L186.0,108.28L186.5,108.39L187.0,108.28L187.5,108.34L188.0,108.46L188.5,108.19L189.0,108.45L189.5,108.11L190.0,108.49L190.5,108.11L191.0,108.10L191.5,108.25L192.0,108.15L192.5,108.38L193.0,108.13L193.5,108.29L194.0,108.38L194.5,108.02L195.0,108.30L195.5,108.31L196.0,108.07L196.5,107.92L197.0,107.50L197.5,107.17L198.0,106.65L198.5,107.50L199.0,107.50L199.5,106.53L200.0,105.22L200.5,104.12L201.0,103.82L201.5,104.49L202.0,105.75L202.5,106.10L203.0,107.35L203.5,106.30L204.0,106.43L204.5,107.50L205.0,107.50L205.5,107.92L206.0,108.22L206.5,108.43L207.0,108.46L207.5,108.22L208.0,108.15L208.5,108.47L209.0,108.27L209.5,108.15L210.0,108.12L210.5,108.21L211.0,107.76L211.5,106.95L212.0,105.92L212.5,105.05L213.0,104.82L213.5,105.35L214.0,106.34L214.5,107.31L215.0,107.98L215.5,108.32L216.0,108.19L216.5,108.46L217.0,108.11L217.5,108.39L218.0,108.49L218.5,108.41L219.0,108.27L219.5,108.22L220.0,108.31L220.5,108.41L221.0,108.26L221.5,108.03L222.0,108.23L222.5,108.03L223.0,108.49L223.5,108.00L224.0,108.06L224.5,108.23L225.0,108.24L225.5,108.23L226.0,108.05L226.5,108.47L227.0,108.18L227.5,108.23L228.0,108.35L228.5,108.14L229.0,108.14L229.5,108.45L230.0,108.15L230.5,108.27L231.0,108.25L231.5,108.18L232.0,108.47L232.5,108.20L233.0,108.31L233.5,108.06L234.0,108.38L234.5,108.09L235.0,108.14L235.5,108.19L236.0,108.00L236.5,107.45L237.0,106.76L237.5,106.17L238.0,106.01L238.5,106.37L239.0,107.04L239.5,107.70L240.0,108.15L240.5,108.38L241.0,108.47L241.5,108.32L242.0,108.26L242.5,108.23L243.0,108.49L243.5,108.11L244.0,108.33L244.5,108.11L245.0,108.50L245.5,108.02L246.0,108.20L246.5,108.01L247.0,108.01L247.5,108.08L248.0,108.45L248.5,108.33L249.0,108.38L249.5,108.11L250.0,108.40L250.5,108.39L251.0,108.44L251.5,108.44L252.0,108.03L252.5,108.01L253.0,108.31L253.5,108.13L254.0,108.27L254.5,108.24L255.0,108.32L255.5,108.18L256.0,108.38L256.5,108.37L257.0,108.24L257.5,108.40L258.0,108.28L258.5,108.03L259.0,108.49L259.5,108.45L260.0,108.10L260.5,108.47L261.0,108.37L261.5,108.07L262.0,108.20L262.5,108.39L263.0,108.47L263.5,108.36L264.0,108.35L264.5,108.10L265.0,108.01L265.5,108.11L266.0,108.05L266.5,108.03L267.0,108.06L267.5,108.04L268.0,108.02L268.5,108.45L269.0,108.34L269.5,108.38L270.0,108.20L270.5,108.25L271.0,108.33L271.5,108.08L272.0,107.45L272.5,106.29L273.0,104.92L273.5,103.99L274.0,104.11L274.5,105.18L275.0,106.56L275.5,107.62L276.0,108.19L276.5,108.34L277.0,108.17L277.5,107.33L278.0,106.50L278.5,106.50L279.0,106.50L279.5,105.95L280.0,106.50L280.5,106.35L281.0,106.34L281.5,106.50L282.0,106.50L282.5,105.15L283.0,100.97L283.5,101.81L284.0,105.99L284.5,106.50L285.0,106.50L285.5,106.50L286.0,105.28L286.5,106.46L287.0,106.50L287.5,104.98L288.0,106.50L288.5,106.50L289.0,106.36L289.5,106.50L290.0,106.50L290.5,107.33L291.0,108.17L291.5,108.04L292.0,108.33L292.5,107.92L293.0,107.50L293.5,107.50L294.0,107.50L294.5,107.50L295.0,107.50L295.5,107.50L296.0,107.50L296.5,107.15L297.0,107.10L297.5,107.50L298.0,104.72L298.5,102.83L299.0,105.98L299.5,107.50L300.0,107.50L300.5,107.50L301.0,107.50L301.5,107.45L302.0,107.50L302.5,107.50L303.0,107.50L303.5,107.50L304.0,107.50L304.5,107.50L305.0,107.50L305.5,107.92L306.0,108.33L306.5,108.43L307.0,108.27L307.5,108.16L308.0,108.38L308.5,108.33L309.0,108.13L309.5,108.33L310.0,108.20L310.5,108.23L311.0,108.04L311.5,108.49L312.0,108.41L312.5,108.11L313.0,108.17L313.5,108.45L314.0,108.43L314.5,108.39L315.0,108.23L315.5,108.05L316.0,108.39L316.5,108.40L317.0,108.16L317.5,108.29L318.0,108.08L318.5,108.00L319.0,108.03L319.5,108.14L320.0,108.25L320.5,108.47L321.0,108.10L321.5,108.30L322.0,108.27L322.5,108.18L323.0,108.02L323.5,108.22L324.0,108.04L324.5,108.02L325.0,108.46L325.5,108.32L326.0,108.06L326.5,108.12L327.0,108.02L327.5,108.41L328.0,108.23L328.5,108.03L329.0,108.23L329.5,108.16L330.0,108.01L330.5,108.41L331.0,108.47L331.5,108.07L332.0,108.21L332.5,108.40L333.0,108.08L333.5,108.36L334.0,108.44L334.5,108.35L335.0,108.48L335.5,108.30L336.0,108.11L336.5,108.27L337.0,108.02L337.5,108.48L338.0,108.41L338.5,108.43L339.0,108.21L339.5,108.40L340.0,108.17L340.5,108.24L341.0,108.21L341.5,108.08L342.0,108.11L342.5,108.04L343.0,108.42L343.5,108.31L344.0,108.02L344.5,108.30L345.0,108.36L345.5,108.26L346.0,108.41L346.5,108.08L347.0,108.18L347.5,108.45L348.0,108.02L348.5,108.24L349.0,108.37L349.5,108.19L350.0,108.03L350.5,108.33L351.0,108.49L351.5,108.40L352.0,108.47L352.5,108.24L353.0,108.34L353.5,108.07L354.0,108.40L354.5,108.48L355.0,108.27L355.5,108.07L356.0,107.23L356.5,105.87L357.0,104.65L357.5,104.51L358.0,105.58L358.5,106.99L359.0,107.95L359.5,108.34L360.0,108.04L360.5,108.22L361.0,106.91L361.5,102.94L362.0,98.98L362.5,95.80L363.0,95.80L363.5,95.80L364.0,95.80L364.5,95.80L365.0,95.80L365.5,95.80L366.0,95.80L366.5,95.80L367.0,95.80L367.5,95.80L368.0,95.80L368.5,95.80L369.0,95.80L369.5,95.80L370.0,95.80L370.5,95.80L371.0,98.98L371.5,102.39L372.0,102.85L372.5,106.11L373.0,101.39L373.5,97.12L374.0,104.23L374.5,101.11L375.0,97.74L375.5,96.40L376.0,96.40L376.5,96.40L377.0,96.40L377.5,96.40L378.0,96.40L378.5,96.40L379.0,96.40L379.5,96.40L380.0,97.74L380.5,101.11L381.0,104.47L381.5,107.83L382.0,108.02L382.5,108.41L383.0,108.18L383.5,108.10L384.0,108.18L384.5,108.29L385.0,108.49L385.5,107.00L386.0,105.50L386.5,105.50L387.0,105.50L387.5,105.50L388.0,105.50L388.5,105.50L389.0,103.50L389.5,98.50L390.0,100.00L390.5,100.00L391.0,100.00L391.5,100.00L392.0,100.00L392.5,100.00L393.0,100.85L393.5,105.10L394.0,108.41L394.5,108.06L395.0,108.24L395.5,108.17L396.0,108.43L396.5,108.13L397.0,108.00L397.5,107.50L398.0,107.00L398.5,106.50L399.0,106.00L399.5,105.50L400.0,105.00L400.5,104.50L401.0,104.50L401.5,104.50L402.0,104.50L402.5,104.50L403.0,104.50L403.5,104.50L404.0,104.50L404.5,104.50L405.0,104.50L405.5,104.50L406.0,104.50L406.5,104.50L407.0,104.50L407.5,104.25L408.0,102.12L408.5,100.00L409.0,100.00L409.5,100.00L410.0,102.12L410.5,104.25L411.0,106.38L411.5,107.50L412.0,108.00L412.5,108.46L413.0,108.02L413.5,105.00L414.0,101.50L414.5,98.00L415.0,95.90L415.5,95.90L416.0,95.90L416.5,95.90L417.0,95.90L417.5,95.90L418.0,95.90L418.5,96.60L419.0,100.10L419.5,103.60L420.0,105.00L420.5,105.00L421.0,103.25L421.5,98.00L422.0,95.90L422.5,95.90L423.0,95.90L423.5,95.90L424.0,95.90L424.5,95.90L425.0,95.90L425.5,95.90L426.0,95.90L426.5,95.90L427.0,95.90L427.5,95.90L428.0,101.15L428.5,106.40L429.0,108.40L429.5,108.08L430.0,108.06L430.5,108.21L431.0,108.46L431.5,108.11L432.0,108.07L432.5,108.36L433.0,108.26L433.5,108.35L434.0,108.47L434.5,108.13L435.0,108.42L435.5,108.46L436.0,108.05L436.5,108.45L437.0,108.12L437.5,108.09L438.0,108.37L438.5,108.31L439.0,108.39L439.5,108.15L440.0,108.01L440.5,108.13L441.0,108.25L441.5,108.23L442.0,108.30L442.5,108.14L443.0,108.37L443.5,108.38L444.0,108.15L444.5,108.37L445.0,108.01L445.5,108.14L446.0,108.41L446.5,108.49L447.0,108.20L447.5,108.43L448.0,108.25L448.5,108.20L449.0,108.10L449.5,108.31L450.0,108.23L450.5,108.09L451.0,108.43L451.5,108.33L452.0,108.10L452.5,108.32L453.0,108.03L453.5,108.46L454.0,108.46L454.5,108.32L455.0,108.27L455.5,108.32L456.0,108.39L456.5,108.28L457.0,108.05L457.5,108.03L458.0,108.19L458.5,108.37L459.0,108.21L459.5,108.42L460.0,108.47L460.5,108.10L461.0,108.37L461.5,108.42L462.0,108.09L462.5,108.44L463.0,108.38L463.5,108.42L464.0,108.05L464.5,108.16L465.0,108.26L465.5,107.91L466.0,107.32L466.5,106.62L467.0,106.10L467.5,106.04L468.0,106.49L468.5,107.18L469.0,107.81L469.5,108.21L470.0,108.18L470.5,108.42L471.0,108.26L471.5,108.37L472.0,108.32L472.5,108.05L473.0,108.22L473.5,108.18L474.0,108.18L474.5,108.50L475.0,108.11L475.5,108.06L476.0,108.13L476.5,108.24L477.0,108.08L477.5,108.03L478.0,108.36L478.5,108.42L479.0,108.33L479.5,108.49L480.0,108.38L480.5,103.21L481.0,96.60L481.5,103.21L482.0,108.47L482.5,108.26L483.0,108.07L483.5,108.14L484.0,108.30L484.5,108.14L485.0,108.05L485.5,107.85L486.0,107.60L486.5,107.29L487.0,103.87L487.5,98.08L488.0,96.92L488.5,102.71L489.0,105.15L489.5,104.76L490.0,104.46L490.5,104.27L491.0,104.20L491.5,104.27L492.0,104.46L492.5,104.76L493.0,105.15L493.5,105.59L494.0,106.05L494.5,106.50L495.0,106.92L495.5,107.29L496.0,107.60L496.5,107.85L497.0,108.05L497.5,108.12L498.0,108.15L498.5,108.03L499.0,108.04L499.5,108.22L500.0,108.41L500.5,108.21L501.0,108.29L501.5,108.15L502.0,108.33L502.5,108.46L503.0,108.40L503.5,108.43L504.0,108.13L504.5,108.16L505.0,108.23L505.5,108.34L506.0,108.14L506.5,108.28L507.0,108.25L507.5,108.40L508.0,108.00L508.5,108.28L509.0,108.26L509.5,108.40L510.0,108.28L510.5,108.26L511.0,108.29L511.5,108.13L512.0,108.33L512.5,108.19L513.0,108.16L513.5,108.43L514.0,108.09L514.5,108.46L515.0,108.37L515.5,108.08L516.0,108.44L516.5,108.36L517.0,108.29L517.5,108.03L518.0,108.02L518.0,108.5Z" fill="#f29892" stroke="none"/>
<path d="M140.0,108.27L140.5,108.31L141.0,108.43L141.5,108.07L142.0,108.50L142.5,108.25L143.0,108.05L143.5,108.46L144.0,108.22L144.5,108.19L145.0,108.48L145.5,108.31L146.0,108.15L146.5,108.27L147.0,108.14L147.5,108.42L148.0,108.38L148.5,108.44L149.0,108.25L149.5,108.04L150.0,108.20L150.5,108.11L151.0,108.31L151.5,108.13L152.0,108.45L152.5,108.35L153.0,108.16L153.5,108.14L154.0,108.29L154.5,108.46L155.0,108.37L155.5,108.40L156.0,108.36L156.5,108.10L157.0,108.40L157.5,108.06L158.0,108.06L158.5,108.47L159.0,108.31L159.5,108.25L160.0,108.49L160.5,108.29L161.0,108.05L161.5,108.44L162.0,108.20L162.5,108.44L163.0,108.21L163.5,108.05L164.0,108.40L164.5,108.50L165.0,108.46L165.5,108.23L166.0,108.46L166.5,108.43L167.0,108.25L167.5,108.04L168.0,108.16L168.5,107.99L169.0,107.76L169.5,107.50L170.0,107.22L170.5,106.94L171.0,106.71L171.5,106.55L172.0,106.50L172.5,106.55L173.0,106.71L173.5,106.94L174.0,107.22L174.5,107.50L175.0,107.76L175.5,107.99L176.0,108.15L176.5,108.02L177.0,108.38L177.5,108.19L178.0,108.46L178.5,108.32L179.0,108.16L179.5,108.20L180.0,108.11L180.5,108.46L181.0,108.33L181.5,108.07L182.0,108.21L182.5,108.27L183.0,108.30L183.5,108.01L184.0,108.21L184.5,108.49L185.0,108.10L185.5,108.34L186.0,108.28L186.5,108.39L187.0,108.28L187.5,108.34L188.0,108.46L188.5,108.19L189.0,108.45L189.5,108.11L190.0,108.49L190.5,108.11L191.0,108.10L191.5,108.25L192.0,108.15L192.5,108.38L193.0,108.13L193.5,108.29L194.0,108.38L194.5,108.02L195.0,108.30L195.5,108.31L196.0,108.07L196.5,107.92L197.0,107.50L197.5,107.17L198.0,106.65L198.5,107.50L199.0,107.50L199.5,106.53L200.0,105.22L200.5,104.12L201.0,103.82L201.5,104.49L202.0,105.75L202.5,106.10L203.0,107.35L203.5,106.30L204.0,106.43L204.5,107.50L205.0,107.50L205.5,107.92L206.0,108.22L206.5,108.43L207.0,108.46L207.5,108.22L208.0,108.15L208.5,108.47L209.0,108.27L209.5,108.15L210.0,108.12L210.5,108.21L211.0,107.76L211.5,106.95L212.0,105.92L212.5,105.05L213.0,104.82L213.5,105.35L214.0,106.34L214.5,107.31L215.0,107.98L215.5,108.32L216.0,108.19L216.5,108.46L217.0,108.11L217.5,108.39L218.0,108.49L218.5,108.41L219.0,108.27L219.5,108.22L220.0,108.31L220.5,108.41L221.0,108.26L221.5,108.03L222.0,108.23L222.5,108.03L223.0,108.49L223.5,108.00L224.0,108.06L224.5,108.23L225.0,108.24L225.5,108.23L226.0,108.05L226.5,108.47L227.0,108.18L227.5,108.23L228.0,108.35L228.5,108.14L229.0,108.14L229.5,108.45L230.0,108.15L230.5,108.27L231.0,108.25L231.5,108.18L232.0,108.47L232.5,108.20L233.0,108.31L233.5,108.06L234.0,108.38L234.5,108.09L235.0,108.14L235.5,108.19L236.0,108.00L236.5,107.45L237.0,106.76L237.5,106.17L238.0,106.01L238.5,106.37L239.0,107.04L239.5,107.70L240.0,108.15L240.5,108.38L241.0,108.47L241.5,108.32L242.0,108.26L242.5,108.23L243.0,108.49L243.5,108.11L244.0,108.33L244.5,108.11L245.0,108.50L245.5,108.02L246.0,108.20L246.5,108.01L247.0,108.01L247.5,108.08L248.0,108.45L248.5,108.33L249.0,108.38L249.5,108.11L250.0,108.40L250.5,108.39L251.0,108.44L251.5,108.44L252.0,108.03L252.5,108.01L253.0,108.31L253.5,108.13L254.0,108.27L254.5,108.24L255.0,108.32L255.5,108.18L256.0,108.38L256.5,108.37L257.0,108.24L257.5,108.40L258.0,108.28L258.5,108.03L259.0,108.49L259.5,108.45L260.0,108.10L260.5,108.47L261.0,108.37L261.5,108.07L262.0,108.20L262.5,108.39L263.0,108.47L263.5,108.36L264.0,108.35L264.5,108.10L265.0,108.01L265.5,108.11L266.0,108.05L266.5,108.03L267.0,108.06L267.5,108.04L268.0,108.02L268.5,108.45L269.0,108.34L269.5,108.38L270.0,108.20L270.5,108.25L271.0,108.33L271.5,108.08L272.0,107.45L272.5,106.29L273.0,104.92L273.5,103.99L274.0,104.11L274.5,105.18L275.0,106.56L275.5,107.62L276.0,108.19L276.5,108.34L277.0,108.17L277.5,107.33L278.0,106.50L278.5,106.50L279.0,106.50L279.5,105.95L280.0,106.50L280.5,106.35L281.0,106.34L281.5,106.50L282.0,106.50L282.5,105.15L283.0,100.97L283.5,101.81L284.0,105.99L284.5,106.50L285.0,106.50L285.5,106.50L286.0,105.28L286.5,106.46L287.0,106.50L287.5,104.98L288.0,106.50L288.5,106.50L289.0,106.36L289.5,106.50L290.0,106.50L290.5,107.33L291.0,108.17L291.5,108.04L292.0,108.33L292.5,107.92L293.0,107.50L293.5,107.50L294.0,107.50L294.5,107.50L295.0,107.50L295.5,107.50L296.0,107.50L296.5,107.15L297.0,107.10L297.5,107.50L298.0,104.72L298.5,102.83L299.0,105.98L299.5,107.50L300.0,107.50L300.5,107.50L301.0,107.50L301.5,107.45L302.0,107.50L302.5,107.50L303.0,107.50L303.5,107.50L304.0,107.50L304.5,107.50L305.0,107.50L305.5,107.92L306.0,108.33L306.5,108.43L307.0,108.27L307.5,108.16L308.0,108.38L308.5,108.33L309.0,108.13L309.5,108.33L310.0,108.20L310.5,108.23L311.0,108.04L311.5,108.49L312.0,108.41L312.5,108.11L313.0,108.17L313.5,108.45L314.0,108.43L314.5,108.39L315.0,108.23L315.5,108.05L316.0,108.39L316.5,108.40L317.0,108.16L317.5,108.29L318.0,108.08L318.5,108.00L319.0,108.03L319.5,108.14L320.0,108.25L320.5,108.47L321.0,108.10L321.5,108.30L322.0,108.27L322.5,108.18L323.0,108.02L323.5,108.22L324.0,108.04L324.5,108.02L325.0,108.46L325.5,108.32L326.0,108.06L326.5,108.12L327.0,108.02L327.5,108.41L328.0,108.23L328.5,108.03L329.0,108.23L329.5,108.16L330.0,108.01L330.5,108.41L331.0,108.47L331.5,108.07L332.0,108.21L332.5,108.40L333.0,108.08L333.5,108.36L334.0,108.44L334.5,108.35L335.0,108.48L335.5,108.30L336.0,108.11L336.5,108.27L337.0,108.02L337.5,108.48L338.0,108.41L338.5,108.43L339.0,108.21L339.5,108.40L340.0,108.17L340.5,108.24L341.0,108.21L341.5,108.08L342.0,108.11L342.5,108.04L343.0,108.42L343.5,108.31L344.0,108.02L344.5,108.30L345.0,108.36L345.5,108.26L346.0,108.41L346.5,108.08L347.0,108.18L347.5,108.45L348.0,108.02L348.5,108.24L349.0,108.37L349.5,108.19L350.0,108.03L350.5,108.33L351.0,108.49L351.5,108.40L352.0,108.47L352.5,108.24L353.0,108.34L353.5,108.07L354.0,108.40L354.5,108.48L355.0,108.27L355.5,108.07L356.0,107.23L356.5,105.87L357.0,104.65L357.5,104.51L358.0,105.58L358.5,106.99L359.0,107.95L359.5,108.34L360.0,108.04L360.5,108.22L361.0,106.91L361.5,102.94L362.0,98.98L362.5,95.80L363.0,95.80L363.5,95.80L364.0,95.80L364.5,95.80L365.0,95.80L365.5,95.80L366.0,95.80L366.5,95.80L367.0,95.80L367.5,95.80L368.0,95.80L368.5,95.80L369.0,95.80L369.5,95.80L370.0,95.80L370.5,95.80L371.0,98.98L371.5,102.39L372.0,102.85L372.5,106.11L373.0,101.39L373.5,97.12L374.0,104.23L374.5,101.11L375.0,97.74L375.5,96.40L376.0,96.40L376.5,96.40L377.0,96.40L377.5,96.40L378.0,96.40L378.5,96.40L379.0,96.40L379.5,96.40L380.0,97.74L380.5,101.11L381.0,104.47L381.5,107.83L382.0,108.02L382.5,108.41L383.0,108.18L383.5,108.10L384.0,108.18L384.5,108.29L385.0,108.49L385.5,107.00L386.0,105.50L386.5,105.50L387.0,105.50L387.5,105.50L388.0,105.50L388.5,105.50L389.0,103.50L389.5,98.50L390.0,100.00L390.5,100.00L391.0,100.00L391.5,100.00L392.0,100.00L392.5,100.00L393.0,100.85L393.5,105.10L394.0,108.41L394.5,108.06L395.0,108.24L395.5,108.17L396.0,108.43L396.5,108.13L397.0,108.00L397.5,107.50L398.0,107.00L398.5,106.50L399.0,106.00L399.5,105.50L400.0,105.00L400.5,104.50L401.0,104.50L401.5,104.50L402.0,104.50L402.5,104.50L403.0,104.50L403.5,104.50L404.0,104.50L404.5,104.50L405.0,104.50L405.5,104.50L406.0,104.50L406.5,104.50L407.0,104.50L407.5,104.25L408.0,102.12L408.5,100.00L409.0,100.00L409.5,100.00L410.0,102.12L410.5,104.25L411.0,106.38L411.5,107.50L412.0,108.00L412.5,108.46L413.0,108.02L413.5,105.00L414.0,101.50L414.5,98.00L415.0,95.90L415.5,95.90L416.0,95.90L416.5,95.90L417.0,95.90L417.5,95.90L418.0,95.90L418.5,96.60L419.0,100.10L419.5,103.60L420.0,105.00L420.5,105.00L421.0,103.25L421.5,98.00L422.0,95.90L422.5,95.90L423.0,95.90L423.5,95.90L424.0,95.90L424.5,95.90L425.0,95.90L425.5,95.90L426.0,95.90L426.5,95.90L427.0,95.90L427.5,95.90L428.0,101.15L428.5,106.40L429.0,108.40L429.5,108.08L430.0,108.06L430.5,108.21L431.0,108.46L431.5,108.11L432.0,108.07L432.5,108.36L433.0,108.26L433.5,108.35L434.0,108.47L434.5,108.13L435.0,108.42L435.5,108.46L436.0,108.05L436.5,108.45L437.0,108.12L437.5,108.09L438.0,108.37L438.5,108.31L439.0,108.39L439.5,108.15L440.0,108.01L440.5,108.13L441.0,108.25L441.5,108.23L442.0,108.30L442.5,108.14L443.0,108.37L443.5,108.38L444.0,108.15L444.5,108.37L445.0,108.01L445.5,108.14L446.0,108.41L446.5,108.49L447.0,108.20L447.5,108.43L448.0,108.25L448.5,108.20L449.0,108.10L449.5,108.31L450.0,108.23L450.5,108.09L451.0,108.43L451.5,108.33L452.0,108.10L452.5,108.32L453.0,108.03L453.5,108.46L454.0,108.46L454.5,108.32L455.0,108.27L455.5,108.32L456.0,108.39L456.5,108.28L457.0,108.05L457.5,108.03L458.0,108.19L458.5,108.37L459.0,108.21L459.5,108.42L460.0,108.47L460.5,108.10L461.0,108.37L461.5,108.42L462.0,108.09L462.5,108.44L463.0,108.38L463.5,108.42L464.0,108.05L464.5,108.16L465.0,108.26L465.5,107.91L466.0,107.32L466.5,106.62L467.0,106.10L467.5,106.04L468.0,106.49L468.5,107.18L469.0,107.81L469.5,108.21L470.0,108.18L470.5,108.42L471.0,108.26L471.5,108.37L472.0,108.32L472.5,108.05L473.0,108.22L473.5,108.18L474.0,108.18L474.5,108.50L475.0,108.11L475.5,108.06L476.0,108.13L476.5,108.24L477.0,108.08L477.5,108.03L478.0,108.36L478.5,108.42L479.0,108.33L479.5,108.49L480.0,108.38L480.5,103.21L481.0,96.60L481.5,103.21L482.0,108.47L482.5,108.26L483.0,108.07L483.5,108.14L484.0,108.30L484.5,108.14L485.0,108.05L485.5,107.85L486.0,107.60L486.5,107.29L487.0,103.87L487.5,98.08L488.0,96.92L488.5,102.71L489.0,105.15L489.5,104.76L490.0,104.46L490.5,104.27L491.0,104.20L491.5,104.27L492.0,104.46L492.5,104.76L493.0,105.15L493.5,105.59L494.0,106.05L494.5,106.50L495.0,106.92L495.5,107.29L496.0,107.60L496.5,107.85L497.0,108.05L497.5,108.12L498.0,108.15L498.5,108.03L499.0,108.04L499.5,108.22L500.0,108.41L500.5,108.21L501.0,108.29L501.5,108.15L502.0,108.33L502.5,108.46L503.0,108.40L503.5,108.43L504.0,108.13L504.5,108.16L505.0,108.23L505.5,108.34L506.0,108.14L506.5,108.28L507.0,108.25L507.5,108.40L508.0,108.00L508.5,108.28L509.0,108.26L509.5,108.40L510.0,108.28L510.5,108.26L511.0,108.29L511.5,108.13L512.0,108.33L512.5,108.19L513.0,108.16L513.5,108.43L514.0,108.09L514.5,108.46L515.0,108.37L515.5,108.08L516.0,108.44L516.5,108.36L517.0,108.29L517.5,108.03L518.0,108.02" fill="none" stroke="#e2535e" stroke-width="0.5"/>
<line x1="140.00" y1="108.50" x2="518.00" y2="108.50" stroke="#e87880" stroke-width="0.8"/>
<line x1="67" y1="108.5" x2="140" y2="108.5" stroke="#d8a8b0" stroke-width="0.8" stroke-dasharray="1.5 1.2"/>
<path d="M67.0,127.1L67.0,126.83L67.5,126.76L68.0,126.55L68.5,126.82L69.0,126.80L69.5,126.75L70.0,126.99L70.5,126.79L71.0,126.72L71.5,126.62L72.0,127.04L72.5,126.92L73.0,127.05L73.5,126.61L74.0,126.68L74.5,127.07L75.0,126.51L75.5,126.52L76.0,126.71L76.5,126.73L77.0,127.01L77.5,127.09L78.0,126.78L78.5,127.06L79.0,126.99L79.5,126.95L80.0,127.08L80.5,126.82L81.0,126.84L81.5,126.59L82.0,126.79L82.5,126.72L83.0,126.80L83.5,126.70L84.0,126.83L84.5,126.93L85.0,126.50L85.5,126.50L86.0,126.60L86.5,126.68L87.0,126.91L87.5,126.96L88.0,126.93L88.5,127.06L89.0,126.64L89.5,126.86L90.0,126.59L90.5,126.87L91.0,126.53L91.5,126.59L92.0,127.10L92.5,126.97L93.0,126.55L93.5,126.82L94.0,126.51L94.5,126.86L95.0,127.06L95.5,126.72L96.0,126.63L96.5,126.94L97.0,127.05L97.5,126.90L98.0,126.52L98.5,126.65L99.0,127.03L99.5,126.95L100.0,127.04L100.5,127.06L101.0,126.62L101.5,126.99L102.0,126.76L102.5,126.83L103.0,126.99L103.5,126.66L104.0,127.02L104.5,126.71L105.0,127.03L105.5,126.85L106.0,126.97L106.5,126.94L107.0,126.52L107.5,126.62L108.0,126.92L108.5,126.57L109.0,126.97L109.5,126.86L110.0,126.59L110.5,126.71L111.0,127.04L111.5,126.51L112.0,126.97L112.5,126.95L113.0,126.64L113.5,126.90L114.0,126.92L114.5,127.06L115.0,127.05L115.5,126.75L116.0,126.95L116.5,126.74L117.0,126.88L117.5,126.83L118.0,126.52L118.5,126.81L119.0,126.76L119.5,126.58L120.0,126.99L120.5,127.01L121.0,126.55L121.5,126.61L122.0,126.95L122.5,126.99L123.0,126.66L123.5,126.54L124.0,126.98L124.5,126.53L125.0,126.57L125.5,126.74L126.0,126.85L126.5,127.04L127.0,127.08L127.5,126.52L128.0,126.96L128.5,126.68L129.0,126.95L129.5,126.61L130.0,126.74L130.5,126.92L131.0,126.99L131.5,126.67L132.0,127.06L132.5,126.96L133.0,126.76L133.5,126.59L134.0,126.73L134.5,126.93L135.0,126.55L135.5,126.98L136.0,127.09L136.5,126.94L137.0,126.83L137.5,127.06L138.0,126.99L138.5,126.88L139.0,126.76L139.5,127.02L140.0,126.88L140.5,126.57L141.0,126.51L141.5,126.71L142.0,126.69L142.5,126.75L143.0,127.02L143.5,127.08L144.0,127.09L144.5,126.55L145.0,126.68L145.5,126.52L146.0,127.09L146.5,126.72L147.0,126.81L147.5,126.66L148.0,126.91L148.5,126.50L149.0,127.05L149.5,126.77L150.0,126.66L150.5,126.56L151.0,126.66L151.5,126.68L152.0,126.62L152.5,126.55L153.0,126.89L153.5,126.69L154.0,126.56L154.5,126.58L155.0,126.85L155.5,126.63L156.0,126.58L156.5,126.76L157.0,126.73L157.5,126.87L158.0,126.75L158.5,126.73L159.0,127.05L159.5,126.72L160.0,126.50L160.5,126.57L161.0,126.66L161.5,126.87L162.0,126.66L162.5,126.75L163.0,126.84L163.5,126.60L164.0,127.05L164.5,126.65L165.0,127.08L165.5,126.74L166.0,126.81L166.5,126.96L167.0,126.68L167.5,126.80L168.0,126.73L168.5,126.55L169.0,126.95L169.5,127.09L170.0,126.92L170.5,126.69L171.0,126.98L171.5,127.00L172.0,126.56L172.5,126.70L173.0,126.83L173.5,126.56L174.0,126.90L174.5,126.70L175.0,126.98L175.5,126.84L176.0,126.62L176.5,126.55L177.0,126.57L177.5,126.87L178.0,126.75L178.5,126.91L179.0,127.02L179.5,126.80L180.0,126.60L180.5,126.59L181.0,126.67L181.5,126.53L182.0,126.93L182.5,127.00L183.0,126.83L183.5,126.93L184.0,126.97L184.5,126.85L185.0,126.72L185.5,126.80L186.0,126.91L186.5,126.60L187.0,126.51L187.5,126.83L188.0,127.06L188.5,127.08L189.0,126.58L189.5,127.08L190.0,126.67L190.5,126.76L191.0,126.91L191.5,126.63L192.0,127.09L192.5,127.02L193.0,126.83L193.5,127.09L194.0,126.60L194.5,126.96L195.0,127.02L195.5,127.07L196.0,126.72L196.5,126.83L197.0,126.72L197.5,126.71L198.0,126.62L198.5,126.52L199.0,126.69L199.5,126.26L200.0,125.70L200.5,125.24L201.0,125.11L201.5,125.40L202.0,125.93L202.5,126.46L203.0,126.82L203.5,126.89L204.0,126.68L204.5,126.79L205.0,126.73L205.5,126.65L206.0,126.86L206.5,126.62L207.0,126.56L207.5,127.05L208.0,126.54L208.5,126.67L209.0,127.02L209.5,126.83L210.0,126.72L210.5,126.55L211.0,126.87L211.5,126.76L212.0,126.57L212.5,126.62L213.0,126.53L213.5,126.82L214.0,126.71L214.5,126.98L215.0,126.67L215.5,126.61L216.0,126.72L216.5,126.67L217.0,126.97L217.5,126.56L218.0,126.51L218.5,126.51L219.0,126.78L219.5,126.63L220.0,126.91L220.5,126.55L221.0,126.59L221.5,126.89L222.0,127.05L222.5,126.84L223.0,126.77L223.5,126.64L224.0,126.81L224.5,127.08L225.0,126.61L225.5,127.06L226.0,126.62L226.5,127.00L227.0,126.90L227.5,126.63L228.0,127.02L228.5,127.01L229.0,126.79L229.5,126.67L230.0,126.60L230.5,126.69L231.0,126.53L231.5,126.80L232.0,126.53L232.5,127.05L233.0,126.97L233.5,126.78L234.0,126.93L234.5,126.66L235.0,126.72L235.5,126.79L236.0,126.59L236.5,126.76L237.0,126.91L237.5,126.87L238.0,126.59L238.5,126.56L239.0,126.98L239.5,126.59L240.0,126.52L240.5,126.79L241.0,126.76L241.5,126.98L242.0,126.78L242.5,126.80L243.0,126.74L243.5,127.08L244.0,126.52L244.5,126.79L245.0,126.86L245.5,126.62L246.0,126.76L246.5,126.81L247.0,126.69L247.5,127.06L248.0,126.78L248.5,126.85L249.0,126.53L249.5,126.55L250.0,126.94L250.5,126.82L251.0,127.02L251.5,126.84L252.0,126.61L252.5,126.56L253.0,126.81L253.5,126.91L254.0,126.99L254.5,126.73L255.0,126.54L255.5,127.02L256.0,126.63L256.5,127.09L257.0,126.98L257.5,126.96L258.0,126.69L258.5,126.91L259.0,126.89L259.5,126.73L260.0,127.04L260.5,126.66L261.0,127.03L261.5,126.79L262.0,126.95L262.5,126.98L263.0,126.78L263.5,126.84L264.0,126.87L264.5,126.85L265.0,126.78L265.5,127.00L266.0,126.98L266.5,126.72L267.0,126.72L267.5,126.78L268.0,126.59L268.5,126.73L269.0,126.59L269.5,126.96L270.0,126.66L270.5,126.61L271.0,126.56L271.5,126.91L272.0,126.91L272.5,126.55L273.0,126.97L273.5,126.50L274.0,126.57L274.5,127.02L275.0,126.96L275.5,126.66L276.0,126.94L276.5,127.04L277.0,126.60L277.5,126.85L278.0,126.63L278.5,127.02L279.0,126.86L279.5,126.69L280.0,127.06L280.5,126.96L281.0,126.69L281.5,126.29L282.0,125.69L282.5,125.13L283.0,124.90L283.5,125.13L284.0,125.69L284.5,126.29L285.0,126.73L285.5,126.96L286.0,127.04L286.5,127.08L287.0,126.77L287.5,126.79L288.0,126.76L288.5,127.01L289.0,126.99L289.5,126.98L290.0,126.60L290.5,126.51L291.0,126.54L291.5,127.04L292.0,127.06L292.5,126.53L293.0,126.82L293.5,126.64L294.0,126.90L294.5,126.82L295.0,126.79L295.5,126.84L296.0,126.74L296.5,127.09L297.0,126.68L297.5,126.59L298.0,126.99L298.5,126.83L299.0,126.66L299.5,126.86L300.0,126.98L300.5,127.00L301.0,126.79L301.5,126.85L302.0,126.50L302.5,126.09L303.0,125.90L303.5,126.09L304.0,126.50L304.5,126.85L305.0,126.74L305.5,126.80L306.0,126.51L306.5,126.62L307.0,126.95L307.5,126.55L308.0,126.65L308.5,126.63L309.0,126.61L309.5,126.86L310.0,126.56L310.5,126.57L311.0,126.68L311.5,126.64L312.0,126.64L312.5,126.86L313.0,126.67L313.5,127.06L314.0,126.89L314.5,126.82L315.0,127.09L315.5,126.89L316.0,126.72L316.5,126.73L317.0,126.96L317.5,126.53L318.0,126.70L318.5,126.90L319.0,126.70L319.5,126.76L320.0,126.78L320.5,126.87L321.0,126.50L321.5,126.71L322.0,126.68L322.5,126.64L323.0,126.51L323.5,127.09L324.0,126.73L324.5,126.66L325.0,126.95L325.5,126.86L326.0,127.07L326.5,126.98L327.0,126.87L327.5,127.04L328.0,126.95L328.5,126.56L329.0,126.77L329.5,126.80L330.0,126.52L330.5,126.76L331.0,126.50L331.5,126.72L332.0,126.61L332.5,127.05L333.0,126.74L333.5,126.64L334.0,127.07L334.5,126.54L335.0,127.00L335.5,126.82L336.0,127.00L336.5,126.80L337.0,126.73L337.5,127.06L338.0,126.53L338.5,126.85L339.0,126.78L339.5,126.74L340.0,126.88L340.5,126.93L341.0,126.71L341.5,126.76L342.0,126.93L342.5,126.67L343.0,126.92L343.5,127.09L344.0,126.95L344.5,127.07L345.0,127.01L345.5,126.65L346.0,126.87L346.5,126.56L347.0,126.65L347.5,127.07L348.0,126.51L348.5,126.53L349.0,127.06L349.5,126.56L350.0,126.84L350.5,126.81L351.0,126.52L351.5,126.93L352.0,126.77L352.5,126.54L353.0,126.43L353.5,126.27L354.0,126.10L354.5,125.93L355.0,125.77L355.5,125.60L356.0,125.43L356.5,125.27L357.0,124.60L357.5,124.60L358.0,124.60L358.5,124.60L359.0,124.60L359.5,124.60L360.0,124.60L360.5,124.56L361.0,124.60L361.5,124.60L362.0,124.60L362.5,124.60L363.0,124.60L363.5,124.60L364.0,123.46L364.5,120.86L365.0,120.34L365.5,122.94L366.0,124.60L366.5,124.60L367.0,124.52L367.5,124.60L368.0,123.09L368.5,120.22L369.0,119.65L369.5,122.51L370.0,124.60L370.5,123.80L371.0,123.54L371.5,124.60L372.0,124.60L372.5,123.98L373.0,121.38L373.5,119.82L374.0,122.42L374.5,124.60L375.0,124.60L375.5,124.60L376.0,124.30L376.5,121.97L377.0,120.57L377.5,122.90L378.0,124.60L378.5,124.60L379.0,124.60L379.5,122.94L380.0,123.24L380.5,124.60L381.0,122.81L381.5,124.60L382.0,124.60L382.5,124.53L383.0,124.60L383.5,124.60L384.0,124.32L384.5,124.60L385.0,124.60L385.5,124.60L386.0,124.60L386.5,124.60L387.0,124.60L387.5,123.76L388.0,124.60L388.5,124.60L389.0,121.98L389.5,118.33L390.0,120.52L390.5,122.18L391.0,121.60L391.5,122.18L392.0,123.57L392.5,124.60L393.0,124.60L393.5,124.60L394.0,124.60L394.5,124.60L395.0,124.60L395.5,125.64L396.0,126.10L396.5,126.27L397.0,126.43L397.5,126.60L398.0,126.67L398.5,126.68L399.0,126.93L399.5,127.01L400.0,126.89L400.5,126.66L401.0,126.88L401.5,127.03L402.0,126.67L402.5,126.76L403.0,126.05L403.5,125.18L404.0,124.31L404.5,123.43L405.0,122.56L405.5,121.69L406.0,120.81L406.5,119.94L407.0,119.07L407.5,118.20L408.0,117.32L408.5,116.45L409.0,116.10L409.5,116.10L410.0,116.10L410.5,113.40L411.0,116.10L411.5,116.10L412.0,116.10L412.5,116.10L413.0,113.60L413.5,116.10L414.0,116.10L414.5,116.10L415.0,116.10L415.5,116.10L416.0,116.10L416.5,116.10L417.0,115.23L417.5,116.10L418.0,116.10L418.5,116.10L419.0,116.10L419.5,116.10L420.0,116.10L420.5,116.10L421.0,113.40L421.5,116.10L422.0,116.10L422.5,116.10L423.0,116.10L423.5,116.10L424.0,116.10L424.5,116.10L425.0,116.10L425.5,115.73L426.0,115.02L426.5,116.10L427.0,116.10L427.5,116.10L428.0,116.10L428.5,116.45L429.0,117.32L429.5,118.20L430.0,119.07L430.5,119.94L431.0,120.81L431.5,121.69L432.0,122.56L432.5,123.43L433.0,124.31L433.5,125.18L434.0,126.05L434.5,126.62L435.0,126.60L435.5,126.57L436.0,126.53L436.5,126.72L437.0,126.79L437.5,126.67L438.0,126.62L438.5,126.85L439.0,126.85L439.5,127.01L440.0,126.66L440.5,126.51L441.0,126.87L441.5,127.00L442.0,126.98L442.5,126.85L443.0,126.92L443.5,126.52L444.0,127.06L444.5,126.91L445.0,127.03L445.5,126.71L446.0,126.63L446.5,126.99L447.0,127.06L447.5,126.82L448.0,126.75L448.5,126.55L449.0,127.08L449.5,127.03L450.0,126.99L450.5,126.97L451.0,126.96L451.5,126.67L452.0,126.74L452.5,126.97L453.0,126.99L453.5,126.93L454.0,127.00L454.5,126.65L455.0,126.91L455.5,126.77L456.0,126.61L456.5,126.81L457.0,126.94L457.5,126.57L458.0,126.55L458.5,126.89L459.0,126.77L459.5,126.53L460.0,126.81L460.5,126.97L461.0,127.07L461.5,126.53L462.0,126.62L462.5,126.87L463.0,126.78L463.5,126.79L464.0,126.94L464.5,126.51L465.0,126.71L465.5,126.96L466.0,126.97L466.5,126.64L467.0,125.93L467.5,125.00L468.0,124.42L468.5,124.68L469.0,125.56L469.5,126.41L470.0,126.88L470.5,126.94L471.0,126.58L471.5,126.79L472.0,126.72L472.5,126.50L473.0,126.94L473.5,126.78L474.0,127.01L474.5,126.64L475.0,127.10L475.5,126.61L476.0,126.59L476.5,126.61L477.0,127.05L477.5,126.94L478.0,126.67L478.5,127.04L479.0,126.81L479.5,126.72L480.0,125.78L480.5,124.30L481.0,123.50L481.5,124.30L482.0,125.78L482.5,126.72L483.0,126.55L483.5,127.05L484.0,126.60L484.5,126.97L485.0,126.77L485.5,126.78L486.0,127.01L486.5,124.10L487.0,121.10L487.5,120.45L488.0,115.70L488.5,116.65L489.0,121.10L489.5,121.10L490.0,120.43L490.5,117.10L491.0,120.43L491.5,118.60L492.0,118.60L492.5,118.60L493.0,118.60L493.5,118.60L494.0,120.60L494.5,120.60L495.0,120.60L495.5,120.60L496.0,120.60L496.5,122.10L497.0,122.10L497.5,123.43L498.0,125.10L498.5,126.77L499.0,126.73L499.5,126.93L500.0,126.87L500.5,126.78L501.0,126.92L501.5,126.90L502.0,126.86L502.5,126.70L503.0,126.95L503.5,126.98L504.0,126.66L504.5,126.90L505.0,126.53L505.5,126.76L506.0,126.67L506.5,126.90L507.0,126.60L507.5,127.04L508.0,127.02L508.5,127.04L509.0,126.69L509.5,126.68L510.0,126.99L510.5,126.86L511.0,126.60L511.5,126.74L512.0,127.05L512.5,126.96L513.0,127.01L513.5,127.03L514.0,126.86L514.5,127.06L515.0,126.55L515.5,126.84L516.0,126.79L516.5,126.71L517.0,126.64L517.5,126.61L518.0,126.87L518.0,127.1Z" fill="#f29892" stroke="none"/>
<path d="M67.0,126.83L67.5,126.76L68.0,126.55L68.5,126.82L69.0,126.80L69.5,126.75L70.0,126.99L70.5,126.79L71.0,126.72L71.5,126.62L72.0,127.04L72.5,126.92L73.0,127.05L73.5,126.61L74.0,126.68L74.5,127.07L75.0,126.51L75.5,126.52L76.0,126.71L76.5,126.73L77.0,127.01L77.5,127.09L78.0,126.78L78.5,127.06L79.0,126.99L79.5,126.95L80.0,127.08L80.5,126.82L81.0,126.84L81.5,126.59L82.0,126.79L82.5,126.72L83.0,126.80L83.5,126.70L84.0,126.83L84.5,126.93L85.0,126.50L85.5,126.50L86.0,126.60L86.5,126.68L87.0,126.91L87.5,126.96L88.0,126.93L88.5,127.06L89.0,126.64L89.5,126.86L90.0,126.59L90.5,126.87L91.0,126.53L91.5,126.59L92.0,127.10L92.5,126.97L93.0,126.55L93.5,126.82L94.0,126.51L94.5,126.86L95.0,127.06L95.5,126.72L96.0,126.63L96.5,126.94L97.0,127.05L97.5,126.90L98.0,126.52L98.5,126.65L99.0,127.03L99.5,126.95L100.0,127.04L100.5,127.06L101.0,126.62L101.5,126.99L102.0,126.76L102.5,126.83L103.0,126.99L103.5,126.66L104.0,127.02L104.5,126.71L105.0,127.03L105.5,126.85L106.0,126.97L106.5,126.94L107.0,126.52L107.5,126.62L108.0,126.92L108.5,126.57L109.0,126.97L109.5,126.86L110.0,126.59L110.5,126.71L111.0,127.04L111.5,126.51L112.0,126.97L112.5,126.95L113.0,126.64L113.5,126.90L114.0,126.92L114.5,127.06L115.0,127.05L115.5,126.75L116.0,126.95L116.5,126.74L117.0,126.88L117.5,126.83L118.0,126.52L118.5,126.81L119.0,126.76L119.5,126.58L120.0,126.99L120.5,127.01L121.0,126.55L121.5,126.61L122.0,126.95L122.5,126.99L123.0,126.66L123.5,126.54L124.0,126.98L124.5,126.53L125.0,126.57L125.5,126.74L126.0,126.85L126.5,127.04L127.0,127.08L127.5,126.52L128.0,126.96L128.5,126.68L129.0,126.95L129.5,126.61L130.0,126.74L130.5,126.92L131.0,126.99L131.5,126.67L132.0,127.06L132.5,126.96L133.0,126.76L133.5,126.59L134.0,126.73L134.5,126.93L135.0,126.55L135.5,126.98L136.0,127.09L136.5,126.94L137.0,126.83L137.5,127.06L138.0,126.99L138.5,126.88L139.0,126.76L139.5,127.02L140.0,126.88L140.5,126.57L141.0,126.51L141.5,126.71L142.0,126.69L142.5,126.75L143.0,127.02L143.5,127.08L144.0,127.09L144.5,126.55L145.0,126.68L145.5,126.52L146.0,127.09L146.5,126.72L147.0,126.81L147.5,126.66L148.0,126.91L148.5,126.50L149.0,127.05L149.5,126.77L150.0,126.66L150.5,126.56L151.0,126.66L151.5,126.68L152.0,126.62L152.5,126.55L153.0,126.89L153.5,126.69L154.0,126.56L154.5,126.58L155.0,126.85L155.5,126.63L156.0,126.58L156.5,126.76L157.0,126.73L157.5,126.87L158.0,126.75L158.5,126.73L159.0,127.05L159.5,126.72L160.0,126.50L160.5,126.57L161.0,126.66L161.5,126.87L162.0,126.66L162.5,126.75L163.0,126.84L163.5,126.60L164.0,127.05L164.5,126.65L165.0,127.08L165.5,126.74L166.0,126.81L166.5,126.96L167.0,126.68L167.5,126.80L168.0,126.73L168.5,126.55L169.0,126.95L169.5,127.09L170.0,126.92L170.5,126.69L171.0,126.98L171.5,127.00L172.0,126.56L172.5,126.70L173.0,126.83L173.5,126.56L174.0,126.90L174.5,126.70L175.0,126.98L175.5,126.84L176.0,126.62L176.5,126.55L177.0,126.57L177.5,126.87L178.0,126.75L178.5,126.91L179.0,127.02L179.5,126.80L180.0,126.60L180.5,126.59L181.0,126.67L181.5,126.53L182.0,126.93L182.5,127.00L183.0,126.83L183.5,126.93L184.0,126.97L184.5,126.85L185.0,126.72L185.5,126.80L186.0,126.91L186.5,126.60L187.0,126.51L187.5,126.83L188.0,127.06L188.5,127.08L189.0,126.58L189.5,127.08L190.0,126.67L190.5,126.76L191.0,126.91L191.5,126.63L192.0,127.09L192.5,127.02L193.0,126.83L193.5,127.09L194.0,126.60L194.5,126.96L195.0,127.02L195.5,127.07L196.0,126.72L196.5,126.83L197.0,126.72L197.5,126.71L198.0,126.62L198.5,126.52L199.0,126.69L199.5,126.26L200.0,125.70L200.5,125.24L201.0,125.11L201.5,125.40L202.0,125.93L202.5,126.46L203.0,126.82L203.5,126.89L204.0,126.68L204.5,126.79L205.0,126.73L205.5,126.65L206.0,126.86L206.5,126.62L207.0,126.56L207.5,127.05L208.0,126.54L208.5,126.67L209.0,127.02L209.5,126.83L210.0,126.72L210.5,126.55L211.0,126.87L211.5,126.76L212.0,126.57L212.5,126.62L213.0,126.53L213.5,126.82L214.0,126.71L214.5,126.98L215.0,126.67L215.5,126.61L216.0,126.72L216.5,126.67L217.0,126.97L217.5,126.56L218.0,126.51L218.5,126.51L219.0,126.78L219.5,126.63L220.0,126.91L220.5,126.55L221.0,126.59L221.5,126.89L222.0,127.05L222.5,126.84L223.0,126.77L223.5,126.64L224.0,126.81L224.5,127.08L225.0,126.61L225.5,127.06L226.0,126.62L226.5,127.00L227.0,126.90L227.5,126.63L228.0,127.02L228.5,127.01L229.0,126.79L229.5,126.67L230.0,126.60L230.5,126.69L231.0,126.53L231.5,126.80L232.0,126.53L232.5,127.05L233.0,126.97L233.5,126.78L234.0,126.93L234.5,126.66L235.0,126.72L235.5,126.79L236.0,126.59L236.5,126.76L237.0,126.91L237.5,126.87L238.0,126.59L238.5,126.56L239.0,126.98L239.5,126.59L240.0,126.52L240.5,126.79L241.0,126.76L241.5,126.98L242.0,126.78L242.5,126.80L243.0,126.74L243.5,127.08L244.0,126.52L244.5,126.79L245.0,126.86L245.5,126.62L246.0,126.76L246.5,126.81L247.0,126.69L247.5,127.06L248.0,126.78L248.5,126.85L249.0,126.53L249.5,126.55L250.0,126.94L250.5,126.82L251.0,127.02L251.5,126.84L252.0,126.61L252.5,126.56L253.0,126.81L253.5,126.91L254.0,126.99L254.5,126.73L255.0,126.54L255.5,127.02L256.0,126.63L256.5,127.09L257.0,126.98L257.5,126.96L258.0,126.69L258.5,126.91L259.0,126.89L259.5,126.73L260.0,127.04L260.5,126.66L261.0,127.03L261.5,126.79L262.0,126.95L262.5,126.98L263.0,126.78L263.5,126.84L264.0,126.87L264.5,126.85L265.0,126.78L265.5,127.00L266.0,126.98L266.5,126.72L267.0,126.72L267.5,126.78L268.0,126.59L268.5,126.73L269.0,126.59L269.5,126.96L270.0,126.66L270.5,126.61L271.0,126.56L271.5,126.91L272.0,126.91L272.5,126.55L273.0,126.97L273.5,126.50L274.0,126.57L274.5,127.02L275.0,126.96L275.5,126.66L276.0,126.94L276.5,127.04L277.0,126.60L277.5,126.85L278.0,126.63L278.5,127.02L279.0,126.86L279.5,126.69L280.0,127.06L280.5,126.96L281.0,126.69L281.5,126.29L282.0,125.69L282.5,125.13L283.0,124.90L283.5,125.13L284.0,125.69L284.5,126.29L285.0,126.73L285.5,126.96L286.0,127.04L286.5,127.08L287.0,126.77L287.5,126.79L288.0,126.76L288.5,127.01L289.0,126.99L289.5,126.98L290.0,126.60L290.5,126.51L291.0,126.54L291.5,127.04L292.0,127.06L292.5,126.53L293.0,126.82L293.5,126.64L294.0,126.90L294.5,126.82L295.0,126.79L295.5,126.84L296.0,126.74L296.5,127.09L297.0,126.68L297.5,126.59L298.0,126.99L298.5,126.83L299.0,126.66L299.5,126.86L300.0,126.98L300.5,127.00L301.0,126.79L301.5,126.85L302.0,126.50L302.5,126.09L303.0,125.90L303.5,126.09L304.0,126.50L304.5,126.85L305.0,126.74L305.5,126.80L306.0,126.51L306.5,126.62L307.0,126.95L307.5,126.55L308.0,126.65L308.5,126.63L309.0,126.61L309.5,126.86L310.0,126.56L310.5,126.57L311.0,126.68L311.5,126.64L312.0,126.64L312.5,126.86L313.0,126.67L313.5,127.06L314.0,126.89L314.5,126.82L315.0,127.09L315.5,126.89L316.0,126.72L316.5,126.73L317.0,126.96L317.5,126.53L318.0,126.70L318.5,126.90L319.0,126.70L319.5,126.76L320.0,126.78L320.5,126.87L321.0,126.50L321.5,126.71L322.0,126.68L322.5,126.64L323.0,126.51L323.5,127.09L324.0,126.73L324.5,126.66L325.0,126.95L325.5,126.86L326.0,127.07L326.5,126.98L327.0,126.87L327.5,127.04L328.0,126.95L328.5,126.56L329.0,126.77L329.5,126.80L330.0,126.52L330.5,126.76L331.0,126.50L331.5,126.72L332.0,126.61L332.5,127.05L333.0,126.74L333.5,126.64L334.0,127.07L334.5,126.54L335.0,127.00L335.5,126.82L336.0,127.00L336.5,126.80L337.0,126.73L337.5,127.06L338.0,126.53L338.5,126.85L339.0,126.78L339.5,126.74L340.0,126.88L340.5,126.93L341.0,126.71L341.5,126.76L342.0,126.93L342.5,126.67L343.0,126.92L343.5,127.09L344.0,126.95L344.5,127.07L345.0,127.01L345.5,126.65L346.0,126.87L346.5,126.56L347.0,126.65L347.5,127.07L348.0,126.51L348.5,126.53L349.0,127.06L349.5,126.56L350.0,126.84L350.5,126.81L351.0,126.52L351.5,126.93L352.0,126.77L352.5,126.54L353.0,126.43L353.5,126.27L354.0,126.10L354.5,125.93L355.0,125.77L355.5,125.60L356.0,125.43L356.5,125.27L357.0,124.60L357.5,124.60L358.0,124.60L358.5,124.60L359.0,124.60L359.5,124.60L360.0,124.60L360.5,124.56L361.0,124.60L361.5,124.60L362.0,124.60L362.5,124.60L363.0,124.60L363.5,124.60L364.0,123.46L364.5,120.86L365.0,120.34L365.5,122.94L366.0,124.60L366.5,124.60L367.0,124.52L367.5,124.60L368.0,123.09L368.5,120.22L369.0,119.65L369.5,122.51L370.0,124.60L370.5,123.80L371.0,123.54L371.5,124.60L372.0,124.60L372.5,123.98L373.0,121.38L373.5,119.82L374.0,122.42L374.5,124.60L375.0,124.60L375.5,124.60L376.0,124.30L376.5,121.97L377.0,120.57L377.5,122.90L378.0,124.60L378.5,124.60L379.0,124.60L379.5,122.94L380.0,123.24L380.5,124.60L381.0,122.81L381.5,124.60L382.0,124.60L382.5,124.53L383.0,124.60L383.5,124.60L384.0,124.32L384.5,124.60L385.0,124.60L385.5,124.60L386.0,124.60L386.5,124.60L387.0,124.60L387.5,123.76L388.0,124.60L388.5,124.60L389.0,121.98L389.5,118.33L390.0,120.52L390.5,122.18L391.0,121.60L391.5,122.18L392.0,123.57L392.5,124.60L393.0,124.60L393.5,124.60L394.0,124.60L394.5,124.60L395.0,124.60L395.5,125.64L396.0,126.10L396.5,126.27L397.0,126.43L397.5,126.60L398.0,126.67L398.5,126.68L399.0,126.93L399.5,127.01L400.0,126.89L400.5,126.66L401.0,126.88L401.5,127.03L402.0,126.67L402.5,126.76L403.0,126.05L403.5,125.18L404.0,124.31L404.5,123.43L405.0,122.56L405.5,121.69L406.0,120.81L406.5,119.94L407.0,119.07L407.5,118.20L408.0,117.32L408.5,116.45L409.0,116.10L409.5,116.10L410.0,116.10L410.5,113.40L411.0,116.10L411.5,116.10L412.0,116.10L412.5,116.10L413.0,113.60L413.5,116.10L414.0,116.10L414.5,116.10L415.0,116.10L415.5,116.10L416.0,116.10L416.5,116.10L417.0,115.23L417.5,116.10L418.0,116.10L418.5,116.10L419.0,116.10L419.5,116.10L420.0,116.10L420.5,116.10L421.0,113.40L421.5,116.10L422.0,116.10L422.5,116.10L423.0,116.10L423.5,116.10L424.0,116.10L424.5,116.10L425.0,116.10L425.5,115.73L426.0,115.02L426.5,116.10L427.0,116.10L427.5,116.10L428.0,116.10L428.5,116.45L429.0,117.32L429.5,118.20L430.0,119.07L430.5,119.94L431.0,120.81L431.5,121.69L432.0,122.56L432.5,123.43L433.0,124.31L433.5,125.18L434.0,126.05L434.5,126.62L435.0,126.60L435.5,126.57L436.0,126.53L436.5,126.72L437.0,126.79L437.5,126.67L438.0,126.62L438.5,126.85L439.0,126.85L439.5,127.01L440.0,126.66L440.5,126.51L441.0,126.87L441.5,127.00L442.0,126.98L442.5,126.85L443.0,126.92L443.5,126.52L444.0,127.06L444.5,126.91L445.0,127.03L445.5,126.71L446.0,126.63L446.5,126.99L447.0,127.06L447.5,126.82L448.0,126.75L448.5,126.55L449.0,127.08L449.5,127.03L450.0,126.99L450.5,126.97L451.0,126.96L451.5,126.67L452.0,126.74L452.5,126.97L453.0,126.99L453.5,126.93L454.0,127.00L454.5,126.65L455.0,126.91L455.5,126.77L456.0,126.61L456.5,126.81L457.0,126.94L457.5,126.57L458.0,126.55L458.5,126.89L459.0,126.77L459.5,126.53L460.0,126.81L460.5,126.97L461.0,127.07L461.5,126.53L462.0,126.62L462.5,126.87L463.0,126.78L463.5,126.79L464.0,126.94L464.5,126.51L465.0,126.71L465.5,126.96L466.0,126.97L466.5,126.64L467.0,125.93L467.5,125.00L468.0,124.42L468.5,124.68L469.0,125.56L469.5,126.41L470.0,126.88L470.5,126.94L471.0,126.58L471.5,126.79L472.0,126.72L472.5,126.50L473.0,126.94L473.5,126.78L474.0,127.01L474.5,126.64L475.0,127.10L475.5,126.61L476.0,126.59L476.5,126.61L477.0,127.05L477.5,126.94L478.0,126.67L478.5,127.04L479.0,126.81L479.5,126.72L480.0,125.78L480.5,124.30L481.0,123.50L481.5,124.30L482.0,125.78L482.5,126.72L483.0,126.55L483.5,127.05L484.0,126.60L484.5,126.97L485.0,126.77L485.5,126.78L486.0,127.01L486.5,124.10L487.0,121.10L487.5,120.45L488.0,115.70L488.5,116.65L489.0,121.10L489.5,121.10L490.0,120.43L490.5,117.10L491.0,120.43L491.5,118.60L492.0,118.60L492.5,118.60L493.0,118.60L493.5,118.60L494.0,120.60L494.5,120.60L495.0,120.60L495.5,120.60L496.0,120.60L496.5,122.10L497.0,122.10L497.5,123.43L498.0,125.10L498.5,126.77L499.0,126.73L499.5,126.93L500.0,126.87L500.5,126.78L501.0,126.92L501.5,126.90L502.0,126.86L502.5,126.70L503.0,126.95L503.5,126.98L504.0,126.66L504.5,126.90L505.0,126.53L505.5,126.76L506.0,126.67L506.5,126.90L507.0,126.60L507.5,127.04L508.0,127.02L508.5,127.04L509.0,126.69L509.5,126.68L510.0,126.99L510.5,126.86L511.0,126.60L511.5,126.74L512.0,127.05L512.5,126.96L513.0,127.01L513.5,127.03L514.0,126.86L514.5,127.06L515.0,126.55L515.5,126.84L516.0,126.79L516.5,126.71L517.0,126.64L517.5,126.61L518.0,126.87" fill="none" stroke="#e2535e" stroke-width="0.5"/>
<line x1="67.00" y1="127.10" x2="518.00" y2="127.10" stroke="#e2535e" stroke-width="1.0"/>
<rect x="73.80" y="131.20" width="0.80" height="5.20" fill="#f3d224"/>
<rect x="77.50" y="131.20" width="1.20" height="5.20" fill="#f3d224"/>
<rect x="87.90" y="131.20" width="0.80" height="5.20" fill="#f3d224"/>
<rect x="91.70" y="131.20" width="0.80" height="5.20" fill="#f3d224"/>
<rect x="93.00" y="131.20" width="0.80" height="5.20" fill="#f3d224"/>
<rect x="94.60" y="131.20" width="0.80" height="5.20" fill="#f3d224"/>
<rect x="102.00" y="131.20" width="0.80" height="5.20" fill="#f3d224"/>
<rect x="116.50" y="131.20" width="2.40" height="5.20" fill="#f3d224"/>
<rect x="132.00" y="131.20" width="0.80" height="5.20" fill="#f3d224"/>
<rect x="138.80" y="131.20" width="0.80" height="5.20" fill="#f3d224"/>
<rect x="140.40" y="131.20" width="0.80" height="5.20" fill="#f3d224"/>
<rect x="150.40" y="131.20" width="0.80" height="5.20" fill="#f3d224"/>
<rect x="165.00" y="131.20" width="0.80" height="5.20" fill="#f3d224"/>
<rect x="172.00" y="131.20" width="1.00" height="5.20" fill="#f3d224"/>
<rect x="176.00" y="131.20" width="1.20" height="5.20" fill="#9ab6e0"/>
<rect x="178.00" y="131.20" width="2.40" height="5.20" fill="#f3d224"/>
<rect x="181.00" y="131.20" width="1.20" height="5.20" fill="#f3a12b"/>
<rect x="186.00" y="131.20" width="0.80" height="5.20" fill="#f3d224"/>
<rect x="190.00" y="131.20" width="1.00" height="5.20" fill="#f3d224"/>
<rect x="195.00" y="131.20" width="1.50" height="5.20" fill="#f3d224"/>
<rect x="198.00" y="131.20" width="0.80" height="5.20" fill="#f3d224"/>
<rect x="203.00" y="131.20" width="1.00" height="5.20" fill="#f3d224"/>
<rect x="208.00" y="131.20" width="1.00" height="5.20" fill="#f3d224"/>
<rect x="213.00" y="131.20" width="0.80" height="5.20" fill="#f3d224"/>
<rect x="222.00" y="131.20" width="0.80" height="5.20" fill="#f3d224"/>
<rect x="232.00" y="131.20" width="1.00" height="5.20" fill="#f3d224"/>
<rect x="245.00" y="131.20" width="0.80" height="5.20" fill="#f3d224"/>
<rect x="256.00" y="131.20" width="1.00" height="5.20" fill="#f3d224"/>
<rect x="262.00" y="131.20" width="0.80" height="5.20" fill="#f3d224"/>
<rect x="270.00" y="131.20" width="1.00" height="5.20" fill="#f3d224"/>
<rect x="276.00" y="131.20" width="1.50" height="5.20" fill="#f3d224"/>
<rect x="283.00" y="131.20" width="1.00" height="5.20" fill="#f3d224"/>
<rect x="290.00" y="131.20" width="0.80" height="5.20" fill="#f3d224"/>
<rect x="296.00" y="131.20" width="1.50" height="5.20" fill="#f3d224"/>
<rect x="300.00" y="131.20" width="0.80" height="5.20" fill="#f3d224"/>
<rect x="305.00" y="131.20" width="0.80" height="5.20" fill="#f3d224"/>
<rect x="313.00" y="131.20" width="0.80" height="5.20" fill="#f3d224"/>
<rect x="318.00" y="131.20" width="0.80" height="5.20" fill="#f3d224"/>
<rect x="324.00" y="131.20" width="0.80" height="5.20" fill="#f3d224"/>
<rect x="336.00" y="131.20" width="0.80" height="5.20" fill="#f3d224"/>
<rect x="343.00" y="131.20" width="0.80" height="5.20" fill="#f3d224"/>
<rect x="350.00" y="131.20" width="0.80" height="5.20" fill="#f3d224"/>
<rect x="352.50" y="131.20" width="3.50" height="5.20" fill="#f7e07a"/>
<rect x="356.50" y="131.20" width="2.50" height="5.20" fill="#f3d224"/>
<rect x="360.50" y="131.20" width="4.00" height="5.20" fill="#f3d224"/>
<rect x="365.00" y="131.20" width="1.50" height="5.20" fill="#f3a12b"/>
<rect x="367.00" y="131.20" width="2.50" height="5.20" fill="#f7e07a"/>
<rect x="372.00" y="131.20" width="2.00" height="5.20" fill="#f5d860"/>
<rect x="376.00" y="131.20" width="3.00" height="5.20" fill="#f7e9a0"/>
<rect x="379.00" y="131.20" width="1.00" height="5.20" fill="#f3d224"/>
<rect x="385.00" y="131.20" width="1.00" height="5.20" fill="#f3d224"/>
<rect x="388.00" y="131.20" width="0.80" height="5.20" fill="#f3d224"/>
<rect x="410.50" y="131.20" width="6.50" height="5.20" fill="#f3d224"/>
<rect x="417.00" y="131.20" width="1.50" height="5.20" fill="#f3a12b"/>
<rect x="419.00" y="131.20" width="2.50" height="5.20" fill="#f3d224"/>
<rect x="421.50" y="131.20" width="2.50" height="5.20" fill="#f3a12b"/>
<rect x="425.00" y="131.20" width="2.50" height="5.20" fill="#f3d224"/>
<rect x="428.50" y="131.20" width="2.00" height="5.20" fill="#f3d224"/>
<rect x="437.00" y="131.20" width="1.00" height="5.20" fill="#f3d224"/>
<rect x="449.00" y="131.20" width="1.20" height="5.20" fill="#f3d224"/>
<rect x="452.00" y="131.20" width="1.00" height="5.20" fill="#f3d224"/>
<rect x="469.00" y="131.20" width="1.00" height="5.20" fill="#f3d224"/>
<rect x="481.00" y="131.20" width="1.50" height="5.20" fill="#f3a12b"/>
<rect x="483.00" y="131.20" width="1.20" height="5.20" fill="#f3d224"/>
<rect x="487.00" y="131.20" width="1.50" height="5.20" fill="#c77a1a"/>
<rect x="489.00" y="131.20" width="1.50" height="5.20" fill="#f3a12b"/>
<rect x="493.00" y="131.20" width="0.80" height="5.20" fill="#f3d224"/>
<rect x="506.00" y="131.20" width="0.80" height="5.20" fill="#f3d224"/>
<rect x="516.00" y="131.20" width="0.80" height="5.20" fill="#f3d224"/>
<text x="208.60" y="76.00" font-size="4.9" fill="#303030" textLength="178.80" lengthAdjust="spacingAndGlyphs" stroke="#303030" stroke-width="0.06">H3K4Me1 Mark (Often Found Near Regulatory Elements) on 7 cell lines from ENCODE</text>
<text x="209.10" y="95.00" font-size="4.9" fill="#303030" textLength="178.30" lengthAdjust="spacingAndGlyphs" stroke="#303030" stroke-width="0.06">H3K27Ac Mark (Often Found Near Regulatory Elements) on 7 cell lines from ENCODE</text>
<text x="219.20" y="114.00" font-size="4.9" fill="#303030" textLength="157.80" lengthAdjust="spacingAndGlyphs" stroke="#303030" stroke-width="0.06">H3K4Me3 Mark (Often Found Near Promoters) on 7 cell lines from ENCODE</text>
<text x="212.30" y="132.50" font-size="4.9" fill="#303030" textLength="169.70" lengthAdjust="spacingAndGlyphs" stroke="#303030" stroke-width="0.06">ENCODE Candidate Cis-Regulatory Elements (cCREs) combined from all cell types</text>
<rect x="329.25" y="17.00" width="2.50" height="120.50" fill="#2b0f10"/>
<rect x="380.85" y="17.00" width="2.50" height="120.50" fill="#2b0f10"/>
<rect x="409.25" y="17.00" width="2.50" height="120.50" fill="#2b0f10"/>
<text x="291.50" y="148.00" font-size="8.9" fill="#222" textLength="50.00" lengthAdjust="spacingAndGlyphs">rs147081110</text>
<text x="354.60" y="159.20" font-size="8.9" fill="#222" textLength="50.00" lengthAdjust="spacingAndGlyphs">rs146218834</text>
<text x="416.70" y="144.90" font-size="8.9" fill="#222" textLength="49.30" lengthAdjust="spacingAndGlyphs">rs139252015</text>
<text x="334.03" y="214.95" font-size="5.38" fill="#1f9a45" stroke="#1f9a45" stroke-width="0.5" textLength="5.41" lengthAdjust="spacingAndGlyphs">A</text>
<text x="333.57" y="216.40" font-size="1.74" fill="#d9233a" stroke="#d9233a" stroke-width="0.0" textLength="6.35" lengthAdjust="spacingAndGlyphs">T</text>
<text x="333.35" y="216.40" font-size="0.28" fill="#f2a324" stroke="#f2a324" stroke-width="0.0" textLength="7.01" lengthAdjust="spacingAndGlyphs">G</text>
<text x="339.43" y="215.99" font-size="1.41" fill="#f2a324" stroke="#f2a324" stroke-width="0.0" textLength="7.01" lengthAdjust="spacingAndGlyphs">G</text>
<text x="339.86" y="216.40" font-size="0.58" fill="#1f9a45" stroke="#1f9a45" stroke-width="0.0" textLength="5.91" lengthAdjust="spacingAndGlyphs">A</text>
<text x="345.73" y="216.20" font-size="1.45" fill="#d9233a" stroke="#d9233a" stroke-width="0.0" textLength="6.35" lengthAdjust="spacingAndGlyphs">T</text>
<text x="345.94" y="216.40" font-size="0.29" fill="#1f9a45" stroke="#1f9a45" stroke-width="0.0" textLength="5.91" lengthAdjust="spacingAndGlyphs">A</text>
<text x="351.88" y="211.94" font-size="11.58" fill="#f2a324" stroke="#f2a324" stroke-width="0.5" textLength="6.41" lengthAdjust="spacingAndGlyphs">G</text>
<text x="352.02" y="214.50" font-size="3.20" fill="#1f9a45" stroke="#1f9a45" stroke-width="0.0" textLength="5.91" lengthAdjust="spacingAndGlyphs">A</text>
<text x="351.81" y="216.40" font-size="2.76" fill="#d9233a" stroke="#d9233a" stroke-width="0.0" textLength="6.35" lengthAdjust="spacingAndGlyphs">T</text>
<text x="357.94" y="209.97" font-size="7.91" fill="#1d4f9f" stroke="#1d4f9f" stroke-width="0.5" textLength="6.13" lengthAdjust="spacingAndGlyphs">C</text>
<text x="358.35" y="216.15" font-size="8.14" fill="#1f9a45" stroke="#1f9a45" stroke-width="0.5" textLength="5.41" lengthAdjust="spacingAndGlyphs">A</text>
<text x="364.02" y="215.84" font-size="31.64" fill="#1d4f9f" stroke="#1d4f9f" stroke-width="0.5" textLength="6.13" lengthAdjust="spacingAndGlyphs">C</text>
<text x="370.51" y="216.15" font-size="39.10" fill="#1f9a45" stroke="#1f9a45" stroke-width="0.5" textLength="5.41" lengthAdjust="spacingAndGlyphs">A</text>
<text x="376.18" y="215.68" font-size="48.45" fill="#1d4f9f" stroke="#1d4f9f" stroke-width="0.5" textLength="6.13" lengthAdjust="spacingAndGlyphs">C</text>
<text x="382.28" y="215.72" font-size="44.35" fill="#f2a324" stroke="#f2a324" stroke-width="0.5" textLength="6.41" lengthAdjust="spacingAndGlyphs">G</text>
<text x="388.56" y="216.15" font-size="47.68" fill="#d9233a" stroke="#d9233a" stroke-width="0.5" textLength="5.81" lengthAdjust="spacingAndGlyphs">T</text>
<text x="394.42" y="215.82" font-size="33.76" fill="#1d4f9f" stroke="#1d4f9f" stroke-width="0.5" textLength="6.13" lengthAdjust="spacingAndGlyphs">C</text>
<text x="400.91" y="216.15" font-size="40.55" fill="#1f9a45" stroke="#1f9a45" stroke-width="0.5" textLength="5.41" lengthAdjust="spacingAndGlyphs">A</text>
<text x="406.80" y="216.15" font-size="9.16" fill="#d9233a" stroke="#d9233a" stroke-width="0.5" textLength="5.81" lengthAdjust="spacingAndGlyphs">T</text>
<text x="412.66" y="215.67" font-size="8.33" fill="#1d4f9f" stroke="#1d4f9f" stroke-width="0.5" textLength="6.13" lengthAdjust="spacingAndGlyphs">C</text>
<rect x="334.00" y="216.4" width="1.57" height="1.5" fill="#1f9a45" opacity="0.45"/>
<rect x="335.57" y="216.4" width="1.69" height="1.5" fill="#d9233a" opacity="0.45"/>
<rect x="337.26" y="216.4" width="1.07" height="1.5" fill="#1f9a45" opacity="0.45"/>
<rect x="338.33" y="216.4" width="1.15" height="1.5" fill="#1f9a45" opacity="0.45"/>
<rect x="340.08" y="216.4" width="1.51" height="1.5" fill="#1f9a45" opacity="0.45"/>
<rect x="341.59" y="216.4" width="0.84" height="1.5" fill="#d9233a" opacity="0.45"/>
<rect x="342.42" y="216.4" width="1.08" height="1.5" fill="#1f9a45" opacity="0.45"/>
<rect x="343.50" y="216.4" width="1.47" height="1.5" fill="#1d4f9f" opacity="0.45"/>
<rect x="344.98" y="216.4" width="0.58" height="1.5" fill="#f2a324" opacity="0.45"/>
<rect x="346.16" y="216.4" width="1.77" height="1.5" fill="#1f9a45" opacity="0.45"/>
<rect x="347.93" y="216.4" width="1.71" height="1.5" fill="#d9233a" opacity="0.45"/>
<rect x="349.64" y="216.4" width="1.64" height="1.5" fill="#f2a324" opacity="0.45"/>
<rect x="351.28" y="216.4" width="0.36" height="1.5" fill="#d9233a" opacity="0.45"/>
<rect x="352.24" y="216.4" width="1.95" height="1.5" fill="#f2a324" opacity="0.45"/>
<rect x="354.19" y="216.4" width="0.92" height="1.5" fill="#1d4f9f" opacity="0.45"/>
<rect x="355.11" y="216.4" width="0.92" height="1.5" fill="#f2a324" opacity="0.45"/>
<rect x="356.03" y="216.4" width="1.52" height="1.5" fill="#1f9a45" opacity="0.45"/>
<rect x="358.32" y="216.4" width="1.68" height="1.5" fill="#1f9a45" opacity="0.45"/>
<rect x="360.00" y="216.4" width="1.97" height="1.5" fill="#1d4f9f" opacity="0.45"/>
<rect x="361.96" y="216.4" width="0.89" height="1.5" fill="#f2a324" opacity="0.45"/>
<rect x="362.86" y="216.4" width="0.94" height="1.5" fill="#f2a324" opacity="0.45"/>
<rect x="364.40" y="216.4" width="1.49" height="1.5" fill="#1f9a45" opacity="0.45"/>
<rect x="365.89" y="216.4" width="0.85" height="1.5" fill="#d9233a" opacity="0.45"/>
<rect x="366.75" y="216.4" width="1.73" height="1.5" fill="#1f9a45" opacity="0.45"/>
<rect x="368.48" y="216.4" width="1.40" height="1.5" fill="#1f9a45" opacity="0.45"/>
<rect x="370.48" y="216.4" width="1.26" height="1.5" fill="#1d4f9f" opacity="0.45"/>
<rect x="371.74" y="216.4" width="1.56" height="1.5" fill="#f2a324" opacity="0.45"/>
<rect x="373.30" y="216.4" width="1.00" height="1.5" fill="#f2a324" opacity="0.45"/>
<rect x="374.29" y="216.4" width="1.05" height="1.5" fill="#f2a324" opacity="0.45"/>
<rect x="375.35" y="216.4" width="0.61" height="1.5" fill="#1f9a45" opacity="0.45"/>
<rect x="376.56" y="216.4" width="1.53" height="1.5" fill="#d9233a" opacity="0.45"/>
<rect x="378.09" y="216.4" width="1.44" height="1.5" fill="#d9233a" opacity="0.45"/>
<rect x="379.53" y="216.4" width="1.00" height="1.5" fill="#1d4f9f" opacity="0.45"/>
<rect x="380.53" y="216.4" width="1.12" height="1.5" fill="#d9233a" opacity="0.45"/>
<rect x="381.65" y="216.4" width="0.39" height="1.5" fill="#1f9a45" opacity="0.45"/>
<rect x="382.64" y="216.4" width="1.07" height="1.5" fill="#1f9a45" opacity="0.45"/>
<rect x="383.71" y="216.4" width="1.77" height="1.5" fill="#1d4f9f" opacity="0.45"/>
<rect x="385.48" y="216.4" width="1.12" height="1.5" fill="#d9233a" opacity="0.45"/>
<rect x="386.60" y="216.4" width="1.52" height="1.5" fill="#f2a324" opacity="0.45"/>
<rect x="388.72" y="216.4" width="1.06" height="1.5" fill="#1d4f9f" opacity="0.45"/>
<rect x="389.78" y="216.4" width="1.27" height="1.5" fill="#1d4f9f" opacity="0.45"/>
<rect x="391.05" y="216.4" width="0.97" height="1.5" fill="#d9233a" opacity="0.45"/>
<rect x="392.02" y="216.4" width="1.10" height="1.5" fill="#f2a324" opacity="0.45"/>
<rect x="393.12" y="216.4" width="1.08" height="1.5" fill="#1d4f9f" opacity="0.45"/>
<rect x="394.80" y="216.4" width="1.88" height="1.5" fill="#1d4f9f" opacity="0.45"/>
<rect x="396.68" y="216.4" width="1.23" height="1.5" fill="#d9233a" opacity="0.45"/>
<rect x="397.91" y="216.4" width="1.41" height="1.5" fill="#1f9a45" opacity="0.45"/>
<rect x="399.32" y="216.4" width="0.96" height="1.5" fill="#1f9a45" opacity="0.45"/>
<rect x="400.88" y="216.4" width="0.98" height="1.5" fill="#d9233a" opacity="0.45"/>
<rect x="401.86" y="216.4" width="1.75" height="1.5" fill="#1d4f9f" opacity="0.45"/>
<rect x="403.61" y="216.4" width="1.52" height="1.5" fill="#1d4f9f" opacity="0.45"/>
<rect x="405.13" y="216.4" width="1.23" height="1.5" fill="#1d4f9f" opacity="0.45"/>
<rect x="406.96" y="216.4" width="1.43" height="1.5" fill="#1f9a45" opacity="0.45"/>
<rect x="408.39" y="216.4" width="1.62" height="1.5" fill="#1f9a45" opacity="0.45"/>
<rect x="410.01" y="216.4" width="1.62" height="1.5" fill="#f2a324" opacity="0.45"/>
<rect x="411.63" y="216.4" width="0.81" height="1.5" fill="#f2a324" opacity="0.45"/>
<rect x="413.04" y="216.4" width="0.93" height="1.5" fill="#1d4f9f" opacity="0.45"/>
<rect x="413.97" y="216.4" width="0.99" height="1.5" fill="#1f9a45" opacity="0.45"/>
<rect x="414.96" y="216.4" width="1.94" height="1.5" fill="#f2a324" opacity="0.45"/>
<rect x="416.91" y="216.4" width="1.61" height="1.5" fill="#d9233a" opacity="0.45"/>
<rect x="376.2" y="181.4" width="6.3" height="54.0" fill="none" stroke="#d2343a" stroke-width="0.9"/>
<text x="325.00" y="226.30" font-size="5.4" fill="#4a4a4a" textLength="7.40" lengthAdjust="spacingAndGlyphs">Ref</text>
<text x="325.00" y="233.10" font-size="5.4" fill="#4a4a4a" textLength="7.40" lengthAdjust="spacingAndGlyphs">ALT</text>
<text x="334.80" y="226.30" font-size="5.5" fill="#4a4a4a" textLength="3.80" lengthAdjust="spacingAndGlyphs">A</text>
<text x="340.88" y="226.30" font-size="5.5" fill="#4a4a4a" textLength="3.80" lengthAdjust="spacingAndGlyphs">G</text>
<text x="346.96" y="226.30" font-size="5.5" fill="#4a4a4a" textLength="3.80" lengthAdjust="spacingAndGlyphs">G</text>
<text x="353.04" y="226.30" font-size="5.5" fill="#4a4a4a" textLength="3.80" lengthAdjust="spacingAndGlyphs">C</text>
<text x="359.12" y="226.30" font-size="5.5" fill="#4a4a4a" textLength="3.80" lengthAdjust="spacingAndGlyphs">C</text>
<text x="365.20" y="226.30" font-size="5.5" fill="#4a4a4a" textLength="3.80" lengthAdjust="spacingAndGlyphs">C</text>
<text x="371.28" y="226.30" font-size="5.5" fill="#4a4a4a" textLength="3.80" lengthAdjust="spacingAndGlyphs">A</text>
<text x="377.36" y="226.30" font-size="5.5" fill="#4a4a4a" textLength="3.80" lengthAdjust="spacingAndGlyphs">C</text>
<text x="383.44" y="226.30" font-size="5.5" fill="#4a4a4a" textLength="3.80" lengthAdjust="spacingAndGlyphs">G</text>
<text x="389.52" y="226.30" font-size="5.5" fill="#4a4a4a" textLength="3.80" lengthAdjust="spacingAndGlyphs">T</text>
<text x="395.60" y="226.30" font-size="5.5" fill="#4a4a4a" textLength="3.80" lengthAdjust="spacingAndGlyphs">C</text>
<text x="401.68" y="226.30" font-size="5.5" fill="#4a4a4a" textLength="3.80" lengthAdjust="spacingAndGlyphs">A</text>
<text x="407.76" y="226.30" font-size="5.5" fill="#4a4a4a" textLength="3.80" lengthAdjust="spacingAndGlyphs">T</text>
<text x="413.84" y="226.30" font-size="5.5" fill="#4a4a4a" textLength="3.80" lengthAdjust="spacingAndGlyphs">G</text>
<text x="371.28" y="233.10" font-size="5.5" fill="#4a4a4a" textLength="3.80" lengthAdjust="spacingAndGlyphs">A</text>
<text x="377.36" y="233.10" font-size="5.5" fill="#e08080" textLength="3.80" lengthAdjust="spacingAndGlyphs">T</text>
<text x="383.44" y="233.10" font-size="5.5" fill="#4a4a4a" textLength="3.80" lengthAdjust="spacingAndGlyphs">G</text>
<text x="389.52" y="233.10" font-size="5.5" fill="#4a4a4a" textLength="3.80" lengthAdjust="spacingAndGlyphs">T</text>
<text x="395.60" y="233.10" font-size="5.5" fill="#4a4a4a" textLength="3.80" lengthAdjust="spacingAndGlyphs">C</text>
<text x="427.10" y="208.30" font-size="4.6" fill="#4a4a4a" textLength="10.50" lengthAdjust="spacingAndGlyphs">Fimo</text>
<text x="423.80" y="215.30" font-size="4.6" fill="#4a4a4a" textLength="15.20" lengthAdjust="spacingAndGlyphs">q-value</text>
<text x="425.20" y="225.70" font-size="4.8" fill="#4a4a4a" textLength="13.80" lengthAdjust="spacingAndGlyphs">0.0017</text>
<text x="425.20" y="232.40" font-size="4.8" fill="#4a4a4a" textLength="14.20" lengthAdjust="spacingAndGlyphs">0.0558</text>
<text x="369.00" y="255.90" font-size="8.9" fill="#222" textLength="19.80" lengthAdjust="spacingAndGlyphs">XBP1</text>
<text x="0.50" y="284.40" font-size="12.0" fill="#111" font-weight="bold" textLength="7.90" lengthAdjust="spacingAndGlyphs">B</text>
<line x1="66.30" y1="288.50" x2="66.30" y2="414.00" stroke="#ebebeb" stroke-width="0.8"/>
<line x1="71.17" y1="288.50" x2="71.17" y2="414.00" stroke="#ebebeb" stroke-width="0.8"/>
<line x1="76.04" y1="288.50" x2="76.04" y2="414.00" stroke="#ebebeb" stroke-width="0.8"/>
<line x1="80.91" y1="288.50" x2="80.91" y2="414.00" stroke="#ebebeb" stroke-width="0.8"/>
<line x1="85.78" y1="288.50" x2="85.78" y2="414.00" stroke="#ebebeb" stroke-width="0.8"/>
<line x1="90.65" y1="288.50" x2="90.65" y2="414.00" stroke="#ebebeb" stroke-width="0.8"/>
<line x1="95.52" y1="288.50" x2="95.52" y2="414.00" stroke="#ebebeb" stroke-width="0.8"/>
<line x1="100.39" y1="288.50" x2="100.39" y2="414.00" stroke="#ebebeb" stroke-width="0.8"/>
<line x1="105.26" y1="288.50" x2="105.26" y2="414.00" stroke="#ebebeb" stroke-width="0.8"/>
<line x1="110.13" y1="288.50" x2="110.13" y2="414.00" stroke="#ebebeb" stroke-width="0.8"/>
<line x1="115.00" y1="288.50" x2="115.00" y2="414.00" stroke="#ebebeb" stroke-width="0.8"/>
<line x1="119.87" y1="288.50" x2="119.87" y2="414.00" stroke="#ebebeb" stroke-width="0.8"/>
<line x1="124.74" y1="288.50" x2="124.74" y2="414.00" stroke="#ebebeb" stroke-width="0.8"/>
<line x1="129.61" y1="288.50" x2="129.61" y2="414.00" stroke="#ebebeb" stroke-width="0.8"/>
<line x1="134.48" y1="288.50" x2="134.48" y2="414.00" stroke="#ebebeb" stroke-width="0.8"/>
<line x1="139.35" y1="288.50" x2="139.35" y2="414.00" stroke="#ebebeb" stroke-width="0.8"/>
<line x1="144.22" y1="288.50" x2="144.22" y2="414.00" stroke="#ebebeb" stroke-width="0.8"/>
<line x1="149.09" y1="288.50" x2="149.09" y2="414.00" stroke="#ebebeb" stroke-width="0.8"/>
<line x1="153.96" y1="288.50" x2="153.96" y2="414.00" stroke="#ebebeb" stroke-width="0.8"/>
<line x1="158.83" y1="288.50" x2="158.83" y2="414.00" stroke="#ebebeb" stroke-width="0.8"/>
<line x1="163.70" y1="288.50" x2="163.70" y2="414.00" stroke="#ebebeb" stroke-width="0.8"/>
<line x1="168.57" y1="288.50" x2="168.57" y2="414.00" stroke="#ebebeb" stroke-width="0.8"/>
<line x1="173.44" y1="288.50" x2="173.44" y2="414.00" stroke="#ebebeb" stroke-width="0.8"/>
<line x1="178.31" y1="288.50" x2="178.31" y2="414.00" stroke="#ebebeb" stroke-width="0.8"/>
<line x1="183.18" y1="288.50" x2="183.18" y2="414.00" stroke="#ebebeb" stroke-width="0.8"/>
<line x1="188.05" y1="288.50" x2="188.05" y2="414.00" stroke="#ebebeb" stroke-width="0.8"/>
<line x1="192.92" y1="288.50" x2="192.92" y2="414.00" stroke="#ebebeb" stroke-width="0.8"/>
<line x1="197.79" y1="288.50" x2="197.79" y2="414.00" stroke="#ebebeb" stroke-width="0.8"/>
<line x1="202.66" y1="288.50" x2="202.66" y2="414.00" stroke="#ebebeb" stroke-width="0.8"/>
<line x1="207.53" y1="288.50" x2="207.53" y2="414.00" stroke="#ebebeb" stroke-width="0.8"/>
<line x1="212.40" y1="288.50" x2="212.40" y2="414.00" stroke="#ebebeb" stroke-width="0.8"/>
<line x1="217.27" y1="288.50" x2="217.27" y2="414.00" stroke="#ebebeb" stroke-width="0.8"/>
<line x1="222.14" y1="288.50" x2="222.14" y2="414.00" stroke="#ebebeb" stroke-width="0.8"/>
<line x1="227.01" y1="288.50" x2="227.01" y2="414.00" stroke="#ebebeb" stroke-width="0.8"/>
<line x1="231.88" y1="288.50" x2="231.88" y2="414.00" stroke="#ebebeb" stroke-width="0.8"/>
<line x1="236.75" y1="288.50" x2="236.75" y2="414.00" stroke="#ebebeb" stroke-width="0.8"/>
<line x1="241.62" y1="288.50" x2="241.62" y2="414.00" stroke="#ebebeb" stroke-width="0.8"/>
<line x1="246.49" y1="288.50" x2="246.49" y2="414.00" stroke="#ebebeb" stroke-width="0.8"/>
<line x1="251.36" y1="288.50" x2="251.36" y2="414.00" stroke="#ebebeb" stroke-width="0.8"/>
<line x1="256.23" y1="288.50" x2="256.23" y2="414.00" stroke="#ebebeb" stroke-width="0.8"/>
<line x1="261.10" y1="288.50" x2="261.10" y2="414.00" stroke="#ebebeb" stroke-width="0.8"/>
<line x1="265.97" y1="288.50" x2="265.97" y2="414.00" stroke="#ebebeb" stroke-width="0.8"/>
<line x1="270.84" y1="288.50" x2="270.84" y2="414.00" stroke="#ebebeb" stroke-width="0.8"/>
<line x1="275.71" y1="288.50" x2="275.71" y2="414.00" stroke="#ebebeb" stroke-width="0.8"/>
<line x1="280.58" y1="288.50" x2="280.58" y2="414.00" stroke="#ebebeb" stroke-width="0.8"/>
<line x1="285.45" y1="288.50" x2="285.45" y2="414.00" stroke="#ebebeb" stroke-width="0.8"/>
<line x1="290.32" y1="288.50" x2="290.32" y2="414.00" stroke="#ebebeb" stroke-width="0.8"/>
<line x1="295.19" y1="288.50" x2="295.19" y2="414.00" stroke="#ebebeb" stroke-width="0.8"/>
<line x1="300.06" y1="288.50" x2="300.06" y2="414.00" stroke="#ebebeb" stroke-width="0.8"/>
<line x1="304.93" y1="288.50" x2="304.93" y2="414.00" stroke="#ebebeb" stroke-width="0.8"/>
<line x1="309.80" y1="288.50" x2="309.80" y2="414.00" stroke="#ebebeb" stroke-width="0.8"/>
<line x1="314.67" y1="288.50" x2="314.67" y2="414.00" stroke="#ebebeb" stroke-width="0.8"/>
<line x1="319.54" y1="288.50" x2="319.54" y2="414.00" stroke="#ebebeb" stroke-width="0.8"/>
<line x1="324.41" y1="288.50" x2="324.41" y2="414.00" stroke="#ebebeb" stroke-width="0.8"/>
<line x1="329.28" y1="288.50" x2="329.28" y2="414.00" stroke="#ebebeb" stroke-width="0.8"/>
<line x1="334.15" y1="288.50" x2="334.15" y2="414.00" stroke="#ebebeb" stroke-width="0.8"/>
<line x1="339.02" y1="288.50" x2="339.02" y2="414.00" stroke="#ebebeb" stroke-width="0.8"/>
<line x1="343.89" y1="288.50" x2="343.89" y2="414.00" stroke="#ebebeb" stroke-width="0.8"/>
<line x1="348.76" y1="288.50" x2="348.76" y2="414.00" stroke="#ebebeb" stroke-width="0.8"/>
<line x1="353.63" y1="288.50" x2="353.63" y2="414.00" stroke="#ebebeb" stroke-width="0.8"/>
<line x1="358.50" y1="288.50" x2="358.50" y2="414.00" stroke="#ebebeb" stroke-width="0.8"/>
<line x1="363.37" y1="288.50" x2="363.37" y2="414.00" stroke="#ebebeb" stroke-width="0.8"/>
<line x1="368.24" y1="288.50" x2="368.24" y2="414.00" stroke="#ebebeb" stroke-width="0.8"/>
<line x1="373.11" y1="288.50" x2="373.11" y2="414.00" stroke="#ebebeb" stroke-width="0.8"/>
<line x1="377.98" y1="288.50" x2="377.98" y2="414.00" stroke="#ebebeb" stroke-width="0.8"/>
<line x1="382.85" y1="288.50" x2="382.85" y2="414.00" stroke="#ebebeb" stroke-width="0.8"/>
<line x1="387.72" y1="288.50" x2="387.72" y2="414.00" stroke="#ebebeb" stroke-width="0.8"/>
<line x1="392.59" y1="288.50" x2="392.59" y2="414.00" stroke="#ebebeb" stroke-width="0.8"/>
<line x1="397.46" y1="288.50" x2="397.46" y2="414.00" stroke="#ebebeb" stroke-width="0.8"/>
<line x1="402.33" y1="288.50" x2="402.33" y2="414.00" stroke="#ebebeb" stroke-width="0.8"/>
<line x1="407.20" y1="288.50" x2="407.20" y2="414.00" stroke="#ebebeb" stroke-width="0.8"/>
<line x1="412.07" y1="288.50" x2="412.07" y2="414.00" stroke="#ebebeb" stroke-width="0.8"/>
<line x1="416.94" y1="288.50" x2="416.94" y2="414.00" stroke="#ebebeb" stroke-width="0.8"/>
<line x1="421.81" y1="288.50" x2="421.81" y2="414.00" stroke="#ebebeb" stroke-width="0.8"/>
<line x1="426.68" y1="288.50" x2="426.68" y2="414.00" stroke="#ebebeb" stroke-width="0.8"/>
<line x1="431.55" y1="288.50" x2="431.55" y2="414.00" stroke="#ebebeb" stroke-width="0.8"/>
<line x1="436.42" y1="288.50" x2="436.42" y2="414.00" stroke="#ebebeb" stroke-width="0.8"/>
<line x1="441.29" y1="288.50" x2="441.29" y2="414.00" stroke="#ebebeb" stroke-width="0.8"/>
<line x1="446.16" y1="288.50" x2="446.16" y2="414.00" stroke="#ebebeb" stroke-width="0.8"/>
<line x1="451.03" y1="288.50" x2="451.03" y2="414.00" stroke="#ebebeb" stroke-width="0.8"/>
<line x1="455.90" y1="288.50" x2="455.90" y2="414.00" stroke="#ebebeb" stroke-width="0.8"/>
<line x1="460.77" y1="288.50" x2="460.77" y2="414.00" stroke="#ebebeb" stroke-width="0.8"/>
<line x1="465.64" y1="288.50" x2="465.64" y2="414.00" stroke="#ebebeb" stroke-width="0.8"/>
<line x1="470.51" y1="288.50" x2="470.51" y2="414.00" stroke="#ebebeb" stroke-width="0.8"/>
<line x1="475.38" y1="288.50" x2="475.38" y2="414.00" stroke="#ebebeb" stroke-width="0.8"/>
<line x1="480.25" y1="288.50" x2="480.25" y2="414.00" stroke="#ebebeb" stroke-width="0.8"/>
<line x1="485.12" y1="288.50" x2="485.12" y2="414.00" stroke="#ebebeb" stroke-width="0.8"/>
<line x1="489.99" y1="288.50" x2="489.99" y2="414.00" stroke="#ebebeb" stroke-width="0.8"/>
<line x1="494.86" y1="288.50" x2="494.86" y2="414.00" stroke="#ebebeb" stroke-width="0.8"/>
<line x1="499.73" y1="288.50" x2="499.73" y2="414.00" stroke="#ebebeb" stroke-width="0.8"/>
<line x1="504.60" y1="288.50" x2="504.60" y2="414.00" stroke="#ebebeb" stroke-width="0.8"/>
<line x1="509.47" y1="288.50" x2="509.47" y2="414.00" stroke="#ebebeb" stroke-width="0.8"/>
<line x1="66.20" y1="288.50" x2="66.20" y2="414.00" stroke="#f5d8de" stroke-width="0.8"/>
<text x="115.00" y="299.80" font-size="4.4" fill="#555" textLength="1.40" lengthAdjust="spacingAndGlyphs">|</text>
<text x="204.50" y="295.60" font-size="5.0" fill="#3a3a3a" textLength="11.00" lengthAdjust="spacingAndGlyphs">10 kb</text>
<line x1="221.00" y1="293.60" x2="355.20" y2="293.60" stroke="#444" stroke-width="0.9"/>
<line x1="221.20" y1="291.80" x2="221.20" y2="295.60" stroke="#444" stroke-width="0.8"/>
<line x1="355.00" y1="291.80" x2="355.00" y2="295.60" stroke="#444" stroke-width="0.8"/>
<text x="358.70" y="295.30" font-size="5.0" fill="#3a3a3a" textLength="7.80" lengthAdjust="spacingAndGlyphs">hg38</text>
<text x="161.00" y="300.20" font-size="5.2" fill="#3a3a3a" textLength="19.80" lengthAdjust="spacingAndGlyphs">8,055,000</text>
<line x1="181.80" y1="296.20" x2="181.80" y2="299.80" stroke="#555" stroke-width="0.5"/>
<text x="227.90" y="300.20" font-size="5.2" fill="#3a3a3a" textLength="19.80" lengthAdjust="spacingAndGlyphs">8,060,000</text>
<line x1="248.70" y1="296.20" x2="248.70" y2="299.80" stroke="#555" stroke-width="0.5"/>
<text x="294.80" y="300.20" font-size="5.2" fill="#3a3a3a" textLength="19.80" lengthAdjust="spacingAndGlyphs">8,065,000</text>
<line x1="315.60" y1="296.20" x2="315.60" y2="299.80" stroke="#555" stroke-width="0.5"/>
<text x="361.70" y="300.20" font-size="5.2" fill="#3a3a3a" textLength="19.80" lengthAdjust="spacingAndGlyphs">8,070,000</text>
<line x1="382.50" y1="296.20" x2="382.50" y2="299.80" stroke="#555" stroke-width="0.5"/>
<text x="428.60" y="300.20" font-size="5.2" fill="#3a3a3a" textLength="19.80" lengthAdjust="spacingAndGlyphs">8,075,000</text>
<line x1="449.40" y1="296.20" x2="449.40" y2="299.80" stroke="#555" stroke-width="0.5"/>
<text x="227.50" y="304.40" font-size="4.8" fill="#4848a8" textLength="130.00" lengthAdjust="spacingAndGlyphs">Reference Assembly Alternate Haplotype Sequence Alignments</text>
<text x="252.50" y="311.80" font-size="4.8" fill="#3a3a3a" textLength="76.30" lengthAdjust="spacingAndGlyphs">GENCODE V38 (6 items filtered out)</text>
<rect x="121.10" y="312.50" width="15.10" height="2.00" fill="#1f7a3a"/>
<line x1="136.20" y1="313.50" x2="148.50" y2="313.50" stroke="#7dbb86" stroke-width="1.2"/>
<rect x="148.50" y="312.50" width="13.00" height="2.00" fill="#1f7a3a"/>
<rect x="122.00" y="316.80" width="4.20" height="2.00" fill="#1f7a3a"/>
<line x1="126.20" y1="317.80" x2="131.50" y2="317.80" stroke="#7dbb86" stroke-width="1.2"/>
<rect x="131.50" y="316.80" width="4.70" height="2.00" fill="#1f7a3a"/>
<line x1="136.2" y1="317.8" x2="148.5" y2="317.8" stroke="#1f7a3a" stroke-width="1.1" stroke-dasharray="0.8 0.7"/>
<line x1="136.2" y1="321.9" x2="156.9" y2="321.9" stroke="#1f7a3a" stroke-width="1.1" stroke-dasharray="0.8 0.7"/>
<rect x="148.50" y="320.80" width="3.80" height="2.20" fill="#1f7a3a"/>
<text x="163.50" y="315.20" font-size="4.6" fill="#333" textLength="14.00" lengthAdjust="spacingAndGlyphs">GATA3</text>
<text x="163.50" y="319.50" font-size="4.6" fill="#333" textLength="14.00" lengthAdjust="spacingAndGlyphs">GATA3</text>
<line x1="178.20" y1="313.80" x2="432.50" y2="313.80" stroke="#23237a" stroke-width="0.6"/>
<line x1="178.5" y1="313.8" x2="432.5" y2="313.8" stroke="#23237a" stroke-width="1.5" stroke-dasharray="0.9 0.9"/>
<line x1="178.20" y1="317.40" x2="452.50" y2="317.40" stroke="#23237a" stroke-width="0.6"/>
<line x1="178.5" y1="317.4" x2="452.5" y2="317.4" stroke="#23237a" stroke-width="1.5" stroke-dasharray="0.9 0.9"/>
<line x1="178.00" y1="312.30" x2="178.00" y2="315.20" stroke="#23237a" stroke-width="0.5"/>
<line x1="178.00" y1="316.00" x2="178.00" y2="318.80" stroke="#23237a" stroke-width="0.5"/>
<rect x="186.50" y="312.60" width="5.00" height="2.40" fill="#23237a"/>
<rect x="186.50" y="316.20" width="5.00" height="2.40" fill="#23237a"/>
<rect x="191.20" y="310.80" width="3.00" height="9.00" fill="#23237a"/>
<rect x="226.50" y="312.00" width="6.70" height="7.20" fill="#23237a"/>
<rect x="303.00" y="311.80" width="1.60" height="7.40" fill="#23237a"/>
<rect x="376.80" y="311.80" width="1.60" height="7.40" fill="#23237a"/>
<rect x="432.50" y="311.60" width="3.50" height="8.20" fill="#23237a"/>
<rect x="436.00" y="312.60" width="12.80" height="2.40" fill="#23237a"/>
<rect x="436.00" y="316.20" width="16.50" height="2.40" fill="#23237a"/>
<text x="223.00" y="328.20" font-size="4.9" fill="#303030" textLength="140.20" lengthAdjust="spacingAndGlyphs" stroke="#303030" stroke-width="0.06">DNase I Hypersensitivity Signal Colored by Similarity from ENCODE</text>
<text x="56.90" y="325.70" font-size="4.6" fill="#555555" textLength="5.40" lengthAdjust="spacingAndGlyphs">50</text>
<line x1="63.00" y1="325.40" x2="66.20" y2="325.40" stroke="#999" stroke-width="0.6"/>
<text x="17.50" y="341.20" font-size="6.7" fill="#3a3a3a" textLength="31.30" lengthAdjust="spacingAndGlyphs" stroke="#3a3a3a" stroke-width="0.12">DNase signal</text>
<text x="61.20" y="354.30" font-size="4.6" fill="#555555" textLength="2.40" lengthAdjust="spacingAndGlyphs">0</text>
<text x="56.90" y="358.80" font-size="4.6" fill="#555555" textLength="5.40" lengthAdjust="spacingAndGlyphs">50</text>
<line x1="63.00" y1="358.50" x2="66.20" y2="358.50" stroke="#999" stroke-width="0.6"/>
<text x="4.50" y="365.40" font-size="6.7" fill="#3a3a3a" textLength="45.50" lengthAdjust="spacingAndGlyphs" stroke="#3a3a3a" stroke-width="0.12">Layered H3K4Me1</text>
<text x="61.20" y="371.30" font-size="4.6" fill="#555555" textLength="2.40" lengthAdjust="spacingAndGlyphs">0</text>
<text x="56.90" y="378.00" font-size="4.6" fill="#555555" textLength="5.40" lengthAdjust="spacingAndGlyphs">50</text>
<line x1="63.00" y1="377.70" x2="66.20" y2="377.70" stroke="#999" stroke-width="0.6"/>
<text x="7.50" y="383.70" font-size="6.7" fill="#3a3a3a" textLength="42.50" lengthAdjust="spacingAndGlyphs" stroke="#3a3a3a" stroke-width="0.12">Layered H3K27Ac</text>
<text x="61.20" y="389.30" font-size="4.6" fill="#555555" textLength="2.40" lengthAdjust="spacingAndGlyphs">0</text>
<text x="56.90" y="394.80" font-size="4.6" fill="#555555" textLength="5.40" lengthAdjust="spacingAndGlyphs">50</text>
<line x1="63.00" y1="394.50" x2="66.20" y2="394.50" stroke="#999" stroke-width="0.6"/>
<text x="4.50" y="401.20" font-size="6.7" fill="#3a3a3a" textLength="45.50" lengthAdjust="spacingAndGlyphs" stroke="#3a3a3a" stroke-width="0.12">Layered H3K4Me3</text>
<text x="61.20" y="406.80" font-size="4.6" fill="#555555" textLength="2.40" lengthAdjust="spacingAndGlyphs">0</text>
<text x="31.00" y="412.30" font-size="4.6" fill="#3a3a3a" textLength="34.50" lengthAdjust="spacingAndGlyphs">ENCODE cCREs</text>
<path d="M67.0,354.4L67.0,354.32L67.5,354.06L68.0,354.08L68.5,354.16L69.0,354.29L69.5,354.00L70.0,354.00L70.5,354.14L71.0,354.15L71.5,354.28L72.0,354.40L72.5,354.21L73.0,354.11L73.5,354.37L74.0,354.00L74.5,354.28L75.0,354.28L75.5,354.38L76.0,353.90L76.5,354.03L77.0,353.96L77.5,354.09L78.0,354.38L78.5,354.24L79.0,354.15L79.5,354.34L80.0,353.92L80.5,354.22L81.0,354.32L81.5,353.99L82.0,354.34L82.5,353.94L83.0,354.17L83.5,354.12L84.0,354.23L84.5,354.16L85.0,354.31L85.5,354.38L86.0,353.97L86.5,354.28L87.0,354.01L87.5,354.30L88.0,353.92L88.5,353.95L89.0,353.85L89.5,353.44L90.0,353.06L90.5,352.90L91.0,353.06L91.5,353.44L92.0,353.85L92.5,354.15L93.0,353.94L93.5,353.96L94.0,354.20L94.5,354.22L95.0,354.17L95.5,354.21L96.0,353.90L96.5,354.21L97.0,354.35L97.5,354.21L98.0,353.80L98.5,352.94L99.0,351.64L99.5,350.35L100.0,349.80L100.5,350.35L101.0,351.64L101.5,352.84L102.0,352.61L102.5,352.45L103.0,352.40L103.5,352.45L104.0,352.61L104.5,352.84L105.0,353.12L105.5,353.40L106.0,353.66L106.5,353.89L107.0,354.06L107.5,353.99L108.0,354.01L108.5,354.21L109.0,354.06L109.5,354.06L110.0,353.95L110.5,353.92L111.0,354.20L111.5,353.91L112.0,353.92L112.5,354.10L113.0,353.96L113.5,354.15L114.0,354.21L114.5,354.28L115.0,353.96L115.5,354.32L116.0,354.37L116.5,354.00L117.0,354.01L117.5,354.16L118.0,353.98L118.5,354.37L119.0,354.27L119.5,354.26L120.0,354.19L120.5,354.31L121.0,354.37L121.5,354.23L122.0,353.95L122.5,353.91L123.0,354.03L123.5,354.16L124.0,354.27L124.5,353.92L125.0,354.14L125.5,354.04L126.0,354.39L126.5,354.29L127.0,353.98L127.5,354.00L128.0,353.96L128.5,354.10L129.0,354.19L129.5,354.11L130.0,353.98L130.5,354.25L131.0,354.13L131.5,354.26L132.0,354.02L132.5,354.39L133.0,354.06L133.5,353.92L134.0,354.39L134.5,354.10L135.0,354.08L135.5,353.97L136.0,354.11L136.5,354.27L137.0,354.20L137.5,353.92L138.0,353.95L138.5,354.33L139.0,354.35L139.5,354.35L140.0,354.39L140.5,354.18L141.0,354.33L141.5,353.97L142.0,354.07L142.5,354.34L143.0,354.13L143.5,354.24L144.0,354.15L144.5,354.29L145.0,354.32L145.5,354.31L146.0,354.21L146.5,354.05L147.0,354.12L147.5,354.38L148.0,354.04L148.5,353.96L149.0,354.01L149.5,354.00L150.0,354.40L150.5,354.17L151.0,354.37L151.5,354.02L152.0,354.31L152.5,354.04L153.0,354.27L153.5,354.05L154.0,354.24L154.5,354.38L155.0,354.21L155.5,354.25L156.0,353.95L156.5,354.25L157.0,354.15L157.5,354.13L158.0,353.93L158.5,354.35L159.0,354.10L159.5,354.12L160.0,353.54L160.5,352.27L161.0,350.15L161.5,347.63L162.0,345.75L162.5,345.56L163.0,347.16L163.5,349.65L164.0,351.91L164.5,353.35L165.0,354.05L165.5,353.90L166.0,353.96L166.5,353.37L167.0,352.45L167.5,351.34L168.0,350.45L168.5,350.22L169.0,350.75L169.5,351.78L170.0,352.85L170.5,353.65L171.0,354.10L171.5,354.21L172.0,354.20L172.5,354.29L173.0,354.38L173.5,354.18L174.0,354.28L174.5,354.05L175.0,353.99L175.5,353.98L176.0,353.15L176.5,351.61L177.0,349.79L177.5,348.73L178.0,349.21L178.5,350.87L179.0,352.61L179.5,353.73L180.0,354.15L180.5,354.04L181.0,353.95L181.5,353.89L182.0,353.26L182.5,352.61L183.0,352.41L183.5,352.84L184.0,353.54L184.5,354.06L185.0,354.28L185.5,353.94L186.0,354.21L186.5,354.09L187.0,353.99L187.5,353.92L188.0,353.91L188.5,354.40L189.0,354.24L189.5,354.24L190.0,354.20L190.5,354.29L191.0,353.96L191.5,353.10L192.0,351.71L192.5,350.45L193.0,350.32L193.5,350.23L194.0,351.13L194.5,352.59L195.0,353.69L195.5,354.20L196.0,354.23L196.5,354.08L197.0,354.06L197.5,354.27L198.0,353.92L198.5,354.24L199.0,354.27L199.5,353.98L200.0,354.32L200.5,354.06L201.0,354.30L201.5,354.10L202.0,354.26L202.5,354.21L203.0,353.93L203.5,354.17L204.0,354.18L204.5,354.09L205.0,354.26L205.5,354.31L206.0,354.21L206.5,354.15L207.0,353.91L207.5,353.51L208.0,352.90L208.5,352.05L209.0,350.97L209.5,349.76L210.0,348.56L210.5,347.58L211.0,347.00L211.5,346.94L212.0,347.42L212.5,348.34L213.0,349.51L213.5,350.73L214.0,351.85L214.5,352.75L215.0,353.41L215.5,353.85L216.0,354.11L216.5,354.26L217.0,354.00L217.5,353.99L218.0,354.14L218.5,354.38L219.0,354.31L219.5,354.20L220.0,354.12L220.5,354.29L221.0,354.00L221.5,353.98L222.0,353.94L222.5,353.96L223.0,354.39L223.5,354.11L224.0,354.36L224.5,353.95L225.0,354.03L225.5,354.02L226.0,354.31L226.5,354.37L227.0,353.99L227.5,354.10L228.0,354.09L228.5,354.16L229.0,354.00L229.5,354.23L230.0,354.27L230.5,354.22L231.0,354.25L231.5,354.09L232.0,353.95L232.5,354.36L233.0,354.37L233.5,354.14L234.0,354.06L234.5,354.31L235.0,354.27L235.5,354.37L236.0,354.38L236.5,354.15L237.0,354.06L237.5,354.07L238.0,354.32L238.5,354.35L239.0,353.93L239.5,354.13L240.0,354.20L240.5,354.05L241.0,354.04L241.5,354.14L242.0,354.36L242.5,353.99L243.0,354.29L243.5,354.38L244.0,354.22L244.5,354.13L245.0,354.09L245.5,354.31L246.0,354.05L246.5,354.15L247.0,354.32L247.5,353.97L248.0,354.00L248.5,353.95L249.0,354.06L249.5,353.35L250.0,352.60L250.5,352.47L251.0,351.60L251.5,350.60L252.0,349.54L252.5,344.69L253.0,341.77L253.5,346.63L254.0,351.20L254.5,352.20L255.0,352.60L255.5,352.60L256.0,352.15L256.5,350.62L257.0,349.90L257.5,350.62L258.0,352.15L258.5,352.60L259.0,352.60L259.5,352.60L260.0,352.60L260.5,352.60L261.0,351.52L261.5,349.92L262.0,349.20L262.5,349.92L263.0,351.52L263.5,352.60L264.0,350.91L264.5,348.97L265.0,348.10L265.5,348.97L266.0,350.91L266.5,352.60L267.0,352.60L267.5,352.60L268.0,352.60L268.5,353.35L269.0,354.10L269.5,353.98L270.0,353.66L270.5,353.26L271.0,352.84L271.5,352.52L272.0,352.40L272.5,352.52L273.0,352.84L273.5,353.26L274.0,353.66L274.5,353.98L275.0,354.07L275.5,354.27L276.0,354.18L276.5,354.21L277.0,354.16L277.5,354.27L278.0,354.13L278.5,354.17L279.0,354.38L279.5,353.99L280.0,354.11L280.5,354.00L281.0,354.03L281.5,354.03L282.0,353.90L282.5,354.21L283.0,354.20L283.5,354.40L284.0,354.07L284.5,354.11L285.0,354.11L285.5,353.90L286.0,354.30L286.5,354.29L287.0,354.03L287.5,353.99L288.0,354.16L288.5,354.37L289.0,354.21L289.5,353.99L290.0,354.15L290.5,354.17L291.0,354.21L291.5,354.09L292.0,354.10L292.5,354.05L293.0,353.97L293.5,354.02L294.0,354.21L294.5,354.27L295.0,354.01L295.5,354.00L296.0,353.94L296.5,354.30L297.0,353.98L297.5,353.95L298.0,354.36L298.5,354.25L299.0,354.08L299.5,354.33L300.0,353.98L300.5,354.27L301.0,354.06L301.5,354.25L302.0,354.29L302.5,354.30L303.0,354.15L303.5,354.04L304.0,354.29L304.5,354.06L305.0,354.23L305.5,354.08L306.0,354.22L306.5,354.30L307.0,354.33L307.5,354.37L308.0,354.05L308.5,354.19L309.0,354.34L309.5,353.96L310.0,354.07L310.5,354.39L311.0,354.04L311.5,354.10L312.0,354.18L312.5,354.15L313.0,353.92L313.5,354.21L314.0,354.08L314.5,354.08L315.0,354.22L315.5,354.23L316.0,354.02L316.5,354.08L317.0,354.17L317.5,354.14L318.0,354.29L318.5,354.01L319.0,354.39L319.5,354.08L320.0,354.17L320.5,354.29L321.0,354.11L321.5,354.11L322.0,354.36L322.5,354.15L323.0,354.32L323.5,354.00L324.0,354.24L324.5,354.24L325.0,354.23L325.5,353.97L326.0,353.52L326.5,352.90L327.0,352.31L327.5,352.01L328.0,352.15L328.5,352.65L329.0,353.28L329.5,353.81L330.0,354.15L330.5,354.02L331.0,354.30L331.5,354.05L332.0,354.13L332.5,354.36L333.0,354.28L333.5,354.10L334.0,354.35L334.5,354.30L335.0,354.11L335.5,353.99L336.0,354.14L336.5,354.07L337.0,354.40L337.5,354.25L338.0,354.24L338.5,353.94L339.0,354.22L339.5,354.01L340.0,354.38L340.5,354.15L341.0,353.95L341.5,354.01L342.0,354.11L342.5,354.31L343.0,353.94L343.5,354.36L344.0,353.92L344.5,354.01L345.0,354.04L345.5,354.13L346.0,354.32L346.5,354.23L347.0,354.07L347.5,354.07L348.0,354.21L348.5,354.00L349.0,354.37L349.5,354.26L350.0,354.35L350.5,354.24L351.0,354.00L351.5,354.02L352.0,354.33L352.5,354.25L353.0,354.34L353.5,354.07L354.0,354.18L354.5,354.28L355.0,354.21L355.5,353.97L356.0,354.19L356.5,354.05L357.0,354.09L357.5,354.16L358.0,354.12L358.5,354.22L359.0,354.30L359.5,354.15L360.0,354.25L360.5,354.23L361.0,354.31L361.5,353.94L362.0,354.19L362.5,354.30L363.0,354.38L363.5,354.29L364.0,353.97L364.5,354.23L365.0,354.07L365.5,354.28L366.0,354.07L366.5,354.17L367.0,354.03L367.5,354.14L368.0,354.21L368.5,354.26L369.0,354.10L369.5,353.98L370.0,354.05L370.5,353.97L371.0,353.44L371.5,352.53L372.0,351.29L372.5,349.96L373.0,348.97L373.5,348.72L374.0,349.30L374.5,350.48L375.0,351.81L375.5,352.94L376.0,353.69L376.5,354.11L377.0,354.21L377.5,353.91L378.0,354.32L378.5,354.20L379.0,354.09L379.5,354.26L380.0,354.27L380.5,354.00L381.0,354.09L381.5,354.03L382.0,354.01L382.5,353.96L383.0,353.95L383.5,353.99L384.0,353.91L384.5,354.15L385.0,354.05L385.5,354.14L386.0,353.92L386.5,354.07L387.0,354.18L387.5,354.07L388.0,354.25L388.5,354.34L389.0,354.21L389.5,354.33L390.0,354.40L390.5,354.35L391.0,354.17L391.5,354.02L392.0,354.38L392.5,354.08L393.0,354.34L393.5,354.14L394.0,354.25L394.5,354.18L395.0,354.04L395.5,354.19L396.0,354.20L396.5,354.04L397.0,354.34L397.5,354.23L398.0,354.05L398.5,353.98L399.0,353.91L399.5,354.27L400.0,354.09L400.5,354.24L401.0,354.05L401.5,353.98L402.0,354.33L402.5,354.23L403.0,353.93L403.5,354.22L404.0,354.08L404.5,353.99L405.0,354.26L405.5,354.01L406.0,354.40L406.5,354.23L407.0,354.32L407.5,354.23L408.0,354.29L408.5,354.39L409.0,354.00L409.5,354.31L410.0,354.11L410.5,354.12L411.0,353.98L411.5,353.98L412.0,354.09L412.5,354.32L413.0,354.02L413.5,354.35L414.0,353.94L414.5,354.25L415.0,354.27L415.5,354.29L416.0,354.20L416.5,354.00L417.0,353.97L417.5,354.03L418.0,354.04L418.5,354.28L419.0,354.24L419.5,354.25L420.0,354.18L420.5,353.96L421.0,353.90L421.5,354.36L422.0,353.92L422.5,353.94L423.0,354.17L423.5,354.05L424.0,354.01L424.5,354.31L425.0,354.09L425.5,353.91L426.0,353.96L426.5,353.94L427.0,354.36L427.5,354.04L428.0,354.16L428.5,353.95L429.0,354.32L429.5,354.13L430.0,354.34L430.5,354.00L431.0,354.04L431.5,354.36L432.0,354.25L432.5,354.32L433.0,354.08L433.5,354.09L434.0,354.21L434.5,353.92L435.0,353.92L435.5,354.04L436.0,353.98L436.5,353.91L437.0,353.84L437.5,353.78L438.0,353.72L438.5,353.67L439.0,353.63L439.5,353.61L440.0,353.60L440.5,353.61L441.0,353.63L441.5,353.67L442.0,353.72L442.5,353.78L443.0,353.84L443.5,353.91L444.0,353.98L444.5,354.04L445.0,354.11L445.5,354.13L446.0,354.21L446.5,354.25L447.0,354.29L447.5,354.28L448.0,354.23L448.5,354.25L449.0,353.98L449.5,354.07L450.0,354.16L450.5,354.01L451.0,354.06L451.5,354.24L452.0,354.09L452.5,354.03L453.0,354.13L453.5,354.02L454.0,354.08L454.5,353.94L455.0,354.27L455.5,354.06L456.0,353.91L456.5,354.14L457.0,353.95L457.5,354.32L458.0,354.04L458.5,354.19L459.0,354.02L459.5,354.00L460.0,353.89L460.5,353.78L461.0,353.68L461.5,353.62L462.0,353.60L462.5,353.62L463.0,353.68L463.5,353.78L464.0,353.89L464.5,354.00L465.0,354.11L465.5,354.05L466.0,354.14L466.5,354.12L467.0,353.91L467.5,354.01L468.0,354.28L468.5,354.18L469.0,354.19L469.5,354.06L470.0,354.06L470.5,354.27L471.0,354.05L471.5,354.18L472.0,354.39L472.5,354.25L473.0,354.21L473.5,354.30L474.0,354.06L474.5,353.90L475.0,353.93L475.5,354.09L476.0,353.97L476.5,354.15L477.0,354.11L477.5,353.95L478.0,354.37L478.5,354.22L479.0,354.21L479.5,354.23L480.0,354.19L480.5,354.23L481.0,354.06L481.5,353.92L482.0,354.06L482.5,353.99L483.0,353.93L483.5,353.88L484.0,353.84L484.5,353.81L485.0,353.80L485.5,353.81L486.0,353.84L486.5,353.88L487.0,353.93L487.5,353.92L488.0,353.98L488.5,354.12L489.0,353.97L489.5,354.10L490.0,354.27L490.5,354.20L491.0,353.99L491.5,354.17L492.0,354.37L492.5,354.32L493.0,354.31L493.5,354.11L494.0,354.08L494.5,354.18L495.0,354.20L495.5,353.92L496.0,354.23L496.5,354.06L497.0,354.30L497.5,354.14L498.0,354.31L498.5,354.34L499.0,354.23L499.5,354.34L500.0,354.21L500.5,354.07L501.0,354.13L501.5,354.00L502.0,354.16L502.5,354.36L503.0,354.04L503.5,354.20L504.0,354.02L504.5,353.91L505.0,354.14L505.5,354.27L506.0,354.22L506.5,354.15L507.0,354.24L507.5,354.35L508.0,354.20L508.5,354.07L509.0,353.99L509.5,354.02L510.0,353.96L510.0,354.4Z" fill="#6a9bd3" stroke="none"/>
<path d="M67.0,354.32L67.5,354.06L68.0,354.08L68.5,354.16L69.0,354.29L69.5,354.00L70.0,354.00L70.5,354.14L71.0,354.15L71.5,354.28L72.0,354.40L72.5,354.21L73.0,354.11L73.5,354.37L74.0,354.00L74.5,354.28L75.0,354.28L75.5,354.38L76.0,353.90L76.5,354.03L77.0,353.96L77.5,354.09L78.0,354.38L78.5,354.24L79.0,354.15L79.5,354.34L80.0,353.92L80.5,354.22L81.0,354.32L81.5,353.99L82.0,354.34L82.5,353.94L83.0,354.17L83.5,354.12L84.0,354.23L84.5,354.16L85.0,354.31L85.5,354.38L86.0,353.97L86.5,354.28L87.0,354.01L87.5,354.30L88.0,353.92L88.5,353.95L89.0,353.85L89.5,353.44L90.0,353.06L90.5,352.90L91.0,353.06L91.5,353.44L92.0,353.85L92.5,354.15L93.0,353.94L93.5,353.96L94.0,354.20L94.5,354.22L95.0,354.17L95.5,354.21L96.0,353.90L96.5,354.21L97.0,354.35L97.5,354.21L98.0,353.80L98.5,352.94L99.0,351.64L99.5,350.35L100.0,349.80L100.5,350.35L101.0,351.64L101.5,352.84L102.0,352.61L102.5,352.45L103.0,352.40L103.5,352.45L104.0,352.61L104.5,352.84L105.0,353.12L105.5,353.40L106.0,353.66L106.5,353.89L107.0,354.06L107.5,353.99L108.0,354.01L108.5,354.21L109.0,354.06L109.5,354.06L110.0,353.95L110.5,353.92L111.0,354.20L111.5,353.91L112.0,353.92L112.5,354.10L113.0,353.96L113.5,354.15L114.0,354.21L114.5,354.28L115.0,353.96L115.5,354.32L116.0,354.37L116.5,354.00L117.0,354.01L117.5,354.16L118.0,353.98L118.5,354.37L119.0,354.27L119.5,354.26L120.0,354.19L120.5,354.31L121.0,354.37L121.5,354.23L122.0,353.95L122.5,353.91L123.0,354.03L123.5,354.16L124.0,354.27L124.5,353.92L125.0,354.14L125.5,354.04L126.0,354.39L126.5,354.29L127.0,353.98L127.5,354.00L128.0,353.96L128.5,354.10L129.0,354.19L129.5,354.11L130.0,353.98L130.5,354.25L131.0,354.13L131.5,354.26L132.0,354.02L132.5,354.39L133.0,354.06L133.5,353.92L134.0,354.39L134.5,354.10L135.0,354.08L135.5,353.97L136.0,354.11L136.5,354.27L137.0,354.20L137.5,353.92L138.0,353.95L138.5,354.33L139.0,354.35L139.5,354.35L140.0,354.39L140.5,354.18L141.0,354.33L141.5,353.97L142.0,354.07L142.5,354.34L143.0,354.13L143.5,354.24L144.0,354.15L144.5,354.29L145.0,354.32L145.5,354.31L146.0,354.21L146.5,354.05L147.0,354.12L147.5,354.38L148.0,354.04L148.5,353.96L149.0,354.01L149.5,354.00L150.0,354.40L150.5,354.17L151.0,354.37L151.5,354.02L152.0,354.31L152.5,354.04L153.0,354.27L153.5,354.05L154.0,354.24L154.5,354.38L155.0,354.21L155.5,354.25L156.0,353.95L156.5,354.25L157.0,354.15L157.5,354.13L158.0,353.93L158.5,354.35L159.0,354.10L159.5,354.12L160.0,353.54L160.5,352.27L161.0,350.15L161.5,347.63L162.0,345.75L162.5,345.56L163.0,347.16L163.5,349.65L164.0,351.91L164.5,353.35L165.0,354.05L165.5,353.90L166.0,353.96L166.5,353.37L167.0,352.45L167.5,351.34L168.0,350.45L168.5,350.22L169.0,350.75L169.5,351.78L170.0,352.85L170.5,353.65L171.0,354.10L171.5,354.21L172.0,354.20L172.5,354.29L173.0,354.38L173.5,354.18L174.0,354.28L174.5,354.05L175.0,353.99L175.5,353.98L176.0,353.15L176.5,351.61L177.0,349.79L177.5,348.73L178.0,349.21L178.5,350.87L179.0,352.61L179.5,353.73L180.0,354.15L180.5,354.04L181.0,353.95L181.5,353.89L182.0,353.26L182.5,352.61L183.0,352.41L183.5,352.84L184.0,353.54L184.5,354.06L185.0,354.28L185.5,353.94L186.0,354.21L186.5,354.09L187.0,353.99L187.5,353.92L188.0,353.91L188.5,354.40L189.0,354.24L189.5,354.24L190.0,354.20L190.5,354.29L191.0,353.96L191.5,353.10L192.0,351.71L192.5,350.45L193.0,350.32L193.5,350.23L194.0,351.13L194.5,352.59L195.0,353.69L195.5,354.20L196.0,354.23L196.5,354.08L197.0,354.06L197.5,354.27L198.0,353.92L198.5,354.24L199.0,354.27L199.5,353.98L200.0,354.32L200.5,354.06L201.0,354.30L201.5,354.10L202.0,354.26L202.5,354.21L203.0,353.93L203.5,354.17L204.0,354.18L204.5,354.09L205.0,354.26L205.5,354.31L206.0,354.21L206.5,354.15L207.0,353.91L207.5,353.51L208.0,352.90L208.5,352.05L209.0,350.97L209.5,349.76L210.0,348.56L210.5,347.58L211.0,347.00L211.5,346.94L212.0,347.42L212.5,348.34L213.0,349.51L213.5,350.73L214.0,351.85L214.5,352.75L215.0,353.41L215.5,353.85L216.0,354.11L216.5,354.26L217.0,354.00L217.5,353.99L218.0,354.14L218.5,354.38L219.0,354.31L219.5,354.20L220.0,354.12L220.5,354.29L221.0,354.00L221.5,353.98L222.0,353.94L222.5,353.96L223.0,354.39L223.5,354.11L224.0,354.36L224.5,353.95L225.0,354.03L225.5,354.02L226.0,354.31L226.5,354.37L227.0,353.99L227.5,354.10L228.0,354.09L228.5,354.16L229.0,354.00L229.5,354.23L230.0,354.27L230.5,354.22L231.0,354.25L231.5,354.09L232.0,353.95L232.5,354.36L233.0,354.37L233.5,354.14L234.0,354.06L234.5,354.31L235.0,354.27L235.5,354.37L236.0,354.38L236.5,354.15L237.0,354.06L237.5,354.07L238.0,354.32L238.5,354.35L239.0,353.93L239.5,354.13L240.0,354.20L240.5,354.05L241.0,354.04L241.5,354.14L242.0,354.36L242.5,353.99L243.0,354.29L243.5,354.38L244.0,354.22L244.5,354.13L245.0,354.09L245.5,354.31L246.0,354.05L246.5,354.15L247.0,354.32L247.5,353.97L248.0,354.00L248.5,353.95L249.0,354.06L249.5,353.35L250.0,352.60L250.5,352.47L251.0,351.60L251.5,350.60L252.0,349.54L252.5,344.69L253.0,341.77L253.5,346.63L254.0,351.20L254.5,352.20L255.0,352.60L255.5,352.60L256.0,352.15L256.5,350.62L257.0,349.90L257.5,350.62L258.0,352.15L258.5,352.60L259.0,352.60L259.5,352.60L260.0,352.60L260.5,352.60L261.0,351.52L261.5,349.92L262.0,349.20L262.5,349.92L263.0,351.52L263.5,352.60L264.0,350.91L264.5,348.97L265.0,348.10L265.5,348.97L266.0,350.91L266.5,352.60L267.0,352.60L267.5,352.60L268.0,352.60L268.5,353.35L269.0,354.10L269.5,353.98L270.0,353.66L270.5,353.26L271.0,352.84L271.5,352.52L272.0,352.40L272.5,352.52L273.0,352.84L273.5,353.26L274.0,353.66L274.5,353.98L275.0,354.07L275.5,354.27L276.0,354.18L276.5,354.21L277.0,354.16L277.5,354.27L278.0,354.13L278.5,354.17L279.0,354.38L279.5,353.99L280.0,354.11L280.5,354.00L281.0,354.03L281.5,354.03L282.0,353.90L282.5,354.21L283.0,354.20L283.5,354.40L284.0,354.07L284.5,354.11L285.0,354.11L285.5,353.90L286.0,354.30L286.5,354.29L287.0,354.03L287.5,353.99L288.0,354.16L288.5,354.37L289.0,354.21L289.5,353.99L290.0,354.15L290.5,354.17L291.0,354.21L291.5,354.09L292.0,354.10L292.5,354.05L293.0,353.97L293.5,354.02L294.0,354.21L294.5,354.27L295.0,354.01L295.5,354.00L296.0,353.94L296.5,354.30L297.0,353.98L297.5,353.95L298.0,354.36L298.5,354.25L299.0,354.08L299.5,354.33L300.0,353.98L300.5,354.27L301.0,354.06L301.5,354.25L302.0,354.29L302.5,354.30L303.0,354.15L303.5,354.04L304.0,354.29L304.5,354.06L305.0,354.23L305.5,354.08L306.0,354.22L306.5,354.30L307.0,354.33L307.5,354.37L308.0,354.05L308.5,354.19L309.0,354.34L309.5,353.96L310.0,354.07L310.5,354.39L311.0,354.04L311.5,354.10L312.0,354.18L312.5,354.15L313.0,353.92L313.5,354.21L314.0,354.08L314.5,354.08L315.0,354.22L315.5,354.23L316.0,354.02L316.5,354.08L317.0,354.17L317.5,354.14L318.0,354.29L318.5,354.01L319.0,354.39L319.5,354.08L320.0,354.17L320.5,354.29L321.0,354.11L321.5,354.11L322.0,354.36L322.5,354.15L323.0,354.32L323.5,354.00L324.0,354.24L324.5,354.24L325.0,354.23L325.5,353.97L326.0,353.52L326.5,352.90L327.0,352.31L327.5,352.01L328.0,352.15L328.5,352.65L329.0,353.28L329.5,353.81L330.0,354.15L330.5,354.02L331.0,354.30L331.5,354.05L332.0,354.13L332.5,354.36L333.0,354.28L333.5,354.10L334.0,354.35L334.5,354.30L335.0,354.11L335.5,353.99L336.0,354.14L336.5,354.07L337.0,354.40L337.5,354.25L338.0,354.24L338.5,353.94L339.0,354.22L339.5,354.01L340.0,354.38L340.5,354.15L341.0,353.95L341.5,354.01L342.0,354.11L342.5,354.31L343.0,353.94L343.5,354.36L344.0,353.92L344.5,354.01L345.0,354.04L345.5,354.13L346.0,354.32L346.5,354.23L347.0,354.07L347.5,354.07L348.0,354.21L348.5,354.00L349.0,354.37L349.5,354.26L350.0,354.35L350.5,354.24L351.0,354.00L351.5,354.02L352.0,354.33L352.5,354.25L353.0,354.34L353.5,354.07L354.0,354.18L354.5,354.28L355.0,354.21L355.5,353.97L356.0,354.19L356.5,354.05L357.0,354.09L357.5,354.16L358.0,354.12L358.5,354.22L359.0,354.30L359.5,354.15L360.0,354.25L360.5,354.23L361.0,354.31L361.5,353.94L362.0,354.19L362.5,354.30L363.0,354.38L363.5,354.29L364.0,353.97L364.5,354.23L365.0,354.07L365.5,354.28L366.0,354.07L366.5,354.17L367.0,354.03L367.5,354.14L368.0,354.21L368.5,354.26L369.0,354.10L369.5,353.98L370.0,354.05L370.5,353.97L371.0,353.44L371.5,352.53L372.0,351.29L372.5,349.96L373.0,348.97L373.5,348.72L374.0,349.30L374.5,350.48L375.0,351.81L375.5,352.94L376.0,353.69L376.5,354.11L377.0,354.21L377.5,353.91L378.0,354.32L378.5,354.20L379.0,354.09L379.5,354.26L380.0,354.27L380.5,354.00L381.0,354.09L381.5,354.03L382.0,354.01L382.5,353.96L383.0,353.95L383.5,353.99L384.0,353.91L384.5,354.15L385.0,354.05L385.5,354.14L386.0,353.92L386.5,354.07L387.0,354.18L387.5,354.07L388.0,354.25L388.5,354.34L389.0,354.21L389.5,354.33L390.0,354.40L390.5,354.35L391.0,354.17L391.5,354.02L392.0,354.38L392.5,354.08L393.0,354.34L393.5,354.14L394.0,354.25L394.5,354.18L395.0,354.04L395.5,354.19L396.0,354.20L396.5,354.04L397.0,354.34L397.5,354.23L398.0,354.05L398.5,353.98L399.0,353.91L399.5,354.27L400.0,354.09L400.5,354.24L401.0,354.05L401.5,353.98L402.0,354.33L402.5,354.23L403.0,353.93L403.5,354.22L404.0,354.08L404.5,353.99L405.0,354.26L405.5,354.01L406.0,354.40L406.5,354.23L407.0,354.32L407.5,354.23L408.0,354.29L408.5,354.39L409.0,354.00L409.5,354.31L410.0,354.11L410.5,354.12L411.0,353.98L411.5,353.98L412.0,354.09L412.5,354.32L413.0,354.02L413.5,354.35L414.0,353.94L414.5,354.25L415.0,354.27L415.5,354.29L416.0,354.20L416.5,354.00L417.0,353.97L417.5,354.03L418.0,354.04L418.5,354.28L419.0,354.24L419.5,354.25L420.0,354.18L420.5,353.96L421.0,353.90L421.5,354.36L422.0,353.92L422.5,353.94L423.0,354.17L423.5,354.05L424.0,354.01L424.5,354.31L425.0,354.09L425.5,353.91L426.0,353.96L426.5,353.94L427.0,354.36L427.5,354.04L428.0,354.16L428.5,353.95L429.0,354.32L429.5,354.13L430.0,354.34L430.5,354.00L431.0,354.04L431.5,354.36L432.0,354.25L432.5,354.32L433.0,354.08L433.5,354.09L434.0,354.21L434.5,353.92L435.0,353.92L435.5,354.04L436.0,353.98L436.5,353.91L437.0,353.84L437.5,353.78L438.0,353.72L438.5,353.67L439.0,353.63L439.5,353.61L440.0,353.60L440.5,353.61L441.0,353.63L441.5,353.67L442.0,353.72L442.5,353.78L443.0,353.84L443.5,353.91L444.0,353.98L444.5,354.04L445.0,354.11L445.5,354.13L446.0,354.21L446.5,354.25L447.0,354.29L447.5,354.28L448.0,354.23L448.5,354.25L449.0,353.98L449.5,354.07L450.0,354.16L450.5,354.01L451.0,354.06L451.5,354.24L452.0,354.09L452.5,354.03L453.0,354.13L453.5,354.02L454.0,354.08L454.5,353.94L455.0,354.27L455.5,354.06L456.0,353.91L456.5,354.14L457.0,353.95L457.5,354.32L458.0,354.04L458.5,354.19L459.0,354.02L459.5,354.00L460.0,353.89L460.5,353.78L461.0,353.68L461.5,353.62L462.0,353.60L462.5,353.62L463.0,353.68L463.5,353.78L464.0,353.89L464.5,354.00L465.0,354.11L465.5,354.05L466.0,354.14L466.5,354.12L467.0,353.91L467.5,354.01L468.0,354.28L468.5,354.18L469.0,354.19L469.5,354.06L470.0,354.06L470.5,354.27L471.0,354.05L471.5,354.18L472.0,354.39L472.5,354.25L473.0,354.21L473.5,354.30L474.0,354.06L474.5,353.90L475.0,353.93L475.5,354.09L476.0,353.97L476.5,354.15L477.0,354.11L477.5,353.95L478.0,354.37L478.5,354.22L479.0,354.21L479.5,354.23L480.0,354.19L480.5,354.23L481.0,354.06L481.5,353.92L482.0,354.06L482.5,353.99L483.0,353.93L483.5,353.88L484.0,353.84L484.5,353.81L485.0,353.80L485.5,353.81L486.0,353.84L486.5,353.88L487.0,353.93L487.5,353.92L488.0,353.98L488.5,354.12L489.0,353.97L489.5,354.10L490.0,354.27L490.5,354.20L491.0,353.99L491.5,354.17L492.0,354.37L492.5,354.32L493.0,354.31L493.5,354.11L494.0,354.08L494.5,354.18L495.0,354.20L495.5,353.92L496.0,354.23L496.5,354.06L497.0,354.30L497.5,354.14L498.0,354.31L498.5,354.34L499.0,354.23L499.5,354.34L500.0,354.21L500.5,354.07L501.0,354.13L501.5,354.00L502.0,354.16L502.5,354.36L503.0,354.04L503.5,354.20L504.0,354.02L504.5,353.91L505.0,354.14L505.5,354.27L506.0,354.22L506.5,354.15L507.0,354.24L507.5,354.35L508.0,354.20L508.5,354.07L509.0,353.99L509.5,354.02L510.0,353.96" fill="none" stroke="#3670b4" stroke-width="0.5"/>
<line x1="67.00" y1="354.40" x2="448.00" y2="354.40" stroke="#4f88cc" stroke-width="1.1"/>
<line x1="450.00" y1="354.40" x2="461.00" y2="354.40" stroke="#4f88cc" stroke-width="1.1"/>
<line x1="464.00" y1="354.40" x2="475.00" y2="354.40" stroke="#4f88cc" stroke-width="1.1"/>
<line x1="477.00" y1="354.40" x2="488.00" y2="354.40" stroke="#4f88cc" stroke-width="1.1"/>
<line x1="490.00" y1="354.40" x2="498.00" y2="354.40" stroke="#4f88cc" stroke-width="1.1"/>
<line x1="500.00" y1="354.40" x2="510.00" y2="354.40" stroke="#4f88cc" stroke-width="1.1"/>
<path d="M67.0,370.8L67.0,369.54L67.5,369.95L68.0,370.00L68.5,369.96L69.0,370.27L69.5,370.30L70.0,370.30L70.5,370.30L71.0,370.16L71.5,370.30L72.0,370.30L72.5,370.19L73.0,370.30L73.5,370.30L74.0,370.16L74.5,370.30L75.0,370.30L75.5,370.14L76.0,370.30L76.5,369.91L77.0,369.98L77.5,370.27L78.0,369.99L78.5,370.24L79.0,369.93L79.5,370.30L80.0,369.78L80.5,369.53L81.0,370.15L81.5,370.21L82.0,370.29L82.5,369.94L83.0,370.30L83.5,370.15L84.0,370.27L84.5,370.03L85.0,370.22L85.5,370.30L86.0,369.89L86.5,369.55L87.0,370.07L87.5,370.30L88.0,370.30L88.5,370.19L89.0,370.30L89.5,369.95L90.0,369.68L90.5,370.06L91.0,370.02L91.5,369.52L92.0,370.17L92.5,370.30L93.0,370.10L93.5,370.30L94.0,370.30L94.5,370.30L95.0,370.09L95.5,370.16L96.0,370.05L96.5,370.30L97.0,370.30L97.5,369.97L98.0,369.55L98.5,368.70L99.0,368.30L99.5,368.70L100.0,369.55L100.5,370.28L101.0,370.30L101.5,369.83L102.0,370.18L102.5,369.92L103.0,370.08L103.5,369.95L104.0,370.06L104.5,369.91L105.0,370.00L105.5,369.60L106.0,369.92L106.5,370.00L107.0,370.00L107.5,370.00L108.0,370.00L108.5,370.00L109.0,369.96L109.5,369.94L110.0,369.90L110.5,370.00L111.0,369.97L111.5,369.18L112.0,369.45L112.5,370.00L113.0,370.00L113.5,369.94L114.0,369.36L114.5,370.00L115.0,370.00L115.5,369.84L116.0,370.00L116.5,369.99L117.0,369.90L117.5,369.72L118.0,370.00L118.5,370.05L119.0,370.07L119.5,370.30L120.0,370.30L120.5,370.30L121.0,370.11L121.5,370.29L122.0,370.30L122.5,370.06L123.0,370.30L123.5,370.23L124.0,370.30L124.5,370.30L125.0,370.05L125.5,370.25L126.0,369.57L126.5,370.30L127.0,370.29L127.5,370.30L128.0,370.30L128.5,370.30L129.0,369.97L129.5,369.37L130.0,370.15L130.5,370.30L131.0,370.30L131.5,370.09L132.0,370.30L132.5,370.02L133.0,369.60L133.5,369.82L134.0,370.30L134.5,370.30L135.0,370.30L135.5,370.22L136.0,370.17L136.5,370.10L137.0,369.72L137.5,370.30L138.0,370.30L138.5,370.11L139.0,370.30L139.5,369.98L140.0,369.38L140.5,369.93L141.0,370.02L141.5,370.30L142.0,370.10L142.5,370.19L143.0,370.26L143.5,370.18L144.0,370.30L144.5,370.30L145.0,370.30L145.5,369.94L146.0,370.22L146.5,370.30L147.0,370.30L147.5,370.07L148.0,369.92L148.5,370.11L149.0,370.16L149.5,369.91L150.0,369.36L150.5,369.91L151.0,370.16L151.5,370.03L152.0,370.23L152.5,370.30L153.0,370.30L153.5,370.30L154.0,370.19L154.5,370.30L155.0,370.03L155.5,369.69L156.0,370.03L156.5,370.30L157.0,369.92L157.5,370.10L158.0,369.68L158.5,369.64L159.0,369.03L159.5,368.64L160.0,368.69L160.5,369.14L161.0,369.76L161.5,370.14L162.0,370.25L162.5,370.19L163.0,370.30L163.5,369.87L164.0,368.49L164.5,369.64L165.0,369.80L165.5,369.80L166.0,369.52L166.5,368.73L167.0,367.68L167.5,366.94L168.0,366.86L168.5,367.50L169.0,368.52L169.5,369.51L170.0,369.80L170.5,369.80L171.0,369.80L171.5,368.68L172.0,369.77L172.5,370.13L173.0,370.02L173.5,370.30L174.0,370.03L174.5,370.30L175.0,370.30L175.5,370.30L176.0,370.24L176.5,370.30L177.0,369.93L177.5,369.86L178.0,370.20L178.5,369.70L179.0,369.60L179.5,369.60L180.0,369.26L180.5,369.00L181.0,368.69L181.5,368.61L182.0,368.79L182.5,369.17L183.0,369.60L183.5,369.04L184.0,369.60L184.5,369.60L185.0,369.60L185.5,369.44L186.0,369.60L186.5,369.60L187.0,369.60L187.5,369.17L188.0,369.14L188.5,369.60L189.0,369.60L189.5,370.10L190.0,370.30L190.5,370.20L191.0,370.30L191.5,370.20L192.0,369.93L192.5,369.98L193.0,370.06L193.5,370.28L194.0,369.93L194.5,370.30L195.0,370.02L195.5,370.13L196.0,370.25L196.5,369.97L197.0,369.92L197.5,369.82L198.0,370.30L198.5,369.67L199.0,369.83L199.5,370.30L200.0,370.30L200.5,370.30L201.0,370.30L201.5,370.30L202.0,369.92L202.5,370.13L203.0,370.16L203.5,370.20L204.0,370.13L204.5,369.93L205.0,370.20L205.5,369.88L206.0,370.11L206.5,369.64L207.0,369.10L207.5,368.58L208.0,368.26L208.5,368.23L209.0,368.50L209.5,368.99L210.0,369.54L210.5,370.02L211.0,370.06L211.5,370.20L212.0,370.20L212.5,370.06L213.0,369.70L213.5,369.09L214.0,368.46L214.5,367.98L215.0,367.80L215.5,367.98L216.0,368.46L216.5,369.09L217.0,369.70L217.5,369.82L218.0,369.79L218.5,370.20L219.0,369.99L219.5,370.20L220.0,370.18L220.5,369.95L221.0,370.20L221.5,370.14L222.0,369.79L222.5,369.93L223.0,370.30L223.5,370.06L224.0,369.80L224.5,370.30L225.0,370.08L225.5,370.15L226.0,369.94L226.5,370.23L227.0,370.30L227.5,370.30L228.0,370.28L228.5,369.91L229.0,370.22L229.5,370.01L230.0,370.30L230.5,370.09L231.0,370.14L231.5,370.30L232.0,370.06L232.5,370.30L233.0,370.19L233.5,370.30L234.0,370.20L234.5,370.30L235.0,369.92L235.5,370.30L236.0,370.07L236.5,370.12L237.0,370.29L237.5,370.29L238.0,370.08L238.5,370.23L239.0,370.30L239.5,369.34L240.0,368.30L240.5,368.30L241.0,368.30L241.5,368.30L242.0,368.30L242.5,368.30L243.0,368.30L243.5,368.30L244.0,368.30L244.5,368.30L245.0,368.06L245.5,367.58L246.0,368.30L246.5,368.30L247.0,368.30L247.5,368.30L248.0,368.30L248.5,368.30L249.0,367.94L249.5,367.69L250.0,367.60L250.5,367.69L251.0,367.94L251.5,368.30L252.0,368.30L252.5,366.96L253.0,368.19L253.5,368.30L254.0,368.30L254.5,367.84L255.0,367.40L255.5,367.10L256.0,367.00L256.5,367.10L257.0,367.40L257.5,367.84L258.0,368.36L258.5,367.98L259.0,368.35L259.5,369.30L260.0,369.30L260.5,369.30L261.0,369.00L261.5,369.30L262.0,369.30L262.5,369.93L263.0,370.55L263.5,370.30L264.0,370.58L264.5,370.77L265.0,368.37L265.5,365.33L266.0,364.72L266.5,367.76L267.0,369.53L267.5,368.27L268.0,367.00L268.5,367.00L269.0,367.00L269.5,367.00L270.0,367.00L270.5,367.00L271.0,367.00L271.5,367.00L272.0,367.00L272.5,367.00L273.0,367.00L273.5,367.00L274.0,367.00L274.5,367.00L275.0,367.00L275.5,367.00L276.0,367.00L276.5,367.00L277.0,367.00L277.5,367.00L278.0,367.00L278.5,367.00L279.0,367.00L279.5,367.00L280.0,367.00L280.5,368.27L281.0,369.53L281.5,370.07L282.0,369.40L282.5,368.61L283.0,367.98L283.5,367.81L284.0,368.19L284.5,368.93L285.0,369.60L285.5,369.60L286.0,369.60L286.5,369.07L287.0,369.60L287.5,369.60L288.0,369.60L288.5,369.60L289.0,369.60L289.5,369.60L290.0,369.60L290.5,369.37L291.0,369.54L291.5,369.60L292.0,369.60L292.5,369.41L293.0,369.60L293.5,369.60L294.0,369.60L294.5,369.60L295.0,369.60L295.5,369.93L296.0,370.01L296.5,370.04L297.0,370.40L297.5,370.40L298.0,370.25L298.5,370.40L299.0,369.91L299.5,370.40L300.0,370.00L300.5,370.37L301.0,370.17L301.5,370.24L302.0,370.18L302.5,370.09L303.0,369.97L303.5,369.92L304.0,370.18L304.5,369.92L305.0,369.92L305.5,370.40L306.0,369.84L306.5,370.13L307.0,370.14L307.5,370.00L308.0,370.31L308.5,370.27L309.0,370.04L309.5,370.40L310.0,370.40L310.5,370.40L311.0,370.09L311.5,370.40L312.0,370.40L312.5,370.40L313.0,370.06L313.5,369.97L314.0,370.02L314.5,370.38L315.0,370.40L315.5,370.20L316.0,370.20L316.5,370.27L317.0,370.13L317.5,370.31L318.0,370.14L318.5,370.24L319.0,370.03L319.5,370.11L320.0,369.99L320.5,370.13L321.0,370.40L321.5,370.35L322.0,369.98L322.5,369.94L323.0,370.14L323.5,369.90L324.0,370.06L324.5,370.31L325.0,370.22L325.5,370.40L326.0,370.37L326.5,370.15L327.0,369.98L327.5,370.04L328.0,370.26L328.5,369.83L329.0,370.00L329.5,370.21L330.0,370.40L330.5,370.40L331.0,370.01L331.5,369.52L332.0,369.05L332.5,369.11L333.0,369.65L333.5,370.12L334.0,370.07L334.5,370.37L335.0,370.33L335.5,370.40L336.0,370.25L336.5,370.40L337.0,370.09L337.5,369.83L338.0,370.40L338.5,370.25L339.0,370.40L339.5,370.40L340.0,369.93L340.5,370.02L341.0,369.94L341.5,370.05L342.0,370.40L342.5,370.39L343.0,370.23L343.5,370.40L344.0,370.25L344.5,370.40L345.0,370.40L345.5,370.32L346.0,369.98L346.5,370.40L347.0,370.31L347.5,370.40L348.0,370.15L348.5,370.40L349.0,370.40L349.5,370.14L350.0,370.40L350.5,370.40L351.0,370.40L351.5,370.17L352.0,370.23L352.5,370.40L353.0,370.02L353.5,370.40L354.0,370.11L354.5,370.40L355.0,370.35L355.5,369.86L356.0,370.26L356.5,370.40L357.0,370.40L357.5,370.22L358.0,369.77L358.5,368.83L359.0,369.80L359.5,369.80L360.0,369.54L360.5,369.48L361.0,369.80L361.5,369.80L362.0,368.36L362.5,368.63L363.0,369.80L363.5,369.80L364.0,369.12L364.5,369.16L365.0,369.80L365.5,369.28L366.0,369.03L366.5,369.18L367.0,367.81L367.5,369.24L368.0,368.30L368.5,365.80L369.0,365.30L369.5,367.80L370.0,367.68L370.5,367.04L371.0,366.80L371.5,367.04L372.0,367.68L372.5,368.52L373.0,368.90L373.5,369.38L374.0,369.80L374.5,369.80L375.0,369.80L375.5,369.73L376.0,369.80L376.5,368.57L377.0,368.43L377.5,367.04L378.0,368.07L378.5,369.77L379.0,369.80L379.5,369.40L380.0,368.79L380.5,369.80L381.0,369.80L381.5,369.32L382.0,369.80L382.5,369.80L383.0,368.51L383.5,369.48L384.0,369.80L384.5,369.75L385.0,369.80L385.5,370.07L386.0,369.99L386.5,370.31L387.0,370.07L387.5,370.40L388.0,369.94L388.5,370.37L389.0,370.13L389.5,369.96L390.0,370.40L390.5,370.40L391.0,370.40L391.5,370.03L392.0,370.03L392.5,369.83L393.0,369.99L393.5,370.13L394.0,369.94L394.5,369.92L395.0,369.92L395.5,370.15L396.0,370.40L396.5,370.40L397.0,370.32L397.5,370.40L398.0,370.25L398.5,370.40L399.0,370.39L399.5,369.97L400.0,370.28L400.5,370.30L401.0,370.15L401.5,370.63L402.0,370.08L402.5,370.11L403.0,370.07L403.5,370.39L404.0,370.31L404.5,370.73L405.0,370.39L405.5,370.22L406.0,369.95L406.5,369.99L407.0,370.49L407.5,370.12L408.0,370.03L408.5,369.93L409.0,370.19L409.5,370.50L410.0,370.01L410.5,370.79L411.0,370.29L411.5,370.39L412.0,370.01L412.5,370.24L413.0,370.62L413.5,370.65L414.0,370.77L414.5,370.12L415.0,370.10L415.5,370.46L416.0,370.60L416.5,370.30L417.0,370.62L417.5,370.33L418.0,370.49L418.5,370.51L419.0,370.18L419.5,370.58L420.0,370.50L420.5,370.29L421.0,369.95L421.5,370.66L422.0,370.52L422.5,370.55L423.0,370.52L423.5,370.36L424.0,370.06L424.5,370.64L425.0,370.15L425.5,370.41L426.0,370.29L426.5,370.35L427.0,370.26L427.5,370.26L428.0,370.18L428.5,370.10L429.0,370.05L429.5,370.01L430.0,370.00L430.5,369.91L431.0,370.05L431.5,370.10L432.0,370.18L432.5,370.18L433.0,370.34L433.5,370.14L434.0,370.51L434.5,370.53L435.0,370.24L435.5,370.68L436.0,370.41L436.5,369.90L437.0,370.14L437.5,370.45L438.0,369.98L438.5,370.29L439.0,370.07L439.5,370.49L440.0,370.46L440.5,370.17L441.0,370.12L441.5,370.18L442.0,370.66L442.5,370.42L443.0,370.51L443.5,370.59L444.0,370.70L444.5,370.13L445.0,370.67L445.5,370.48L446.0,370.78L446.5,370.17L447.0,370.24L447.5,370.73L448.0,369.94L448.5,369.90L449.0,370.12L449.5,370.07L450.0,370.17L450.5,370.55L451.0,370.47L451.5,370.38L452.0,370.29L452.5,370.19L453.0,370.10L453.5,370.02L454.0,369.95L454.5,369.91L455.0,369.90L455.5,369.91L456.0,369.95L456.5,370.02L457.0,370.10L457.5,370.14L458.0,370.02L458.5,370.20L459.0,370.47L459.5,369.93L460.0,370.61L460.5,370.43L461.0,370.00L461.5,370.19L462.0,370.36L462.5,370.06L463.0,370.03L463.5,369.87L464.0,369.73L464.5,369.63L465.0,369.60L465.5,369.63L466.0,369.73L466.5,369.87L467.0,370.03L467.5,370.20L468.0,370.28L468.5,370.49L469.0,370.24L469.5,370.51L470.0,369.90L470.5,370.49L471.0,370.09L471.5,370.05L472.0,370.46L472.5,370.27L473.0,370.59L473.5,370.46L474.0,370.40L474.5,370.16L475.0,370.34L475.5,370.66L476.0,370.22L476.5,370.34L477.0,370.33L477.5,370.40L478.0,370.02L478.5,370.21L479.0,370.20L479.5,370.35L480.0,370.44L480.5,370.42L481.0,370.19L481.5,370.41L482.0,370.74L482.5,370.60L483.0,370.75L483.5,370.73L484.0,370.48L484.5,370.46L485.0,370.39L485.5,370.52L486.0,370.43L486.5,370.33L487.0,370.23L487.5,370.12L488.0,370.02L488.5,369.93L489.0,369.86L489.5,369.82L490.0,369.80L490.5,369.82L491.0,369.86L491.5,369.93L492.0,369.92L492.5,370.12L493.0,370.06L493.5,370.04L494.0,370.43L494.5,370.52L495.0,370.09L495.5,370.45L496.0,369.99L496.5,370.73L497.0,369.96L497.5,370.24L498.0,370.43L498.5,370.05L499.0,370.32L499.5,370.39L500.0,370.63L500.5,370.09L501.0,370.67L501.5,370.53L502.0,370.72L502.5,370.79L503.0,370.53L503.5,370.76L504.0,370.38L504.5,370.49L505.0,370.78L505.5,370.38L506.0,370.54L506.5,370.59L507.0,370.31L507.5,370.50L508.0,370.75L508.5,369.96L509.0,369.93L509.5,370.59L510.0,370.21L510.0,370.8Z" fill="#f29892" stroke="none"/>
<path d="M67.0,369.54L67.5,369.95L68.0,370.00L68.5,369.96L69.0,370.27L69.5,370.30L70.0,370.30L70.5,370.30L71.0,370.16L71.5,370.30L72.0,370.30L72.5,370.19L73.0,370.30L73.5,370.30L74.0,370.16L74.5,370.30L75.0,370.30L75.5,370.14L76.0,370.30L76.5,369.91L77.0,369.98L77.5,370.27L78.0,369.99L78.5,370.24L79.0,369.93L79.5,370.30L80.0,369.78L80.5,369.53L81.0,370.15L81.5,370.21L82.0,370.29L82.5,369.94L83.0,370.30L83.5,370.15L84.0,370.27L84.5,370.03L85.0,370.22L85.5,370.30L86.0,369.89L86.5,369.55L87.0,370.07L87.5,370.30L88.0,370.30L88.5,370.19L89.0,370.30L89.5,369.95L90.0,369.68L90.5,370.06L91.0,370.02L91.5,369.52L92.0,370.17L92.5,370.30L93.0,370.10L93.5,370.30L94.0,370.30L94.5,370.30L95.0,370.09L95.5,370.16L96.0,370.05L96.5,370.30L97.0,370.30L97.5,369.97L98.0,369.55L98.5,368.70L99.0,368.30L99.5,368.70L100.0,369.55L100.5,370.28L101.0,370.30L101.5,369.83L102.0,370.18L102.5,369.92L103.0,370.08L103.5,369.95L104.0,370.06L104.5,369.91L105.0,370.00L105.5,369.60L106.0,369.92L106.5,370.00L107.0,370.00L107.5,370.00L108.0,370.00L108.5,370.00L109.0,369.96L109.5,369.94L110.0,369.90L110.5,370.00L111.0,369.97L111.5,369.18L112.0,369.45L112.5,370.00L113.0,370.00L113.5,369.94L114.0,369.36L114.5,370.00L115.0,370.00L115.5,369.84L116.0,370.00L116.5,369.99L117.0,369.90L117.5,369.72L118.0,370.00L118.5,370.05L119.0,370.07L119.5,370.30L120.0,370.30L120.5,370.30L121.0,370.11L121.5,370.29L122.0,370.30L122.5,370.06L123.0,370.30L123.5,370.23L124.0,370.30L124.5,370.30L125.0,370.05L125.5,370.25L126.0,369.57L126.5,370.30L127.0,370.29L127.5,370.30L128.0,370.30L128.5,370.30L129.0,369.97L129.5,369.37L130.0,370.15L130.5,370.30L131.0,370.30L131.5,370.09L132.0,370.30L132.5,370.02L133.0,369.60L133.5,369.82L134.0,370.30L134.5,370.30L135.0,370.30L135.5,370.22L136.0,370.17L136.5,370.10L137.0,369.72L137.5,370.30L138.0,370.30L138.5,370.11L139.0,370.30L139.5,369.98L140.0,369.38L140.5,369.93L141.0,370.02L141.5,370.30L142.0,370.10L142.5,370.19L143.0,370.26L143.5,370.18L144.0,370.30L144.5,370.30L145.0,370.30L145.5,369.94L146.0,370.22L146.5,370.30L147.0,370.30L147.5,370.07L148.0,369.92L148.5,370.11L149.0,370.16L149.5,369.91L150.0,369.36L150.5,369.91L151.0,370.16L151.5,370.03L152.0,370.23L152.5,370.30L153.0,370.30L153.5,370.30L154.0,370.19L154.5,370.30L155.0,370.03L155.5,369.69L156.0,370.03L156.5,370.30L157.0,369.92L157.5,370.10L158.0,369.68L158.5,369.64L159.0,369.03L159.5,368.64L160.0,368.69L160.5,369.14L161.0,369.76L161.5,370.14L162.0,370.25L162.5,370.19L163.0,370.30L163.5,369.87L164.0,368.49L164.5,369.64L165.0,369.80L165.5,369.80L166.0,369.52L166.5,368.73L167.0,367.68L167.5,366.94L168.0,366.86L168.5,367.50L169.0,368.52L169.5,369.51L170.0,369.80L170.5,369.80L171.0,369.80L171.5,368.68L172.0,369.77L172.5,370.13L173.0,370.02L173.5,370.30L174.0,370.03L174.5,370.30L175.0,370.30L175.5,370.30L176.0,370.24L176.5,370.30L177.0,369.93L177.5,369.86L178.0,370.20L178.5,369.70L179.0,369.60L179.5,369.60L180.0,369.26L180.5,369.00L181.0,368.69L181.5,368.61L182.0,368.79L182.5,369.17L183.0,369.60L183.5,369.04L184.0,369.60L184.5,369.60L185.0,369.60L185.5,369.44L186.0,369.60L186.5,369.60L187.0,369.60L187.5,369.17L188.0,369.14L188.5,369.60L189.0,369.60L189.5,370.10L190.0,370.30L190.5,370.20L191.0,370.30L191.5,370.20L192.0,369.93L192.5,369.98L193.0,370.06L193.5,370.28L194.0,369.93L194.5,370.30L195.0,370.02L195.5,370.13L196.0,370.25L196.5,369.97L197.0,369.92L197.5,369.82L198.0,370.30L198.5,369.67L199.0,369.83L199.5,370.30L200.0,370.30L200.5,370.30L201.0,370.30L201.5,370.30L202.0,369.92L202.5,370.13L203.0,370.16L203.5,370.20L204.0,370.13L204.5,369.93L205.0,370.20L205.5,369.88L206.0,370.11L206.5,369.64L207.0,369.10L207.5,368.58L208.0,368.26L208.5,368.23L209.0,368.50L209.5,368.99L210.0,369.54L210.5,370.02L211.0,370.06L211.5,370.20L212.0,370.20L212.5,370.06L213.0,369.70L213.5,369.09L214.0,368.46L214.5,367.98L215.0,367.80L215.5,367.98L216.0,368.46L216.5,369.09L217.0,369.70L217.5,369.82L218.0,369.79L218.5,370.20L219.0,369.99L219.5,370.20L220.0,370.18L220.5,369.95L221.0,370.20L221.5,370.14L222.0,369.79L222.5,369.93L223.0,370.30L223.5,370.06L224.0,369.80L224.5,370.30L225.0,370.08L225.5,370.15L226.0,369.94L226.5,370.23L227.0,370.30L227.5,370.30L228.0,370.28L228.5,369.91L229.0,370.22L229.5,370.01L230.0,370.30L230.5,370.09L231.0,370.14L231.5,370.30L232.0,370.06L232.5,370.30L233.0,370.19L233.5,370.30L234.0,370.20L234.5,370.30L235.0,369.92L235.5,370.30L236.0,370.07L236.5,370.12L237.0,370.29L237.5,370.29L238.0,370.08L238.5,370.23L239.0,370.30L239.5,369.34L240.0,368.30L240.5,368.30L241.0,368.30L241.5,368.30L242.0,368.30L242.5,368.30L243.0,368.30L243.5,368.30L244.0,368.30L244.5,368.30L245.0,368.06L245.5,367.58L246.0,368.30L246.5,368.30L247.0,368.30L247.5,368.30L248.0,368.30L248.5,368.30L249.0,367.94L249.5,367.69L250.0,367.60L250.5,367.69L251.0,367.94L251.5,368.30L252.0,368.30L252.5,366.96L253.0,368.19L253.5,368.30L254.0,368.30L254.5,367.84L255.0,367.40L255.5,367.10L256.0,367.00L256.5,367.10L257.0,367.40L257.5,367.84L258.0,368.36L258.5,367.98L259.0,368.35L259.5,369.30L260.0,369.30L260.5,369.30L261.0,369.00L261.5,369.30L262.0,369.30L262.5,369.93L263.0,370.55L263.5,370.30L264.0,370.58L264.5,370.77L265.0,368.37L265.5,365.33L266.0,364.72L266.5,367.76L267.0,369.53L267.5,368.27L268.0,367.00L268.5,367.00L269.0,367.00L269.5,367.00L270.0,367.00L270.5,367.00L271.0,367.00L271.5,367.00L272.0,367.00L272.5,367.00L273.0,367.00L273.5,367.00L274.0,367.00L274.5,367.00L275.0,367.00L275.5,367.00L276.0,367.00L276.5,367.00L277.0,367.00L277.5,367.00L278.0,367.00L278.5,367.00L279.0,367.00L279.5,367.00L280.0,367.00L280.5,368.27L281.0,369.53L281.5,370.07L282.0,369.40L282.5,368.61L283.0,367.98L283.5,367.81L284.0,368.19L284.5,368.93L285.0,369.60L285.5,369.60L286.0,369.60L286.5,369.07L287.0,369.60L287.5,369.60L288.0,369.60L288.5,369.60L289.0,369.60L289.5,369.60L290.0,369.60L290.5,369.37L291.0,369.54L291.5,369.60L292.0,369.60L292.5,369.41L293.0,369.60L293.5,369.60L294.0,369.60L294.5,369.60L295.0,369.60L295.5,369.93L296.0,370.01L296.5,370.04L297.0,370.40L297.5,370.40L298.0,370.25L298.5,370.40L299.0,369.91L299.5,370.40L300.0,370.00L300.5,370.37L301.0,370.17L301.5,370.24L302.0,370.18L302.5,370.09L303.0,369.97L303.5,369.92L304.0,370.18L304.5,369.92L305.0,369.92L305.5,370.40L306.0,369.84L306.5,370.13L307.0,370.14L307.5,370.00L308.0,370.31L308.5,370.27L309.0,370.04L309.5,370.40L310.0,370.40L310.5,370.40L311.0,370.09L311.5,370.40L312.0,370.40L312.5,370.40L313.0,370.06L313.5,369.97L314.0,370.02L314.5,370.38L315.0,370.40L315.5,370.20L316.0,370.20L316.5,370.27L317.0,370.13L317.5,370.31L318.0,370.14L318.5,370.24L319.0,370.03L319.5,370.11L320.0,369.99L320.5,370.13L321.0,370.40L321.5,370.35L322.0,369.98L322.5,369.94L323.0,370.14L323.5,369.90L324.0,370.06L324.5,370.31L325.0,370.22L325.5,370.40L326.0,370.37L326.5,370.15L327.0,369.98L327.5,370.04L328.0,370.26L328.5,369.83L329.0,370.00L329.5,370.21L330.0,370.40L330.5,370.40L331.0,370.01L331.5,369.52L332.0,369.05L332.5,369.11L333.0,369.65L333.5,370.12L334.0,370.07L334.5,370.37L335.0,370.33L335.5,370.40L336.0,370.25L336.5,370.40L337.0,370.09L337.5,369.83L338.0,370.40L338.5,370.25L339.0,370.40L339.5,370.40L340.0,369.93L340.5,370.02L341.0,369.94L341.5,370.05L342.0,370.40L342.5,370.39L343.0,370.23L343.5,370.40L344.0,370.25L344.5,370.40L345.0,370.40L345.5,370.32L346.0,369.98L346.5,370.40L347.0,370.31L347.5,370.40L348.0,370.15L348.5,370.40L349.0,370.40L349.5,370.14L350.0,370.40L350.5,370.40L351.0,370.40L351.5,370.17L352.0,370.23L352.5,370.40L353.0,370.02L353.5,370.40L354.0,370.11L354.5,370.40L355.0,370.35L355.5,369.86L356.0,370.26L356.5,370.40L357.0,370.40L357.5,370.22L358.0,369.77L358.5,368.83L359.0,369.80L359.5,369.80L360.0,369.54L360.5,369.48L361.0,369.80L361.5,369.80L362.0,368.36L362.5,368.63L363.0,369.80L363.5,369.80L364.0,369.12L364.5,369.16L365.0,369.80L365.5,369.28L366.0,369.03L366.5,369.18L367.0,367.81L367.5,369.24L368.0,368.30L368.5,365.80L369.0,365.30L369.5,367.80L370.0,367.68L370.5,367.04L371.0,366.80L371.5,367.04L372.0,367.68L372.5,368.52L373.0,368.90L373.5,369.38L374.0,369.80L374.5,369.80L375.0,369.80L375.5,369.73L376.0,369.80L376.5,368.57L377.0,368.43L377.5,367.04L378.0,368.07L378.5,369.77L379.0,369.80L379.5,369.40L380.0,368.79L380.5,369.80L381.0,369.80L381.5,369.32L382.0,369.80L382.5,369.80L383.0,368.51L383.5,369.48L384.0,369.80L384.5,369.75L385.0,369.80L385.5,370.07L386.0,369.99L386.5,370.31L387.0,370.07L387.5,370.40L388.0,369.94L388.5,370.37L389.0,370.13L389.5,369.96L390.0,370.40L390.5,370.40L391.0,370.40L391.5,370.03L392.0,370.03L392.5,369.83L393.0,369.99L393.5,370.13L394.0,369.94L394.5,369.92L395.0,369.92L395.5,370.15L396.0,370.40L396.5,370.40L397.0,370.32L397.5,370.40L398.0,370.25L398.5,370.40L399.0,370.39L399.5,369.97L400.0,370.28L400.5,370.30L401.0,370.15L401.5,370.63L402.0,370.08L402.5,370.11L403.0,370.07L403.5,370.39L404.0,370.31L404.5,370.73L405.0,370.39L405.5,370.22L406.0,369.95L406.5,369.99L407.0,370.49L407.5,370.12L408.0,370.03L408.5,369.93L409.0,370.19L409.5,370.50L410.0,370.01L410.5,370.79L411.0,370.29L411.5,370.39L412.0,370.01L412.5,370.24L413.0,370.62L413.5,370.65L414.0,370.77L414.5,370.12L415.0,370.10L415.5,370.46L416.0,370.60L416.5,370.30L417.0,370.62L417.5,370.33L418.0,370.49L418.5,370.51L419.0,370.18L419.5,370.58L420.0,370.50L420.5,370.29L421.0,369.95L421.5,370.66L422.0,370.52L422.5,370.55L423.0,370.52L423.5,370.36L424.0,370.06L424.5,370.64L425.0,370.15L425.5,370.41L426.0,370.29L426.5,370.35L427.0,370.26L427.5,370.26L428.0,370.18L428.5,370.10L429.0,370.05L429.5,370.01L430.0,370.00L430.5,369.91L431.0,370.05L431.5,370.10L432.0,370.18L432.5,370.18L433.0,370.34L433.5,370.14L434.0,370.51L434.5,370.53L435.0,370.24L435.5,370.68L436.0,370.41L436.5,369.90L437.0,370.14L437.5,370.45L438.0,369.98L438.5,370.29L439.0,370.07L439.5,370.49L440.0,370.46L440.5,370.17L441.0,370.12L441.5,370.18L442.0,370.66L442.5,370.42L443.0,370.51L443.5,370.59L444.0,370.70L444.5,370.13L445.0,370.67L445.5,370.48L446.0,370.78L446.5,370.17L447.0,370.24L447.5,370.73L448.0,369.94L448.5,369.90L449.0,370.12L449.5,370.07L450.0,370.17L450.5,370.55L451.0,370.47L451.5,370.38L452.0,370.29L452.5,370.19L453.0,370.10L453.5,370.02L454.0,369.95L454.5,369.91L455.0,369.90L455.5,369.91L456.0,369.95L456.5,370.02L457.0,370.10L457.5,370.14L458.0,370.02L458.5,370.20L459.0,370.47L459.5,369.93L460.0,370.61L460.5,370.43L461.0,370.00L461.5,370.19L462.0,370.36L462.5,370.06L463.0,370.03L463.5,369.87L464.0,369.73L464.5,369.63L465.0,369.60L465.5,369.63L466.0,369.73L466.5,369.87L467.0,370.03L467.5,370.20L468.0,370.28L468.5,370.49L469.0,370.24L469.5,370.51L470.0,369.90L470.5,370.49L471.0,370.09L471.5,370.05L472.0,370.46L472.5,370.27L473.0,370.59L473.5,370.46L474.0,370.40L474.5,370.16L475.0,370.34L475.5,370.66L476.0,370.22L476.5,370.34L477.0,370.33L477.5,370.40L478.0,370.02L478.5,370.21L479.0,370.20L479.5,370.35L480.0,370.44L480.5,370.42L481.0,370.19L481.5,370.41L482.0,370.74L482.5,370.60L483.0,370.75L483.5,370.73L484.0,370.48L484.5,370.46L485.0,370.39L485.5,370.52L486.0,370.43L486.5,370.33L487.0,370.23L487.5,370.12L488.0,370.02L488.5,369.93L489.0,369.86L489.5,369.82L490.0,369.80L490.5,369.82L491.0,369.86L491.5,369.93L492.0,369.92L492.5,370.12L493.0,370.06L493.5,370.04L494.0,370.43L494.5,370.52L495.0,370.09L495.5,370.45L496.0,369.99L496.5,370.73L497.0,369.96L497.5,370.24L498.0,370.43L498.5,370.05L499.0,370.32L499.5,370.39L500.0,370.63L500.5,370.09L501.0,370.67L501.5,370.53L502.0,370.72L502.5,370.79L503.0,370.53L503.5,370.76L504.0,370.38L504.5,370.49L505.0,370.78L505.5,370.38L506.0,370.54L506.5,370.59L507.0,370.31L507.5,370.50L508.0,370.75L508.5,369.96L509.0,369.93L509.5,370.59L510.0,370.21" fill="none" stroke="#e2535e" stroke-width="0.5"/>
<line x1="67.00" y1="370.80" x2="400.00" y2="370.80" stroke="#e2535e" stroke-width="1.0"/>
<line x1="402.00" y1="370.80" x2="462.00" y2="370.80" stroke="#e2535e" stroke-width="1.0"/>
<line x1="470.00" y1="370.80" x2="476.00" y2="370.80" stroke="#e2535e" stroke-width="1.0"/>
<line x1="480.00" y1="370.80" x2="495.00" y2="370.80" stroke="#e2535e" stroke-width="1.0"/>
<line x1="498.00" y1="370.80" x2="500.00" y2="370.80" stroke="#e2535e" stroke-width="1.0"/>
<line x1="504.00" y1="370.80" x2="510.00" y2="370.80" stroke="#e2535e" stroke-width="1.0"/>
<path d="M165.0,387.6L165.0,387.45L165.5,387.23L166.0,387.26L166.5,387.51L167.0,387.25L167.5,387.35L168.0,387.58L168.5,387.22L169.0,387.50L169.5,387.48L170.0,387.43L170.5,387.36L171.0,387.55L171.5,387.33L172.0,387.27L172.5,387.30L173.0,386.71L173.5,386.85L174.0,386.40L174.5,386.06L175.0,386.03L175.5,386.31L176.0,386.76L176.5,387.10L177.0,387.30L177.5,387.30L178.0,387.30L178.5,387.25L179.0,387.24L179.5,387.30L180.0,387.27L180.5,387.23L181.0,387.30L181.5,387.27L182.0,386.64L182.5,386.83L183.0,387.30L183.5,387.30L184.0,387.27L184.5,387.30L185.0,387.30L185.5,387.02L186.0,387.03L186.5,387.30L187.0,387.30L187.5,387.30L188.0,387.18L188.5,387.27L189.0,387.30L189.5,386.98L190.0,387.24L190.5,387.27L191.0,387.30L191.5,387.02L192.0,386.59L192.5,386.18L193.0,385.63L193.5,385.27L194.0,385.23L194.5,385.54L195.0,386.06L195.5,386.62L196.0,387.06L196.5,387.03L197.0,387.00L197.5,387.30L198.0,387.22L198.5,387.30L199.0,387.30L199.5,386.90L200.0,386.40L200.5,385.04L201.0,386.40L201.5,386.40L202.0,385.66L202.5,385.85L203.0,386.40L203.5,386.40L204.0,386.40L204.5,386.40L205.0,386.12L205.5,385.58L206.0,385.16L206.5,385.00L207.0,385.16L207.5,385.58L208.0,386.12L208.5,386.40L209.0,386.40L209.5,386.40L210.0,385.01L210.5,385.94L211.0,385.42L211.5,384.97L212.0,384.80L212.5,384.97L213.0,385.42L213.5,386.00L214.0,386.40L214.5,386.40L215.0,386.40L215.5,385.06L216.0,386.40L216.5,386.40L217.0,386.40L217.5,386.40L218.0,386.18L218.5,386.40L219.0,386.40L219.5,386.22L220.0,386.40L220.5,386.40L221.0,386.40L221.5,386.40L222.0,386.33L222.5,386.90L223.0,387.40L223.5,387.24L224.0,387.47L224.5,387.53L225.0,387.28L225.5,387.49L226.0,387.31L226.5,387.32L227.0,387.48L227.5,387.42L228.0,387.48L228.5,387.28L229.0,387.49L229.5,387.49L230.0,387.26L230.5,387.49L231.0,387.43L231.5,387.39L232.0,387.60L232.5,387.49L233.0,387.30L233.5,387.21L234.0,387.46L234.5,387.41L235.0,387.58L235.5,387.40L236.0,387.46L236.5,387.40L237.0,387.48L237.5,387.47L238.0,387.23L238.5,387.29L239.0,387.46L239.5,387.57L240.0,387.57L240.5,387.56L241.0,387.55L241.5,387.37L242.0,387.39L242.5,387.49L243.0,387.25L243.5,387.33L244.0,387.23L244.5,387.07L245.0,386.87L245.5,386.61L246.0,386.31L246.5,385.97L247.0,385.61L247.5,385.23L248.0,384.87L248.5,384.56L249.0,384.31L249.5,384.15L250.0,384.10L250.5,384.15L251.0,384.31L251.5,384.54L252.0,384.21L252.5,383.88L253.0,383.55L253.5,383.24L254.0,382.94L254.5,382.66L255.0,382.41L255.5,382.20L256.0,382.03L256.5,381.90L257.0,381.83L257.5,381.80L258.0,381.83L258.5,381.90L259.0,379.37L259.5,380.06L260.0,382.41L260.5,382.66L261.0,382.94L261.5,383.14L262.0,383.10L262.5,383.14L263.0,383.28L263.5,383.49L264.0,382.89L264.5,382.46L265.0,384.46L265.5,384.84L266.0,385.23L266.5,385.60L267.0,385.94L267.5,386.26L268.0,386.53L268.5,386.77L269.0,386.97L269.5,387.13L270.0,387.24L270.5,387.31L271.0,387.37L271.5,387.13L272.0,386.80L272.5,386.80L273.0,386.69L273.5,386.80L274.0,386.66L274.5,385.86L275.0,386.80L275.5,386.80L276.0,386.80L276.5,386.80L277.0,386.40L277.5,386.65L278.0,386.58L278.5,386.36L279.0,386.80L279.5,386.80L280.0,386.80L280.5,386.80L281.0,386.80L281.5,386.80L282.0,386.80L282.5,386.80L283.0,386.80L283.5,386.80L284.0,386.80L284.5,386.80L285.0,386.80L285.5,387.13L286.0,387.47L286.5,387.25L287.0,387.40L287.5,387.50L288.0,387.38L288.5,387.49L289.0,387.24L289.5,387.43L290.0,387.57L290.5,387.51L291.0,387.58L291.5,387.29L292.0,387.56L292.5,387.41L293.0,387.36L293.5,387.56L294.0,387.34L294.5,387.35L295.0,387.23L295.5,387.23L296.0,387.21L296.5,387.39L297.0,387.41L297.5,387.43L298.0,387.55L298.5,387.36L299.0,387.20L299.5,387.40L300.0,387.26L300.0,387.6Z" fill="#f29892" stroke="none"/>
<path d="M165.0,387.45L165.5,387.23L166.0,387.26L166.5,387.51L167.0,387.25L167.5,387.35L168.0,387.58L168.5,387.22L169.0,387.50L169.5,387.48L170.0,387.43L170.5,387.36L171.0,387.55L171.5,387.33L172.0,387.27L172.5,387.30L173.0,386.71L173.5,386.85L174.0,386.40L174.5,386.06L175.0,386.03L175.5,386.31L176.0,386.76L176.5,387.10L177.0,387.30L177.5,387.30L178.0,387.30L178.5,387.25L179.0,387.24L179.5,387.30L180.0,387.27L180.5,387.23L181.0,387.30L181.5,387.27L182.0,386.64L182.5,386.83L183.0,387.30L183.5,387.30L184.0,387.27L184.5,387.30L185.0,387.30L185.5,387.02L186.0,387.03L186.5,387.30L187.0,387.30L187.5,387.30L188.0,387.18L188.5,387.27L189.0,387.30L189.5,386.98L190.0,387.24L190.5,387.27L191.0,387.30L191.5,387.02L192.0,386.59L192.5,386.18L193.0,385.63L193.5,385.27L194.0,385.23L194.5,385.54L195.0,386.06L195.5,386.62L196.0,387.06L196.5,387.03L197.0,387.00L197.5,387.30L198.0,387.22L198.5,387.30L199.0,387.30L199.5,386.90L200.0,386.40L200.5,385.04L201.0,386.40L201.5,386.40L202.0,385.66L202.5,385.85L203.0,386.40L203.5,386.40L204.0,386.40L204.5,386.40L205.0,386.12L205.5,385.58L206.0,385.16L206.5,385.00L207.0,385.16L207.5,385.58L208.0,386.12L208.5,386.40L209.0,386.40L209.5,386.40L210.0,385.01L210.5,385.94L211.0,385.42L211.5,384.97L212.0,384.80L212.5,384.97L213.0,385.42L213.5,386.00L214.0,386.40L214.5,386.40L215.0,386.40L215.5,385.06L216.0,386.40L216.5,386.40L217.0,386.40L217.5,386.40L218.0,386.18L218.5,386.40L219.0,386.40L219.5,386.22L220.0,386.40L220.5,386.40L221.0,386.40L221.5,386.40L222.0,386.33L222.5,386.90L223.0,387.40L223.5,387.24L224.0,387.47L224.5,387.53L225.0,387.28L225.5,387.49L226.0,387.31L226.5,387.32L227.0,387.48L227.5,387.42L228.0,387.48L228.5,387.28L229.0,387.49L229.5,387.49L230.0,387.26L230.5,387.49L231.0,387.43L231.5,387.39L232.0,387.60L232.5,387.49L233.0,387.30L233.5,387.21L234.0,387.46L234.5,387.41L235.0,387.58L235.5,387.40L236.0,387.46L236.5,387.40L237.0,387.48L237.5,387.47L238.0,387.23L238.5,387.29L239.0,387.46L239.5,387.57L240.0,387.57L240.5,387.56L241.0,387.55L241.5,387.37L242.0,387.39L242.5,387.49L243.0,387.25L243.5,387.33L244.0,387.23L244.5,387.07L245.0,386.87L245.5,386.61L246.0,386.31L246.5,385.97L247.0,385.61L247.5,385.23L248.0,384.87L248.5,384.56L249.0,384.31L249.5,384.15L250.0,384.10L250.5,384.15L251.0,384.31L251.5,384.54L252.0,384.21L252.5,383.88L253.0,383.55L253.5,383.24L254.0,382.94L254.5,382.66L255.0,382.41L255.5,382.20L256.0,382.03L256.5,381.90L257.0,381.83L257.5,381.80L258.0,381.83L258.5,381.90L259.0,379.37L259.5,380.06L260.0,382.41L260.5,382.66L261.0,382.94L261.5,383.14L262.0,383.10L262.5,383.14L263.0,383.28L263.5,383.49L264.0,382.89L264.5,382.46L265.0,384.46L265.5,384.84L266.0,385.23L266.5,385.60L267.0,385.94L267.5,386.26L268.0,386.53L268.5,386.77L269.0,386.97L269.5,387.13L270.0,387.24L270.5,387.31L271.0,387.37L271.5,387.13L272.0,386.80L272.5,386.80L273.0,386.69L273.5,386.80L274.0,386.66L274.5,385.86L275.0,386.80L275.5,386.80L276.0,386.80L276.5,386.80L277.0,386.40L277.5,386.65L278.0,386.58L278.5,386.36L279.0,386.80L279.5,386.80L280.0,386.80L280.5,386.80L281.0,386.80L281.5,386.80L282.0,386.80L282.5,386.80L283.0,386.80L283.5,386.80L284.0,386.80L284.5,386.80L285.0,386.80L285.5,387.13L286.0,387.47L286.5,387.25L287.0,387.40L287.5,387.50L288.0,387.38L288.5,387.49L289.0,387.24L289.5,387.43L290.0,387.57L290.5,387.51L291.0,387.58L291.5,387.29L292.0,387.56L292.5,387.41L293.0,387.36L293.5,387.56L294.0,387.34L294.5,387.35L295.0,387.23L295.5,387.23L296.0,387.21L296.5,387.39L297.0,387.41L297.5,387.43L298.0,387.55L298.5,387.36L299.0,387.20L299.5,387.40L300.0,387.26" fill="none" stroke="#e2535e" stroke-width="0.5"/>
<line x1="165.00" y1="387.60" x2="300.00" y2="387.60" stroke="#e87880" stroke-width="0.7"/>
<line x1="81" y1="387.6" x2="121" y2="387.6" stroke="#eaa0a6" stroke-width="0.8" stroke-dasharray="1.2 0.8"/>
<line x1="127" y1="387.6" x2="130" y2="387.6" stroke="#eaa0a6" stroke-width="0.8" stroke-dasharray="1.2 0.8"/>
<line x1="140" y1="387.6" x2="142.5" y2="387.6" stroke="#eaa0a6" stroke-width="0.8" stroke-dasharray="1.2 0.8"/>
<line x1="158" y1="387.6" x2="160.5" y2="387.6" stroke="#eaa0a6" stroke-width="0.8" stroke-dasharray="1.2 0.8"/>
<line x1="333" y1="387.6" x2="336.6" y2="387.6" stroke="#eaa0a6" stroke-width="0.8" stroke-dasharray="1.2 0.8"/>
<line x1="350.5" y1="387.6" x2="352.5" y2="387.6" stroke="#eaa0a6" stroke-width="0.8" stroke-dasharray="1.2 0.8"/>
<line x1="364.3" y1="387.6" x2="377" y2="387.6" stroke="#eaa0a6" stroke-width="0.8" stroke-dasharray="1.2 0.8"/>
<line x1="388.5" y1="387.6" x2="395.5" y2="387.6" stroke="#eaa0a6" stroke-width="0.8" stroke-dasharray="1.2 0.8"/>
<line x1="420" y1="387.6" x2="425" y2="387.6" stroke="#eaa0a6" stroke-width="0.8" stroke-dasharray="1.2 0.8"/>
<line x1="432" y1="387.6" x2="436" y2="387.6" stroke="#eaa0a6" stroke-width="0.8" stroke-dasharray="1.2 0.8"/>
<line x1="441" y1="387.6" x2="445" y2="387.6" stroke="#eaa0a6" stroke-width="0.8" stroke-dasharray="1.2 0.8"/>
<line x1="450" y1="387.6" x2="455" y2="387.6" stroke="#eaa0a6" stroke-width="0.8" stroke-dasharray="1.2 0.8"/>
<line x1="467" y1="387.6" x2="471" y2="387.6" stroke="#eaa0a6" stroke-width="0.8" stroke-dasharray="1.2 0.8"/>
<line x1="489" y1="387.6" x2="492" y2="387.6" stroke="#eaa0a6" stroke-width="0.8" stroke-dasharray="1.2 0.8"/>
<line x1="500" y1="387.6" x2="505" y2="387.6" stroke="#eaa0a6" stroke-width="0.8" stroke-dasharray="1.2 0.8"/>
<path d="M67.0,403.9L67.0,403.51L67.5,403.48L68.0,403.33L68.5,403.78L69.0,403.86L69.5,403.41L70.0,403.70L70.5,403.68L71.0,403.41L71.5,403.79L72.0,403.35L72.5,403.61L73.0,403.86L73.5,403.35L74.0,403.56L74.5,403.85L75.0,403.40L75.5,403.44L76.0,403.46L76.5,403.51L77.0,403.30L77.5,403.89L78.0,403.32L78.5,403.51L79.0,403.75L79.5,403.53L80.0,403.50L80.5,403.46L81.0,403.48L81.5,403.50L82.0,403.50L82.5,403.50L83.0,403.48L83.5,403.45L84.0,403.34L84.5,403.11L85.0,403.50L85.5,403.50L86.0,403.28L86.5,403.15L87.0,403.30L87.5,403.50L88.0,403.32L88.5,403.13L89.0,403.43L89.5,403.50L90.0,403.43L90.5,403.50L91.0,403.50L91.5,403.44L92.0,403.41L92.5,403.50L93.0,403.50L93.5,403.43L94.0,403.50L94.5,403.50L95.0,403.29L95.5,403.50L96.0,403.50L96.5,403.20L97.0,403.32L97.5,403.50L98.0,403.50L98.5,403.67L99.0,403.69L99.5,402.85L100.0,401.83L100.5,402.31L101.0,402.70L101.5,402.18L102.0,402.70L102.5,402.00L103.0,401.51L103.5,400.63L104.0,399.95L104.5,399.70L105.0,399.95L105.5,400.63L106.0,401.51L106.5,401.57L107.0,402.68L107.5,402.70L108.0,402.70L108.5,402.70L109.0,402.50L109.5,401.73L110.0,400.94L110.5,400.33L111.0,400.10L111.5,400.33L112.0,400.94L112.5,401.73L113.0,402.50L113.5,402.70L114.0,402.70L114.5,402.05L115.0,402.70L115.5,402.48L116.0,401.95L116.5,401.55L117.0,401.40L117.5,401.55L118.0,401.95L118.5,402.48L119.0,402.70L119.5,402.70L120.0,402.61L120.5,402.36L121.0,402.70L121.5,402.70L122.0,402.67L122.5,403.20L123.0,403.70L123.5,403.62L124.0,403.40L124.5,403.64L125.0,403.72L125.5,403.78L126.0,403.41L126.5,403.81L127.0,403.47L127.5,403.30L128.0,403.48L128.5,403.36L129.0,403.83L129.5,403.54L130.0,403.50L130.5,403.50L131.0,403.46L131.5,403.50L132.0,403.50L132.5,403.50L133.0,403.50L133.5,403.35L134.0,403.50L134.5,403.30L135.0,402.77L135.5,403.50L136.0,403.34L136.5,403.13L137.0,403.39L137.5,403.50L138.0,403.39L138.5,403.36L139.0,403.50L139.5,403.34L140.0,403.50L140.5,403.50L141.0,403.50L141.5,403.44L142.0,403.46L142.5,403.50L143.0,403.50L143.5,403.24L144.0,403.50L144.5,403.50L145.0,403.50L145.5,403.46L146.0,403.35L146.5,403.32L147.0,403.50L147.5,403.39L148.0,403.50L148.5,403.50L149.0,403.46L149.5,403.20L150.0,402.67L150.5,403.28L151.0,403.40L151.5,403.31L152.0,403.50L152.5,403.50L153.0,403.50L153.5,403.50L154.0,403.12L154.5,403.24L155.0,403.34L155.5,403.48L156.0,403.07L156.5,402.56L157.0,403.21L157.5,403.50L158.0,403.31L158.5,403.05L159.0,402.59L159.5,403.25L160.0,403.33L160.5,403.42L161.0,403.79L161.5,403.42L162.0,403.77L162.5,403.58L163.0,403.53L163.5,403.31L164.0,402.94L164.5,401.35L165.0,399.75L165.5,398.15L166.0,396.56L166.5,395.60L167.0,395.60L167.5,395.60L168.0,395.60L168.5,395.60L169.0,395.60L169.5,396.24L170.0,397.40L170.5,397.40L171.0,397.40L171.5,397.40L172.0,397.40L172.5,397.40L173.0,397.40L173.5,398.21L174.0,399.57L174.5,400.92L175.0,402.27L175.5,403.63L176.0,403.58L176.5,403.39L177.0,403.51L177.5,402.97L178.0,402.30L178.5,401.63L179.0,400.97L179.5,400.30L180.0,399.63L180.5,398.97L181.0,398.30L181.5,397.90L182.0,397.90L182.5,397.90L183.0,397.90L183.5,397.90L184.0,397.90L184.5,397.90L185.0,397.90L185.5,397.90L186.0,398.30L186.5,398.97L187.0,399.63L187.5,398.50L188.0,400.97L188.5,401.63L189.0,402.10L189.5,402.10L190.0,400.72L190.5,401.90L191.0,401.90L191.5,401.90L192.0,400.97L192.5,401.82L193.0,401.90L193.5,401.90L194.0,401.90L194.5,401.90L195.0,401.90L195.5,401.90L196.0,401.53L196.5,401.90L197.0,401.87L197.5,401.50L198.0,401.21L198.5,401.90L199.0,401.90L199.5,401.90L200.0,401.90L200.5,401.85L201.0,401.90L201.5,401.90L202.0,401.90L202.5,401.90L203.0,401.90L203.5,401.90L204.0,401.90L204.5,401.90L205.0,401.52L205.5,401.90L206.0,401.90L206.5,401.90L207.0,401.19L207.5,401.55L208.0,401.90L208.5,401.90L209.0,401.81L209.5,401.90L210.0,400.60L210.5,401.90L211.0,401.90L211.5,401.17L212.0,401.20L212.5,401.02L213.0,400.91L213.5,401.16L214.0,401.68L214.5,401.90L215.0,401.90L215.5,401.90L216.0,401.90L216.5,400.69L217.0,401.77L217.5,401.90L218.0,401.90L218.5,402.73L219.0,403.56L219.5,403.71L220.0,403.70L220.5,403.75L221.0,403.46L221.5,403.89L222.0,403.54L222.5,403.50L223.0,403.63L223.5,403.65L224.0,403.43L224.5,403.60L225.0,403.87L225.5,403.47L226.0,403.32L226.5,403.31L227.0,403.38L227.5,403.87L228.0,403.56L228.5,403.79L229.0,403.40L229.5,403.82L230.0,403.60L230.5,403.36L231.0,403.78L231.5,403.45L232.0,403.31L232.5,403.64L233.0,403.61L233.5,403.85L234.0,403.35L234.5,403.80L235.0,403.45L235.5,403.47L236.0,403.74L236.5,403.31L237.0,403.34L237.5,403.53L238.0,403.65L238.5,403.61L239.0,403.64L239.5,403.50L240.0,403.31L240.5,403.84L241.0,403.73L241.5,403.58L242.0,403.53L242.5,403.48L243.0,403.35L243.5,403.02L244.0,402.40L244.5,402.31L245.0,402.40L245.5,402.40L246.0,402.40L246.5,402.40L247.0,402.40L247.5,402.40L248.0,402.35L248.5,402.25L249.0,402.40L249.5,402.40L250.0,402.40L250.5,401.19L251.0,399.50L251.5,401.19L252.0,402.00L252.5,402.40L253.0,402.40L253.5,402.19L254.0,401.98L254.5,401.77L255.0,401.44L255.5,399.90L256.0,401.22L256.5,401.08L257.0,400.98L257.5,400.92L258.0,400.90L258.5,400.92L259.0,400.98L259.5,401.08L260.0,401.22L260.5,401.38L261.0,401.56L261.5,401.77L262.0,401.98L262.5,401.87L263.0,401.89L263.5,402.40L264.0,402.15L264.5,402.18L265.0,401.10L265.5,402.18L266.0,402.40L266.5,402.40L267.0,402.40L267.5,402.40L268.0,402.01L268.5,402.40L269.0,402.40L269.5,402.40L270.0,402.27L270.5,402.40L271.0,402.40L271.5,402.40L272.0,401.42L272.5,402.27L273.0,402.40L273.5,402.40L274.0,402.24L274.5,402.40L275.0,402.40L275.5,403.02L276.0,403.41L276.5,403.45L277.0,403.61L277.5,403.86L278.0,403.63L278.5,403.32L279.0,403.83L279.5,403.65L280.0,403.44L280.5,403.75L281.0,403.69L281.5,403.59L282.0,403.63L282.5,403.51L283.0,403.32L283.5,403.90L284.0,403.48L284.5,403.66L285.0,403.83L285.5,403.49L286.0,403.47L286.5,403.45L287.0,403.56L287.5,403.89L288.0,403.73L288.5,403.45L289.0,403.78L289.5,403.50L290.0,403.71L290.5,403.57L291.0,403.46L291.5,403.70L292.0,403.82L292.5,403.32L293.0,403.63L293.5,403.42L294.0,403.66L294.5,403.50L295.0,403.42L295.5,403.46L296.0,403.37L296.5,403.29L297.0,403.20L297.5,403.12L298.0,403.05L298.5,402.99L299.0,402.94L299.5,402.91L300.0,402.90L300.5,402.91L301.0,402.94L301.5,402.99L302.0,403.05L302.5,403.12L303.0,403.20L303.5,403.29L304.0,403.37L304.5,403.46L305.0,403.53L305.5,403.60L306.0,403.66L306.5,403.72L307.0,403.36L307.5,403.58L308.0,403.79L308.5,403.76L309.0,403.73L309.5,403.33L310.0,403.43L310.5,403.71L311.0,403.72L311.5,403.42L312.0,403.67L312.5,403.61L313.0,403.68L313.5,403.66L314.0,403.35L314.5,403.52L315.0,403.32L315.5,403.66L316.0,403.31L316.5,403.47L317.0,403.40L317.5,403.64L318.0,403.76L318.5,403.39L319.0,403.82L319.5,403.56L320.0,403.60L320.5,403.31L321.0,403.46L321.5,403.45L322.0,403.86L322.5,403.69L323.0,403.50L323.5,403.35L324.0,403.43L324.5,403.32L325.0,403.40L325.5,403.58L326.0,403.32L326.5,403.77L327.0,403.60L327.5,403.76L328.0,403.37L328.5,403.59L329.0,403.71L329.5,403.33L330.0,403.75L330.5,403.35L331.0,403.55L331.5,403.40L332.0,403.33L332.5,403.60L333.0,403.82L333.5,403.52L334.0,403.41L334.5,403.80L335.0,403.82L335.5,403.83L336.0,403.64L336.5,403.43L337.0,403.35L337.5,403.80L338.0,403.61L338.5,403.58L339.0,403.38L339.5,403.76L340.0,403.73L340.5,403.70L341.0,403.67L341.5,403.64L342.0,403.61L342.5,403.32L343.0,403.53L343.5,403.36L344.0,403.44L344.5,403.40L345.0,403.36L345.5,403.32L346.0,403.28L346.5,403.24L347.0,403.20L347.5,403.17L348.0,403.15L348.5,403.13L349.0,403.11L349.5,403.10L350.0,403.10L350.5,403.10L351.0,403.11L351.5,403.13L352.0,403.15L352.5,403.17L353.0,403.20L353.5,403.24L354.0,403.28L354.5,403.32L355.0,403.36L355.5,403.30L356.0,403.44L356.5,403.49L357.0,403.53L357.5,403.57L358.0,403.61L358.5,403.64L359.0,403.53L359.5,403.70L360.0,403.51L360.5,403.76L361.0,403.78L361.5,403.41L362.0,403.82L362.5,403.61L363.0,403.83L363.5,403.62L364.0,403.36L364.5,403.57L365.0,403.39L365.5,403.54L366.0,403.76L366.5,403.81L367.0,403.40L367.5,403.44L368.0,403.87L368.5,403.35L369.0,403.49L369.5,403.37L370.0,403.66L370.5,403.42L371.0,403.65L371.5,403.52L372.0,403.46L372.5,402.94L373.0,402.23L373.5,401.57L374.0,401.30L374.5,401.57L375.0,402.23L375.5,402.94L376.0,403.46L376.5,403.64L377.0,403.41L377.5,403.86L378.0,403.78L378.5,403.33L379.0,403.38L379.5,403.36L380.0,403.46L380.5,403.59L381.0,403.64L381.5,403.83L382.0,403.47L382.5,403.56L383.0,403.54L383.5,403.64L384.0,403.44L384.5,403.43L385.0,403.53L385.5,403.58L386.0,403.67L386.5,403.52L387.0,403.33L387.5,403.77L388.0,403.71L388.5,403.40L389.0,403.75L389.5,403.61L390.0,403.31L390.5,403.69L391.0,403.80L391.5,403.43L392.0,403.55L392.5,403.49L393.0,403.36L393.5,403.66L394.0,403.63L394.5,403.41L395.0,403.87L395.5,403.63L396.0,403.72L396.5,403.46L397.0,403.65L397.5,403.85L398.0,403.57L398.5,403.31L399.0,403.83L399.5,403.86L400.0,403.82L400.0,403.9Z" fill="#f29892" stroke="none"/>
<path d="M67.0,403.51L67.5,403.48L68.0,403.33L68.5,403.78L69.0,403.86L69.5,403.41L70.0,403.70L70.5,403.68L71.0,403.41L71.5,403.79L72.0,403.35L72.5,403.61L73.0,403.86L73.5,403.35L74.0,403.56L74.5,403.85L75.0,403.40L75.5,403.44L76.0,403.46L76.5,403.51L77.0,403.30L77.5,403.89L78.0,403.32L78.5,403.51L79.0,403.75L79.5,403.53L80.0,403.50L80.5,403.46L81.0,403.48L81.5,403.50L82.0,403.50L82.5,403.50L83.0,403.48L83.5,403.45L84.0,403.34L84.5,403.11L85.0,403.50L85.5,403.50L86.0,403.28L86.5,403.15L87.0,403.30L87.5,403.50L88.0,403.32L88.5,403.13L89.0,403.43L89.5,403.50L90.0,403.43L90.5,403.50L91.0,403.50L91.5,403.44L92.0,403.41L92.5,403.50L93.0,403.50L93.5,403.43L94.0,403.50L94.5,403.50L95.0,403.29L95.5,403.50L96.0,403.50L96.5,403.20L97.0,403.32L97.5,403.50L98.0,403.50L98.5,403.67L99.0,403.69L99.5,402.85L100.0,401.83L100.5,402.31L101.0,402.70L101.5,402.18L102.0,402.70L102.5,402.00L103.0,401.51L103.5,400.63L104.0,399.95L104.5,399.70L105.0,399.95L105.5,400.63L106.0,401.51L106.5,401.57L107.0,402.68L107.5,402.70L108.0,402.70L108.5,402.70L109.0,402.50L109.5,401.73L110.0,400.94L110.5,400.33L111.0,400.10L111.5,400.33L112.0,400.94L112.5,401.73L113.0,402.50L113.5,402.70L114.0,402.70L114.5,402.05L115.0,402.70L115.5,402.48L116.0,401.95L116.5,401.55L117.0,401.40L117.5,401.55L118.0,401.95L118.5,402.48L119.0,402.70L119.5,402.70L120.0,402.61L120.5,402.36L121.0,402.70L121.5,402.70L122.0,402.67L122.5,403.20L123.0,403.70L123.5,403.62L124.0,403.40L124.5,403.64L125.0,403.72L125.5,403.78L126.0,403.41L126.5,403.81L127.0,403.47L127.5,403.30L128.0,403.48L128.5,403.36L129.0,403.83L129.5,403.54L130.0,403.50L130.5,403.50L131.0,403.46L131.5,403.50L132.0,403.50L132.5,403.50L133.0,403.50L133.5,403.35L134.0,403.50L134.5,403.30L135.0,402.77L135.5,403.50L136.0,403.34L136.5,403.13L137.0,403.39L137.5,403.50L138.0,403.39L138.5,403.36L139.0,403.50L139.5,403.34L140.0,403.50L140.5,403.50L141.0,403.50L141.5,403.44L142.0,403.46L142.5,403.50L143.0,403.50L143.5,403.24L144.0,403.50L144.5,403.50L145.0,403.50L145.5,403.46L146.0,403.35L146.5,403.32L147.0,403.50L147.5,403.39L148.0,403.50L148.5,403.50L149.0,403.46L149.5,403.20L150.0,402.67L150.5,403.28L151.0,403.40L151.5,403.31L152.0,403.50L152.5,403.50L153.0,403.50L153.5,403.50L154.0,403.12L154.5,403.24L155.0,403.34L155.5,403.48L156.0,403.07L156.5,402.56L157.0,403.21L157.5,403.50L158.0,403.31L158.5,403.05L159.0,402.59L159.5,403.25L160.0,403.33L160.5,403.42L161.0,403.79L161.5,403.42L162.0,403.77L162.5,403.58L163.0,403.53L163.5,403.31L164.0,402.94L164.5,401.35L165.0,399.75L165.5,398.15L166.0,396.56L166.5,395.60L167.0,395.60L167.5,395.60L168.0,395.60L168.5,395.60L169.0,395.60L169.5,396.24L170.0,397.40L170.5,397.40L171.0,397.40L171.5,397.40L172.0,397.40L172.5,397.40L173.0,397.40L173.5,398.21L174.0,399.57L174.5,400.92L175.0,402.27L175.5,403.63L176.0,403.58L176.5,403.39L177.0,403.51L177.5,402.97L178.0,402.30L178.5,401.63L179.0,400.97L179.5,400.30L180.0,399.63L180.5,398.97L181.0,398.30L181.5,397.90L182.0,397.90L182.5,397.90L183.0,397.90L183.5,397.90L184.0,397.90L184.5,397.90L185.0,397.90L185.5,397.90L186.0,398.30L186.5,398.97L187.0,399.63L187.5,398.50L188.0,400.97L188.5,401.63L189.0,402.10L189.5,402.10L190.0,400.72L190.5,401.90L191.0,401.90L191.5,401.90L192.0,400.97L192.5,401.82L193.0,401.90L193.5,401.90L194.0,401.90L194.5,401.90L195.0,401.90L195.5,401.90L196.0,401.53L196.5,401.90L197.0,401.87L197.5,401.50L198.0,401.21L198.5,401.90L199.0,401.90L199.5,401.90L200.0,401.90L200.5,401.85L201.0,401.90L201.5,401.90L202.0,401.90L202.5,401.90L203.0,401.90L203.5,401.90L204.0,401.90L204.5,401.90L205.0,401.52L205.5,401.90L206.0,401.90L206.5,401.90L207.0,401.19L207.5,401.55L208.0,401.90L208.5,401.90L209.0,401.81L209.5,401.90L210.0,400.60L210.5,401.90L211.0,401.90L211.5,401.17L212.0,401.20L212.5,401.02L213.0,400.91L213.5,401.16L214.0,401.68L214.5,401.90L215.0,401.90L215.5,401.90L216.0,401.90L216.5,400.69L217.0,401.77L217.5,401.90L218.0,401.90L218.5,402.73L219.0,403.56L219.5,403.71L220.0,403.70L220.5,403.75L221.0,403.46L221.5,403.89L222.0,403.54L222.5,403.50L223.0,403.63L223.5,403.65L224.0,403.43L224.5,403.60L225.0,403.87L225.5,403.47L226.0,403.32L226.5,403.31L227.0,403.38L227.5,403.87L228.0,403.56L228.5,403.79L229.0,403.40L229.5,403.82L230.0,403.60L230.5,403.36L231.0,403.78L231.5,403.45L232.0,403.31L232.5,403.64L233.0,403.61L233.5,403.85L234.0,403.35L234.5,403.80L235.0,403.45L235.5,403.47L236.0,403.74L236.5,403.31L237.0,403.34L237.5,403.53L238.0,403.65L238.5,403.61L239.0,403.64L239.5,403.50L240.0,403.31L240.5,403.84L241.0,403.73L241.5,403.58L242.0,403.53L242.5,403.48L243.0,403.35L243.5,403.02L244.0,402.40L244.5,402.31L245.0,402.40L245.5,402.40L246.0,402.40L246.5,402.40L247.0,402.40L247.5,402.40L248.0,402.35L248.5,402.25L249.0,402.40L249.5,402.40L250.0,402.40L250.5,401.19L251.0,399.50L251.5,401.19L252.0,402.00L252.5,402.40L253.0,402.40L253.5,402.19L254.0,401.98L254.5,401.77L255.0,401.44L255.5,399.90L256.0,401.22L256.5,401.08L257.0,400.98L257.5,400.92L258.0,400.90L258.5,400.92L259.0,400.98L259.5,401.08L260.0,401.22L260.5,401.38L261.0,401.56L261.5,401.77L262.0,401.98L262.5,401.87L263.0,401.89L263.5,402.40L264.0,402.15L264.5,402.18L265.0,401.10L265.5,402.18L266.0,402.40L266.5,402.40L267.0,402.40L267.5,402.40L268.0,402.01L268.5,402.40L269.0,402.40L269.5,402.40L270.0,402.27L270.5,402.40L271.0,402.40L271.5,402.40L272.0,401.42L272.5,402.27L273.0,402.40L273.5,402.40L274.0,402.24L274.5,402.40L275.0,402.40L275.5,403.02L276.0,403.41L276.5,403.45L277.0,403.61L277.5,403.86L278.0,403.63L278.5,403.32L279.0,403.83L279.5,403.65L280.0,403.44L280.5,403.75L281.0,403.69L281.5,403.59L282.0,403.63L282.5,403.51L283.0,403.32L283.5,403.90L284.0,403.48L284.5,403.66L285.0,403.83L285.5,403.49L286.0,403.47L286.5,403.45L287.0,403.56L287.5,403.89L288.0,403.73L288.5,403.45L289.0,403.78L289.5,403.50L290.0,403.71L290.5,403.57L291.0,403.46L291.5,403.70L292.0,403.82L292.5,403.32L293.0,403.63L293.5,403.42L294.0,403.66L294.5,403.50L295.0,403.42L295.5,403.46L296.0,403.37L296.5,403.29L297.0,403.20L297.5,403.12L298.0,403.05L298.5,402.99L299.0,402.94L299.5,402.91L300.0,402.90L300.5,402.91L301.0,402.94L301.5,402.99L302.0,403.05L302.5,403.12L303.0,403.20L303.5,403.29L304.0,403.37L304.5,403.46L305.0,403.53L305.5,403.60L306.0,403.66L306.5,403.72L307.0,403.36L307.5,403.58L308.0,403.79L308.5,403.76L309.0,403.73L309.5,403.33L310.0,403.43L310.5,403.71L311.0,403.72L311.5,403.42L312.0,403.67L312.5,403.61L313.0,403.68L313.5,403.66L314.0,403.35L314.5,403.52L315.0,403.32L315.5,403.66L316.0,403.31L316.5,403.47L317.0,403.40L317.5,403.64L318.0,403.76L318.5,403.39L319.0,403.82L319.5,403.56L320.0,403.60L320.5,403.31L321.0,403.46L321.5,403.45L322.0,403.86L322.5,403.69L323.0,403.50L323.5,403.35L324.0,403.43L324.5,403.32L325.0,403.40L325.5,403.58L326.0,403.32L326.5,403.77L327.0,403.60L327.5,403.76L328.0,403.37L328.5,403.59L329.0,403.71L329.5,403.33L330.0,403.75L330.5,403.35L331.0,403.55L331.5,403.40L332.0,403.33L332.5,403.60L333.0,403.82L333.5,403.52L334.0,403.41L334.5,403.80L335.0,403.82L335.5,403.83L336.0,403.64L336.5,403.43L337.0,403.35L337.5,403.80L338.0,403.61L338.5,403.58L339.0,403.38L339.5,403.76L340.0,403.73L340.5,403.70L341.0,403.67L341.5,403.64L342.0,403.61L342.5,403.32L343.0,403.53L343.5,403.36L344.0,403.44L344.5,403.40L345.0,403.36L345.5,403.32L346.0,403.28L346.5,403.24L347.0,403.20L347.5,403.17L348.0,403.15L348.5,403.13L349.0,403.11L349.5,403.10L350.0,403.10L350.5,403.10L351.0,403.11L351.5,403.13L352.0,403.15L352.5,403.17L353.0,403.20L353.5,403.24L354.0,403.28L354.5,403.32L355.0,403.36L355.5,403.30L356.0,403.44L356.5,403.49L357.0,403.53L357.5,403.57L358.0,403.61L358.5,403.64L359.0,403.53L359.5,403.70L360.0,403.51L360.5,403.76L361.0,403.78L361.5,403.41L362.0,403.82L362.5,403.61L363.0,403.83L363.5,403.62L364.0,403.36L364.5,403.57L365.0,403.39L365.5,403.54L366.0,403.76L366.5,403.81L367.0,403.40L367.5,403.44L368.0,403.87L368.5,403.35L369.0,403.49L369.5,403.37L370.0,403.66L370.5,403.42L371.0,403.65L371.5,403.52L372.0,403.46L372.5,402.94L373.0,402.23L373.5,401.57L374.0,401.30L374.5,401.57L375.0,402.23L375.5,402.94L376.0,403.46L376.5,403.64L377.0,403.41L377.5,403.86L378.0,403.78L378.5,403.33L379.0,403.38L379.5,403.36L380.0,403.46L380.5,403.59L381.0,403.64L381.5,403.83L382.0,403.47L382.5,403.56L383.0,403.54L383.5,403.64L384.0,403.44L384.5,403.43L385.0,403.53L385.5,403.58L386.0,403.67L386.5,403.52L387.0,403.33L387.5,403.77L388.0,403.71L388.5,403.40L389.0,403.75L389.5,403.61L390.0,403.31L390.5,403.69L391.0,403.80L391.5,403.43L392.0,403.55L392.5,403.49L393.0,403.36L393.5,403.66L394.0,403.63L394.5,403.41L395.0,403.87L395.5,403.63L396.0,403.72L396.5,403.46L397.0,403.65L397.5,403.85L398.0,403.57L398.5,403.31L399.0,403.83L399.5,403.86L400.0,403.82" fill="none" stroke="#e2535e" stroke-width="0.5"/>
<line x1="67.00" y1="403.90" x2="300.00" y2="403.90" stroke="#e46a74" stroke-width="0.8"/>
<line x1="300.00" y1="403.90" x2="510.00" y2="403.90" stroke="#f0b8c0" stroke-width="0.8"/>
<path d="M433,403.9 L436,402.8 L439,403.2 L441,401.8 L443,403.9 Z" fill="#f0a0a0"/>
<rect x="66.70" y="408.60" width="2.80" height="3.90" fill="#f3d224"/>
<rect x="70.50" y="408.60" width="3.50" height="3.90" fill="#f3d224"/>
<rect x="83.50" y="408.60" width="3.50" height="3.90" fill="#f3d224"/>
<rect x="88.00" y="408.60" width="3.00" height="3.90" fill="#f3d224"/>
<rect x="92.00" y="408.60" width="3.00" height="3.90" fill="#f3d224"/>
<rect x="96.00" y="408.60" width="2.20" height="3.90" fill="#f0b020"/>
<rect x="98.40" y="408.60" width="2.60" height="3.90" fill="#f0b020"/>
<rect x="105.80" y="408.60" width="2.70" height="3.90" fill="#f3d224"/>
<rect x="110.50" y="408.60" width="3.30" height="3.90" fill="#f0b020"/>
<rect x="115.90" y="408.60" width="3.30" height="3.90" fill="#ec8a2a"/>
<rect x="120.00" y="408.60" width="3.30" height="3.90" fill="#ec8a2a"/>
<rect x="124.00" y="408.60" width="3.30" height="3.90" fill="#ec8a2a"/>
<rect x="127.50" y="408.60" width="5.50" height="3.90" fill="#ec8a2a"/>
<rect x="133.00" y="408.60" width="2.80" height="3.90" fill="#d8501c"/>
<rect x="140.00" y="408.60" width="3.80" height="3.90" fill="#ec8a2a"/>
<rect x="146.60" y="408.60" width="5.10" height="3.90" fill="#dc4a20"/>
<rect x="151.70" y="408.60" width="2.90" height="3.90" fill="#f0b020"/>
<rect x="156.70" y="408.60" width="2.20" height="3.90" fill="#f3d224"/>
<rect x="160.40" y="408.60" width="5.00" height="3.90" fill="#d83a1c"/>
<rect x="166.00" y="408.60" width="4.50" height="3.90" fill="#f0b020"/>
<rect x="173.30" y="408.60" width="5.80" height="3.90" fill="#d43a1c"/>
<rect x="182.00" y="408.60" width="1.40" height="3.90" fill="#f3d224"/>
<rect x="184.90" y="408.60" width="2.10" height="3.90" fill="#ec8a2a"/>
<rect x="190.70" y="408.60" width="3.00" height="3.90" fill="#f0b020"/>
<rect x="194.30" y="408.60" width="2.80" height="3.90" fill="#f0b020"/>
<rect x="197.50" y="408.60" width="2.50" height="3.90" fill="#ec8a2a"/>
<rect x="201.00" y="408.60" width="3.00" height="3.90" fill="#f3d224"/>
<rect x="210.00" y="408.60" width="4.00" height="3.90" fill="#f3d224"/>
<rect x="222.00" y="408.60" width="4.00" height="3.90" fill="#f3d224"/>
<rect x="229.00" y="408.60" width="4.00" height="3.90" fill="#f3d224"/>
<rect x="237.00" y="408.60" width="4.00" height="3.90" fill="#f3d224"/>
<rect x="243.00" y="408.60" width="5.00" height="3.90" fill="#f3d224"/>
<rect x="253.00" y="408.60" width="4.00" height="3.90" fill="#f3d224"/>
<rect x="262.00" y="408.60" width="8.00" height="3.90" fill="#f3d224"/>
<rect x="275.00" y="408.60" width="5.00" height="3.90" fill="#f3d224"/>
<rect x="288.00" y="408.60" width="12.00" height="3.90" fill="#f3d224"/>
<rect x="305.00" y="408.60" width="7.00" height="3.90" fill="#f3d224"/>
<rect x="318.00" y="408.60" width="7.00" height="3.90" fill="#f3d224"/>
<rect x="325.30" y="408.60" width="3.10" height="3.90" fill="#f3d224"/>
<rect x="371.80" y="408.60" width="3.10" height="3.90" fill="#f3d224"/>
<rect x="379.50" y="408.60" width="2.30" height="3.90" fill="#f3d224"/>
<rect x="392.50" y="408.60" width="7.50" height="3.90" fill="#f3d224"/>
<rect x="407.50" y="408.60" width="8.50" height="3.90" fill="#f3d224"/>
<rect x="432.50" y="408.60" width="3.50" height="3.90" fill="#f3d224"/>
<rect x="448.80" y="408.60" width="4.00" height="3.90" fill="#f3d224"/>
<rect x="456.50" y="408.60" width="4.00" height="3.90" fill="#f3d224"/>
<rect x="462.60" y="408.60" width="4.00" height="3.90" fill="#f3d224"/>
<rect x="475.70" y="408.60" width="4.00" height="3.90" fill="#f3d224"/>
<rect x="483.40" y="408.60" width="4.00" height="3.90" fill="#f3d224"/>
<rect x="491.00" y="408.60" width="3.50" height="3.90" fill="#f3d224"/>
<rect x="505.50" y="408.60" width="3.50" height="3.90" fill="#f3d224"/>
<text x="205.00" y="359.00" font-size="4.9" fill="#303030" textLength="178.80" lengthAdjust="spacingAndGlyphs" stroke="#303030" stroke-width="0.06">H3K4Me1 Mark (Often Found Near Regulatory Elements) on 7 cell lines from ENCODE</text>
<text x="205.00" y="375.80" font-size="4.9" fill="#303030" textLength="178.80" lengthAdjust="spacingAndGlyphs" stroke="#303030" stroke-width="0.06">H3K27Ac Mark (Often Found Near Regulatory Elements) on 7 cell lines from ENCODE</text>
<text x="215.00" y="392.10" font-size="4.9" fill="#303030" textLength="156.30" lengthAdjust="spacingAndGlyphs" stroke="#303030" stroke-width="0.06">H3K4Me3 Mark (Often Found Near Promoters) on 7 cell lines from ENCODE</text>
<text x="207.50" y="408.60" font-size="4.9" fill="#303030" textLength="171.30" lengthAdjust="spacingAndGlyphs" stroke="#303030" stroke-width="0.06">ENCODE Candidate Cis-Regulatory Elements (cCREs) combined from all cell types</text>
<rect x="267.15" y="290.00" width="2.50" height="122.30" fill="#2b0f10"/>
<text x="245.40" y="424.80" font-size="8.9" fill="#222" textLength="39.20" lengthAdjust="spacingAndGlyphs">rs3824666</text>
<text x="140.37" y="483.59" font-size="1.41" fill="#f2a324" stroke="#f2a324" stroke-width="0.0" textLength="9.77" lengthAdjust="spacingAndGlyphs">G</text>
<text x="140.98" y="484.50" font-size="1.31" fill="#1f9a45" stroke="#1f9a45" stroke-width="0.0" textLength="8.25" lengthAdjust="spacingAndGlyphs">A</text>
<text x="149.63" y="484.25" font-size="39.39" fill="#1f9a45" stroke="#1f9a45" stroke-width="0.5" textLength="8.15" lengthAdjust="spacingAndGlyphs">A</text>
<text x="157.26" y="475.04" font-size="11.58" fill="#1d4f9f" stroke="#1d4f9f" stroke-width="0.5" textLength="8.32" lengthAdjust="spacingAndGlyphs">C</text>
<text x="157.83" y="484.25" font-size="12.50" fill="#1f9a45" stroke="#1f9a45" stroke-width="0.5" textLength="7.34" lengthAdjust="spacingAndGlyphs">A</text>
<text x="165.28" y="483.73" font-size="52.97" fill="#1d4f9f" stroke="#1d4f9f" stroke-width="0.5" textLength="8.10" lengthAdjust="spacingAndGlyphs">C</text>
<text x="173.43" y="484.25" font-size="57.85" fill="#1f9a45" stroke="#1f9a45" stroke-width="0.5" textLength="7.54" lengthAdjust="spacingAndGlyphs">A</text>
<text x="181.98" y="479.35" font-size="21.37" fill="#d9233a" stroke="#d9233a" stroke-width="0.5" textLength="7.45" lengthAdjust="spacingAndGlyphs">T</text>
<text x="181.72" y="484.19" font-size="6.21" fill="#f2a324" stroke="#f2a324" stroke-width="0.5" textLength="8.22" lengthAdjust="spacingAndGlyphs">G</text>
<text x="189.85" y="477.53" font-size="22.46" fill="#1d4f9f" stroke="#1d4f9f" stroke-width="0.5" textLength="8.55" lengthAdjust="spacingAndGlyphs">C</text>
<text x="190.43" y="484.25" font-size="8.72" fill="#1f9a45" stroke="#1f9a45" stroke-width="0.5" textLength="7.54" lengthAdjust="spacingAndGlyphs">A</text>
<text x="198.15" y="484.25" font-size="58.00" fill="#d9233a" stroke="#d9233a" stroke-width="0.5" textLength="8.10" lengthAdjust="spacingAndGlyphs">T</text>
<text x="206.65" y="483.75" font-size="51.55" fill="#f2a324" stroke="#f2a324" stroke-width="0.5" textLength="9.29" lengthAdjust="spacingAndGlyphs">G</text>
<text x="215.64" y="478.75" font-size="12.79" fill="#d9233a" stroke="#d9233a" stroke-width="0.5" textLength="5.73" lengthAdjust="spacingAndGlyphs">T</text>
<text x="215.44" y="484.18" font-size="7.06" fill="#f2a324" stroke="#f2a324" stroke-width="0.5" textLength="6.31" lengthAdjust="spacingAndGlyphs">G</text>
<text x="221.73" y="477.95" font-size="14.54" fill="#d9233a" stroke="#d9233a" stroke-width="0.5" textLength="8.75" lengthAdjust="spacingAndGlyphs">T</text>
<text x="221.43" y="481.21" font-size="3.95" fill="#f2a324" stroke="#f2a324" stroke-width="0.5" textLength="9.65" lengthAdjust="spacingAndGlyphs">G</text>
<text x="221.11" y="484.46" font-size="4.24" fill="#1d4f9f" stroke="#1d4f9f" stroke-width="0.0" textLength="9.81" lengthAdjust="spacingAndGlyphs">C</text>
<rect x="205.9" y="439.0" width="10.0" height="65.4" fill="none" stroke="#d2343a" stroke-width="1.0"/>
<text x="130.80" y="493.40" font-size="4.8" fill="#555" textLength="5.90" lengthAdjust="spacingAndGlyphs">Ref</text>
<text x="130.80" y="500.60" font-size="4.8" fill="#555" textLength="5.90" lengthAdjust="spacingAndGlyphs">ALT</text>
<text x="150.90" y="493.40" font-size="4.8" fill="#d84040" textLength="3.20" lengthAdjust="spacingAndGlyphs">A</text>
<text x="159.15" y="493.40" font-size="4.8" fill="#7a7a7a" textLength="3.20" lengthAdjust="spacingAndGlyphs">G</text>
<text x="167.15" y="493.40" font-size="4.8" fill="#7a7a7a" textLength="3.20" lengthAdjust="spacingAndGlyphs">C</text>
<text x="175.40" y="493.40" font-size="4.8" fill="#7a7a7a" textLength="3.20" lengthAdjust="spacingAndGlyphs">A</text>
<text x="183.40" y="493.40" font-size="4.8" fill="#7a7a7a" textLength="3.20" lengthAdjust="spacingAndGlyphs">G</text>
<text x="191.40" y="493.40" font-size="4.8" fill="#7a7a7a" textLength="3.20" lengthAdjust="spacingAndGlyphs">C</text>
<text x="199.65" y="493.40" font-size="4.8" fill="#7a7a7a" textLength="3.20" lengthAdjust="spacingAndGlyphs">T</text>
<text x="208.40" y="493.40" font-size="4.8" fill="#7a7a7a" textLength="3.20" lengthAdjust="spacingAndGlyphs">G</text>
<text x="217.15" y="493.40" font-size="4.8" fill="#7a7a7a" textLength="3.20" lengthAdjust="spacingAndGlyphs">T</text>
<text x="225.40" y="493.40" font-size="4.8" fill="#7a7a7a" textLength="3.20" lengthAdjust="spacingAndGlyphs">T</text>
<text x="150.90" y="500.60" font-size="4.8" fill="#d84040" textLength="3.20" lengthAdjust="spacingAndGlyphs">A</text>
<text x="159.15" y="500.60" font-size="4.8" fill="#7a7a7a" textLength="3.20" lengthAdjust="spacingAndGlyphs">G</text>
<text x="167.15" y="500.60" font-size="4.8" fill="#7a7a7a" textLength="3.20" lengthAdjust="spacingAndGlyphs">C</text>
<text x="175.40" y="500.60" font-size="4.8" fill="#7a7a7a" textLength="3.20" lengthAdjust="spacingAndGlyphs">A</text>
<text x="183.40" y="500.60" font-size="4.8" fill="#7a7a7a" textLength="3.20" lengthAdjust="spacingAndGlyphs">G</text>
<text x="191.40" y="500.60" font-size="4.8" fill="#7a7a7a" textLength="3.20" lengthAdjust="spacingAndGlyphs">C</text>
<text x="199.65" y="500.60" font-size="4.8" fill="#7a7a7a" textLength="3.20" lengthAdjust="spacingAndGlyphs">T</text>
<text x="208.40" y="500.60" font-size="4.8" fill="#d84040" textLength="3.20" lengthAdjust="spacingAndGlyphs">A</text>
<text x="217.15" y="500.60" font-size="4.8" fill="#7a7a7a" textLength="3.20" lengthAdjust="spacingAndGlyphs">T</text>
<text x="225.40" y="500.60" font-size="4.8" fill="#7a7a7a" textLength="3.20" lengthAdjust="spacingAndGlyphs">T</text>
<text x="238.50" y="473.30" font-size="4.6" fill="#4a4a4a" textLength="10.00" lengthAdjust="spacingAndGlyphs">Fimo</text>
<text x="234.70" y="482.10" font-size="4.6" fill="#4a4a4a" textLength="14.70" lengthAdjust="spacingAndGlyphs">q-value</text>
<text x="236.80" y="492.60" font-size="4.8" fill="#4a4a4a" textLength="12.20" lengthAdjust="spacingAndGlyphs">0.009</text>
<text x="237.20" y="500.60" font-size="4.8" fill="#4a4a4a" textLength="11.80" lengthAdjust="spacingAndGlyphs">0.111</text>
<text x="182.00" y="521.50" font-size="8.9" fill="#222" textLength="20.20" lengthAdjust="spacingAndGlyphs">TCF3</text>
<text x="336.43" y="478.35" font-size="7.12" fill="#1f9a45" stroke="#1f9a45" stroke-width="0.5" textLength="7.14" lengthAdjust="spacingAndGlyphs">A</text>
<text x="335.90" y="485.65" font-size="9.75" fill="#f2a324" stroke="#f2a324" stroke-width="0.5" textLength="8.46" lengthAdjust="spacingAndGlyphs">G</text>
<text x="346.23" y="478.35" font-size="21.95" fill="#1f9a45" stroke="#1f9a45" stroke-width="0.5" textLength="6.94" lengthAdjust="spacingAndGlyphs">A</text>
<text x="345.72" y="485.65" font-size="9.75" fill="#f2a324" stroke="#f2a324" stroke-width="0.5" textLength="8.22" lengthAdjust="spacingAndGlyphs">G</text>
<text x="355.42" y="485.16" font-size="60.03" fill="#1d4f9f" stroke="#1d4f9f" stroke-width="0.5" textLength="8.89" lengthAdjust="spacingAndGlyphs">C</text>
<text x="365.42" y="485.75" font-size="55.52" fill="#1f9a45" stroke="#1f9a45" stroke-width="0.5" textLength="8.55" lengthAdjust="spacingAndGlyphs">A</text>
<text x="373.96" y="481.43" font-size="53.53" fill="#f2a324" stroke="#f2a324" stroke-width="0.5" textLength="10.72" lengthAdjust="spacingAndGlyphs">G</text>
<text x="373.96" y="485.70" font-size="4.66" fill="#f2a324" stroke="#f2a324" stroke-width="0.5" textLength="10.72" lengthAdjust="spacingAndGlyphs">G</text>
<text x="383.98" y="481.67" font-size="29.10" fill="#1d4f9f" stroke="#1d4f9f" stroke-width="0.5" textLength="9.46" lengthAdjust="spacingAndGlyphs">C</text>
<text x="384.01" y="485.70" font-size="4.66" fill="#f2a324" stroke="#f2a324" stroke-width="0.5" textLength="9.89" lengthAdjust="spacingAndGlyphs">G</text>
<text x="392.90" y="485.75" font-size="60.61" fill="#d9233a" stroke="#d9233a" stroke-width="0.5" textLength="9.61" lengthAdjust="spacingAndGlyphs">T</text>
<text x="402.47" y="485.19" font-size="57.63" fill="#f2a324" stroke="#f2a324" stroke-width="0.5" textLength="10.48" lengthAdjust="spacingAndGlyphs">G</text>
<text x="412.53" y="484.30" font-size="2.47" fill="#d9233a" stroke="#d9233a" stroke-width="0.0" textLength="7.45" lengthAdjust="spacingAndGlyphs">T</text>
<text x="412.25" y="485.98" font-size="2.40" fill="#1d4f9f" stroke="#1d4f9f" stroke-width="0.0" textLength="7.87" lengthAdjust="spacingAndGlyphs">C</text>
<rect x="354.0" y="440.2" width="11.2" height="65.9" fill="none" stroke="#d2343a" stroke-width="1.0"/>
<text x="347.90" y="494.30" font-size="4.8" fill="#7a7a7a" textLength="3.20" lengthAdjust="spacingAndGlyphs">A</text>
<text x="357.90" y="494.30" font-size="4.8" fill="#e07070" textLength="3.20" lengthAdjust="spacingAndGlyphs">C</text>
<text x="367.90" y="494.30" font-size="4.8" fill="#7a7a7a" textLength="3.20" lengthAdjust="spacingAndGlyphs">A</text>
<text x="377.15" y="494.30" font-size="4.8" fill="#7a7a7a" textLength="3.20" lengthAdjust="spacingAndGlyphs">G</text>
<text x="386.65" y="494.30" font-size="4.8" fill="#7a7a7a" textLength="3.20" lengthAdjust="spacingAndGlyphs">C</text>
<text x="396.40" y="494.30" font-size="4.8" fill="#7a7a7a" textLength="3.20" lengthAdjust="spacingAndGlyphs">T</text>
<text x="406.40" y="494.30" font-size="4.8" fill="#7a7a7a" textLength="3.20" lengthAdjust="spacingAndGlyphs">G</text>
<text x="415.90" y="494.30" font-size="4.8" fill="#7a7a7a" textLength="3.20" lengthAdjust="spacingAndGlyphs">C</text>
<text x="347.90" y="502.90" font-size="4.8" fill="#7a7a7a" textLength="3.20" lengthAdjust="spacingAndGlyphs">A</text>
<text x="357.90" y="502.90" font-size="4.8" fill="#e07070" textLength="3.20" lengthAdjust="spacingAndGlyphs">T</text>
<text x="367.90" y="502.90" font-size="4.8" fill="#7a7a7a" textLength="3.20" lengthAdjust="spacingAndGlyphs">A</text>
<text x="377.15" y="502.90" font-size="4.8" fill="#7a7a7a" textLength="3.20" lengthAdjust="spacingAndGlyphs">G</text>
<text x="386.65" y="502.90" font-size="4.8" fill="#7a7a7a" textLength="3.20" lengthAdjust="spacingAndGlyphs">C</text>
<text x="396.40" y="502.90" font-size="4.8" fill="#7a7a7a" textLength="3.20" lengthAdjust="spacingAndGlyphs">T</text>
<text x="406.40" y="502.90" font-size="4.8" fill="#7a7a7a" textLength="3.20" lengthAdjust="spacingAndGlyphs">G</text>
<text x="415.90" y="502.90" font-size="4.8" fill="#7a7a7a" textLength="3.20" lengthAdjust="spacingAndGlyphs">C</text>
<text x="430.00" y="473.30" font-size="4.6" fill="#4a4a4a" textLength="10.10" lengthAdjust="spacingAndGlyphs">Fimo</text>
<text x="429.20" y="482.10" font-size="4.6" fill="#4a4a4a" textLength="15.90" lengthAdjust="spacingAndGlyphs">q-value</text>
<text x="428.00" y="494.30" font-size="4.8" fill="#4a4a4a" textLength="14.20" lengthAdjust="spacingAndGlyphs">0.0001</text>
<text x="428.00" y="502.70" font-size="4.8" fill="#4a4a4a" textLength="14.20" lengthAdjust="spacingAndGlyphs">0.0253</text>
<text x="373.80" y="522.80" font-size="8.9" fill="#222" textLength="24.40" lengthAdjust="spacingAndGlyphs">TCF12</text>
</svg>
</body></html>
